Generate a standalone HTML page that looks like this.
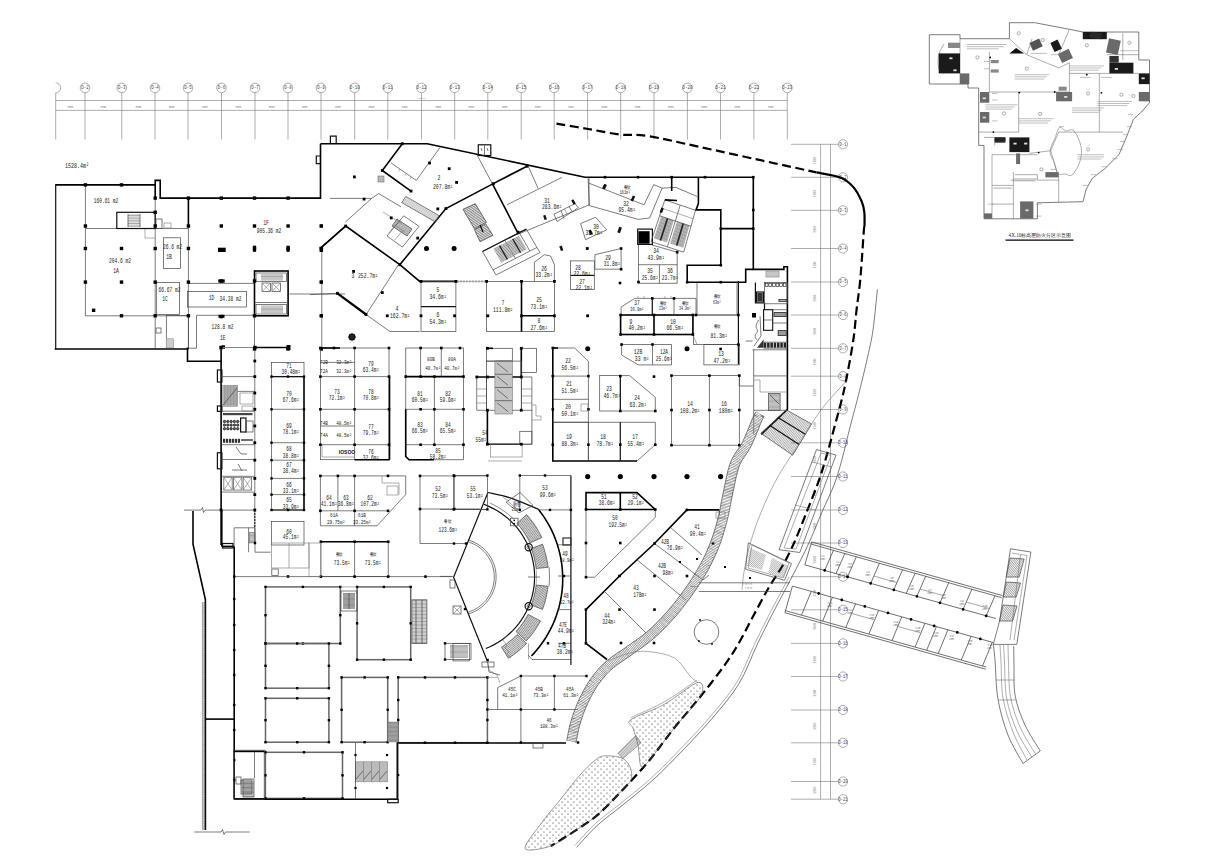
<!DOCTYPE html>
<html><head><meta charset="utf-8"><style>
html,body{margin:0;padding:0;background:#fff;width:1210px;height:862px;overflow:hidden;}
svg{display:block;font-family:"Liberation Serif",serif;}
</style></head><body>
<svg width="1210" height="862" viewBox="0 0 1210 862" shape-rendering="auto"><path d="M55.7,82.9 A5,5 0 0 1 55.7,92.9" stroke="#777" stroke-width="0.6" fill="none"/>
<line x1="55.7" y1="92.9" x2="55.7" y2="139.5" stroke="#777" stroke-width="0.6" fill="none"/>
<circle cx="85" cy="87.9" r="4.8" stroke="#777" stroke-width="0.6" fill="none"/>
<text transform="translate(85,89.2) scale(0.72,1)" font-size="5.8" text-anchor="middle" fill="#444" font-family="Liberation Mono">D-2</text>
<line x1="85" y1="92.7" x2="85" y2="139.5" stroke="#777" stroke-width="0.6" fill="none"/>
<circle cx="121.8" cy="87.9" r="4.8" stroke="#777" stroke-width="0.6" fill="none"/>
<text transform="translate(121.8,89.2) scale(0.72,1)" font-size="5.8" text-anchor="middle" fill="#444" font-family="Liberation Mono">D-3</text>
<line x1="121.8" y1="92.7" x2="121.8" y2="139.5" stroke="#777" stroke-width="0.6" fill="none"/>
<circle cx="155" cy="87.9" r="4.8" stroke="#777" stroke-width="0.6" fill="none"/>
<text transform="translate(155,89.2) scale(0.72,1)" font-size="5.8" text-anchor="middle" fill="#444" font-family="Liberation Mono">D-4</text>
<line x1="155" y1="92.7" x2="155" y2="139.5" stroke="#777" stroke-width="0.6" fill="none"/>
<circle cx="188" cy="87.9" r="4.8" stroke="#777" stroke-width="0.6" fill="none"/>
<text transform="translate(188,89.2) scale(0.72,1)" font-size="5.8" text-anchor="middle" fill="#444" font-family="Liberation Mono">D-5</text>
<line x1="188" y1="92.7" x2="188" y2="139.5" stroke="#777" stroke-width="0.6" fill="none"/>
<circle cx="221.5" cy="87.9" r="4.8" stroke="#777" stroke-width="0.6" fill="none"/>
<text transform="translate(221.5,89.2) scale(0.72,1)" font-size="5.8" text-anchor="middle" fill="#444" font-family="Liberation Mono">D-6</text>
<line x1="221.5" y1="92.7" x2="221.5" y2="139.5" stroke="#777" stroke-width="0.6" fill="none"/>
<circle cx="255" cy="87.9" r="4.8" stroke="#777" stroke-width="0.6" fill="none"/>
<text transform="translate(255,89.2) scale(0.72,1)" font-size="5.8" text-anchor="middle" fill="#444" font-family="Liberation Mono">D-7</text>
<line x1="255" y1="92.7" x2="255" y2="139.5" stroke="#777" stroke-width="0.6" fill="none"/>
<circle cx="288" cy="87.9" r="4.8" stroke="#777" stroke-width="0.6" fill="none"/>
<text transform="translate(288,89.2) scale(0.72,1)" font-size="5.8" text-anchor="middle" fill="#444" font-family="Liberation Mono">D-8</text>
<line x1="288" y1="92.7" x2="288" y2="139.5" stroke="#777" stroke-width="0.6" fill="none"/>
<circle cx="321" cy="87.9" r="4.8" stroke="#777" stroke-width="0.6" fill="none"/>
<text transform="translate(321,89.2) scale(0.72,1)" font-size="5.8" text-anchor="middle" fill="#444" font-family="Liberation Mono">D-9</text>
<line x1="321" y1="92.7" x2="321" y2="139.5" stroke="#777" stroke-width="0.6" fill="none"/>
<circle cx="354.7" cy="87.9" r="4.8" stroke="#777" stroke-width="0.6" fill="none"/>
<text transform="translate(354.7,89.2) scale(0.72,1)" font-size="5.8" text-anchor="middle" fill="#444" font-family="Liberation Mono">D-10</text>
<line x1="354.7" y1="92.7" x2="354.7" y2="139.5" stroke="#777" stroke-width="0.6" fill="none"/>
<circle cx="387.8" cy="87.9" r="4.8" stroke="#777" stroke-width="0.6" fill="none"/>
<text transform="translate(387.8,89.2) scale(0.72,1)" font-size="5.8" text-anchor="middle" fill="#444" font-family="Liberation Mono">D-11</text>
<line x1="387.8" y1="92.7" x2="387.8" y2="139.5" stroke="#777" stroke-width="0.6" fill="none"/>
<circle cx="421.5" cy="87.9" r="4.8" stroke="#777" stroke-width="0.6" fill="none"/>
<text transform="translate(421.5,89.2) scale(0.72,1)" font-size="5.8" text-anchor="middle" fill="#444" font-family="Liberation Mono">D-12</text>
<line x1="421.5" y1="92.7" x2="421.5" y2="139.5" stroke="#777" stroke-width="0.6" fill="none"/>
<circle cx="454.7" cy="87.9" r="4.8" stroke="#777" stroke-width="0.6" fill="none"/>
<text transform="translate(454.7,89.2) scale(0.72,1)" font-size="5.8" text-anchor="middle" fill="#444" font-family="Liberation Mono">D-13</text>
<line x1="454.7" y1="92.7" x2="454.7" y2="139.5" stroke="#777" stroke-width="0.6" fill="none"/>
<circle cx="487.8" cy="87.9" r="4.8" stroke="#777" stroke-width="0.6" fill="none"/>
<text transform="translate(487.8,89.2) scale(0.72,1)" font-size="5.8" text-anchor="middle" fill="#444" font-family="Liberation Mono">D-14</text>
<line x1="487.8" y1="92.7" x2="487.8" y2="139.5" stroke="#777" stroke-width="0.6" fill="none"/>
<circle cx="521.2" cy="87.9" r="4.8" stroke="#777" stroke-width="0.6" fill="none"/>
<text transform="translate(521.2,89.2) scale(0.72,1)" font-size="5.8" text-anchor="middle" fill="#444" font-family="Liberation Mono">D-15</text>
<line x1="521.2" y1="92.7" x2="521.2" y2="139.5" stroke="#777" stroke-width="0.6" fill="none"/>
<circle cx="554.2" cy="87.9" r="4.8" stroke="#777" stroke-width="0.6" fill="none"/>
<text transform="translate(554.2,89.2) scale(0.72,1)" font-size="5.8" text-anchor="middle" fill="#444" font-family="Liberation Mono">D-16</text>
<line x1="554.2" y1="92.7" x2="554.2" y2="139.5" stroke="#777" stroke-width="0.6" fill="none"/>
<circle cx="587.6" cy="87.9" r="4.8" stroke="#777" stroke-width="0.6" fill="none"/>
<text transform="translate(587.6,89.2) scale(0.72,1)" font-size="5.8" text-anchor="middle" fill="#444" font-family="Liberation Mono">D-17</text>
<line x1="587.6" y1="92.7" x2="587.6" y2="139.5" stroke="#777" stroke-width="0.6" fill="none"/>
<circle cx="620.7" cy="87.9" r="4.8" stroke="#777" stroke-width="0.6" fill="none"/>
<text transform="translate(620.7,89.2) scale(0.72,1)" font-size="5.8" text-anchor="middle" fill="#444" font-family="Liberation Mono">D-18</text>
<line x1="620.7" y1="92.7" x2="620.7" y2="139.5" stroke="#777" stroke-width="0.6" fill="none"/>
<circle cx="654" cy="87.9" r="4.8" stroke="#777" stroke-width="0.6" fill="none"/>
<text transform="translate(654,89.2) scale(0.72,1)" font-size="5.8" text-anchor="middle" fill="#444" font-family="Liberation Mono">D-19</text>
<line x1="654" y1="92.7" x2="654" y2="139.5" stroke="#777" stroke-width="0.6" fill="none"/>
<circle cx="687.4" cy="87.9" r="4.8" stroke="#777" stroke-width="0.6" fill="none"/>
<text transform="translate(687.4,89.2) scale(0.72,1)" font-size="5.8" text-anchor="middle" fill="#444" font-family="Liberation Mono">D-20</text>
<line x1="687.4" y1="92.7" x2="687.4" y2="139.5" stroke="#777" stroke-width="0.6" fill="none"/>
<circle cx="720.5" cy="87.9" r="4.8" stroke="#777" stroke-width="0.6" fill="none"/>
<text transform="translate(720.5,89.2) scale(0.72,1)" font-size="5.8" text-anchor="middle" fill="#444" font-family="Liberation Mono">D-21</text>
<line x1="720.5" y1="92.7" x2="720.5" y2="139.5" stroke="#777" stroke-width="0.6" fill="none"/>
<circle cx="753.9" cy="87.9" r="4.8" stroke="#777" stroke-width="0.6" fill="none"/>
<text transform="translate(753.9,89.2) scale(0.72,1)" font-size="5.8" text-anchor="middle" fill="#444" font-family="Liberation Mono">D-22</text>
<line x1="753.9" y1="92.7" x2="753.9" y2="139.5" stroke="#777" stroke-width="0.6" fill="none"/>
<circle cx="787.3" cy="87.9" r="4.8" stroke="#777" stroke-width="0.6" fill="none"/>
<text transform="translate(787.3,89.2) scale(0.72,1)" font-size="5.8" text-anchor="middle" fill="#444" font-family="Liberation Mono">D-23</text>
<line x1="787.3" y1="92.7" x2="787.3" y2="139.5" stroke="#777" stroke-width="0.6" fill="none"/>
<line x1="55.7" y1="100.5" x2="787.3" y2="100.5" stroke="#777" stroke-width="0.6" fill="none"/>
<line x1="55.7" y1="110.4" x2="787.3" y2="110.4" stroke="#777" stroke-width="0.6" fill="none"/>
<text transform="translate(70.3,107.6) scale(0.8,1)" font-size="3" text-anchor="middle" fill="#777" font-family="Liberation Mono">3300</text>
<text transform="translate(103.4,107.6) scale(0.8,1)" font-size="3" text-anchor="middle" fill="#777" font-family="Liberation Mono">3300</text>
<text transform="translate(138.4,107.6) scale(0.8,1)" font-size="3" text-anchor="middle" fill="#777" font-family="Liberation Mono">3300</text>
<text transform="translate(171.5,107.6) scale(0.8,1)" font-size="3" text-anchor="middle" fill="#777" font-family="Liberation Mono">3300</text>
<text transform="translate(204.8,107.6) scale(0.8,1)" font-size="3" text-anchor="middle" fill="#777" font-family="Liberation Mono">3300</text>
<text transform="translate(238.2,107.6) scale(0.8,1)" font-size="3" text-anchor="middle" fill="#777" font-family="Liberation Mono">3300</text>
<text transform="translate(271.5,107.6) scale(0.8,1)" font-size="3" text-anchor="middle" fill="#777" font-family="Liberation Mono">3300</text>
<text transform="translate(304.5,107.6) scale(0.8,1)" font-size="3" text-anchor="middle" fill="#777" font-family="Liberation Mono">3300</text>
<text transform="translate(337.9,107.6) scale(0.8,1)" font-size="3" text-anchor="middle" fill="#777" font-family="Liberation Mono">3300</text>
<text transform="translate(371.2,107.6) scale(0.8,1)" font-size="3" text-anchor="middle" fill="#777" font-family="Liberation Mono">3300</text>
<text transform="translate(404.6,107.6) scale(0.8,1)" font-size="3" text-anchor="middle" fill="#777" font-family="Liberation Mono">3300</text>
<text transform="translate(438.1,107.6) scale(0.8,1)" font-size="3" text-anchor="middle" fill="#777" font-family="Liberation Mono">3300</text>
<text transform="translate(471.2,107.6) scale(0.8,1)" font-size="3" text-anchor="middle" fill="#777" font-family="Liberation Mono">3300</text>
<text transform="translate(504.5,107.6) scale(0.8,1)" font-size="3" text-anchor="middle" fill="#777" font-family="Liberation Mono">3300</text>
<text transform="translate(537.7,107.6) scale(0.8,1)" font-size="3" text-anchor="middle" fill="#777" font-family="Liberation Mono">3300</text>
<text transform="translate(570.9,107.6) scale(0.8,1)" font-size="3" text-anchor="middle" fill="#777" font-family="Liberation Mono">3300</text>
<text transform="translate(604.2,107.6) scale(0.8,1)" font-size="3" text-anchor="middle" fill="#777" font-family="Liberation Mono">3300</text>
<text transform="translate(637.4,107.6) scale(0.8,1)" font-size="3" text-anchor="middle" fill="#777" font-family="Liberation Mono">3300</text>
<text transform="translate(670.7,107.6) scale(0.8,1)" font-size="3" text-anchor="middle" fill="#777" font-family="Liberation Mono">3300</text>
<text transform="translate(704,107.6) scale(0.8,1)" font-size="3" text-anchor="middle" fill="#777" font-family="Liberation Mono">3300</text>
<text transform="translate(737.2,107.6) scale(0.8,1)" font-size="3" text-anchor="middle" fill="#777" font-family="Liberation Mono">3300</text>
<text transform="translate(770.6,107.6) scale(0.8,1)" font-size="3" text-anchor="middle" fill="#777" font-family="Liberation Mono">3300</text>
<text transform="translate(421.5,99.3) scale(1.0,1)" font-size="2.3" text-anchor="middle" fill="#888" font-family="Liberation Mono">138000</text>
<circle cx="843" cy="144.3" r="4.6" stroke="#777" stroke-width="0.6" fill="none"/>
<text transform="translate(843,145.6) scale(0.7,1)" font-size="5.4" text-anchor="middle" fill="#444" font-family="Liberation Mono">D-1</text>
<line x1="791" y1="144.3" x2="838.4" y2="144.3" stroke="#777" stroke-width="0.6" fill="none"/>
<circle cx="843" cy="177.3" r="4.6" stroke="#777" stroke-width="0.6" fill="none"/>
<text transform="translate(843,178.6) scale(0.7,1)" font-size="5.4" text-anchor="middle" fill="#444" font-family="Liberation Mono">D-2</text>
<line x1="791" y1="177.3" x2="838.4" y2="177.3" stroke="#777" stroke-width="0.6" fill="none"/>
<circle cx="843" cy="210.3" r="4.6" stroke="#777" stroke-width="0.6" fill="none"/>
<text transform="translate(843,211.6) scale(0.7,1)" font-size="5.4" text-anchor="middle" fill="#444" font-family="Liberation Mono">D-3</text>
<line x1="791" y1="210.3" x2="838.4" y2="210.3" stroke="#777" stroke-width="0.6" fill="none"/>
<circle cx="843" cy="248.5" r="4.6" stroke="#777" stroke-width="0.6" fill="none"/>
<text transform="translate(843,249.8) scale(0.7,1)" font-size="5.4" text-anchor="middle" fill="#444" font-family="Liberation Mono">D-4</text>
<line x1="791" y1="248.5" x2="838.4" y2="248.5" stroke="#777" stroke-width="0.6" fill="none"/>
<circle cx="843" cy="282" r="4.6" stroke="#777" stroke-width="0.6" fill="none"/>
<text transform="translate(843,283.3) scale(0.7,1)" font-size="5.4" text-anchor="middle" fill="#444" font-family="Liberation Mono">D-5</text>
<line x1="791" y1="282" x2="838.4" y2="282" stroke="#777" stroke-width="0.6" fill="none"/>
<circle cx="843" cy="315" r="4.6" stroke="#777" stroke-width="0.6" fill="none"/>
<text transform="translate(843,316.3) scale(0.7,1)" font-size="5.4" text-anchor="middle" fill="#444" font-family="Liberation Mono">D-6</text>
<line x1="791" y1="315" x2="838.4" y2="315" stroke="#777" stroke-width="0.6" fill="none"/>
<circle cx="843" cy="348.3" r="4.6" stroke="#777" stroke-width="0.6" fill="none"/>
<text transform="translate(843,349.6) scale(0.7,1)" font-size="5.4" text-anchor="middle" fill="#444" font-family="Liberation Mono">D-7</text>
<line x1="791" y1="348.3" x2="838.4" y2="348.3" stroke="#777" stroke-width="0.6" fill="none"/>
<circle cx="843" cy="376.2" r="4.6" stroke="#777" stroke-width="0.6" fill="none"/>
<text transform="translate(843,377.5) scale(0.7,1)" font-size="5.4" text-anchor="middle" fill="#444" font-family="Liberation Mono">D-8</text>
<line x1="791" y1="376.2" x2="838.4" y2="376.2" stroke="#777" stroke-width="0.6" fill="none"/>
<circle cx="843" cy="409.5" r="4.6" stroke="#777" stroke-width="0.6" fill="none"/>
<text transform="translate(843,410.8) scale(0.7,1)" font-size="5.4" text-anchor="middle" fill="#444" font-family="Liberation Mono">D-9</text>
<line x1="791" y1="409.5" x2="838.4" y2="409.5" stroke="#777" stroke-width="0.6" fill="none"/>
<circle cx="843" cy="442.8" r="4.6" stroke="#777" stroke-width="0.6" fill="none"/>
<text transform="translate(843,444.1) scale(0.7,1)" font-size="5.4" text-anchor="middle" fill="#444" font-family="Liberation Mono">D-10</text>
<line x1="791" y1="442.8" x2="838.4" y2="442.8" stroke="#777" stroke-width="0.6" fill="none"/>
<circle cx="843" cy="476.5" r="4.6" stroke="#777" stroke-width="0.6" fill="none"/>
<text transform="translate(843,477.8) scale(0.7,1)" font-size="5.4" text-anchor="middle" fill="#444" font-family="Liberation Mono">D-11</text>
<line x1="791" y1="476.5" x2="838.4" y2="476.5" stroke="#777" stroke-width="0.6" fill="none"/>
<circle cx="843" cy="510" r="4.6" stroke="#777" stroke-width="0.6" fill="none"/>
<text transform="translate(843,511.3) scale(0.7,1)" font-size="5.4" text-anchor="middle" fill="#444" font-family="Liberation Mono">D-12</text>
<line x1="791" y1="510" x2="838.4" y2="510" stroke="#777" stroke-width="0.6" fill="none"/>
<circle cx="843" cy="543" r="4.6" stroke="#777" stroke-width="0.6" fill="none"/>
<text transform="translate(843,544.3) scale(0.7,1)" font-size="5.4" text-anchor="middle" fill="#444" font-family="Liberation Mono">D-13</text>
<line x1="791" y1="543" x2="838.4" y2="543" stroke="#777" stroke-width="0.6" fill="none"/>
<circle cx="843" cy="576.7" r="4.6" stroke="#777" stroke-width="0.6" fill="none"/>
<text transform="translate(843,578) scale(0.7,1)" font-size="5.4" text-anchor="middle" fill="#444" font-family="Liberation Mono">D-14</text>
<line x1="791" y1="576.7" x2="838.4" y2="576.7" stroke="#777" stroke-width="0.6" fill="none"/>
<circle cx="843" cy="609.8" r="4.6" stroke="#777" stroke-width="0.6" fill="none"/>
<text transform="translate(843,611.1) scale(0.7,1)" font-size="5.4" text-anchor="middle" fill="#444" font-family="Liberation Mono">D-15</text>
<line x1="791" y1="609.8" x2="838.4" y2="609.8" stroke="#777" stroke-width="0.6" fill="none"/>
<circle cx="843" cy="643.4" r="4.6" stroke="#777" stroke-width="0.6" fill="none"/>
<text transform="translate(843,644.7) scale(0.7,1)" font-size="5.4" text-anchor="middle" fill="#444" font-family="Liberation Mono">D-16</text>
<line x1="791" y1="643.4" x2="838.4" y2="643.4" stroke="#777" stroke-width="0.6" fill="none"/>
<circle cx="843" cy="676.5" r="4.6" stroke="#777" stroke-width="0.6" fill="none"/>
<text transform="translate(843,677.8) scale(0.7,1)" font-size="5.4" text-anchor="middle" fill="#444" font-family="Liberation Mono">D-17</text>
<line x1="791" y1="676.5" x2="838.4" y2="676.5" stroke="#777" stroke-width="0.6" fill="none"/>
<circle cx="843" cy="710" r="4.6" stroke="#777" stroke-width="0.6" fill="none"/>
<text transform="translate(843,711.3) scale(0.7,1)" font-size="5.4" text-anchor="middle" fill="#444" font-family="Liberation Mono">D-18</text>
<line x1="791" y1="710" x2="838.4" y2="710" stroke="#777" stroke-width="0.6" fill="none"/>
<circle cx="843" cy="742.8" r="4.6" stroke="#777" stroke-width="0.6" fill="none"/>
<text transform="translate(843,744.1) scale(0.7,1)" font-size="5.4" text-anchor="middle" fill="#444" font-family="Liberation Mono">D-19</text>
<line x1="791" y1="742.8" x2="838.4" y2="742.8" stroke="#777" stroke-width="0.6" fill="none"/>
<circle cx="843" cy="781.5" r="4.6" stroke="#777" stroke-width="0.6" fill="none"/>
<text transform="translate(843,782.8) scale(0.7,1)" font-size="5.4" text-anchor="middle" fill="#444" font-family="Liberation Mono">D-20</text>
<line x1="791" y1="781.5" x2="838.4" y2="781.5" stroke="#777" stroke-width="0.6" fill="none"/>
<circle cx="843" cy="799.2" r="4.6" stroke="#777" stroke-width="0.6" fill="none"/>
<text transform="translate(843,800.5) scale(0.7,1)" font-size="5.4" text-anchor="middle" fill="#444" font-family="Liberation Mono">D-21</text>
<line x1="791" y1="799.2" x2="838.4" y2="799.2" stroke="#777" stroke-width="0.6" fill="none"/>
<line x1="820.6" y1="144.3" x2="820.6" y2="799.2" stroke="#777" stroke-width="0.6" fill="none"/>
<line x1="830.5" y1="144.3" x2="830.5" y2="799.2" stroke="#777" stroke-width="0.6" fill="none"/>
<text x="0" y="0" font-size="3.6" fill="#777" font-family="Liberation Serif" transform="translate(816,160.8) rotate(-90)" text-anchor="middle">3300</text>
<text x="0" y="0" font-size="3.6" fill="#777" font-family="Liberation Serif" transform="translate(816,193.8) rotate(-90)" text-anchor="middle">3300</text>
<text x="0" y="0" font-size="3.6" fill="#777" font-family="Liberation Serif" transform="translate(816,229.4) rotate(-90)" text-anchor="middle">3300</text>
<text x="0" y="0" font-size="3.6" fill="#777" font-family="Liberation Serif" transform="translate(816,265.2) rotate(-90)" text-anchor="middle">3300</text>
<text x="0" y="0" font-size="3.6" fill="#777" font-family="Liberation Serif" transform="translate(816,298.5) rotate(-90)" text-anchor="middle">3300</text>
<text x="0" y="0" font-size="3.6" fill="#777" font-family="Liberation Serif" transform="translate(816,331.6) rotate(-90)" text-anchor="middle">3300</text>
<text x="0" y="0" font-size="3.6" fill="#777" font-family="Liberation Serif" transform="translate(816,362.2) rotate(-90)" text-anchor="middle">3300</text>
<text x="0" y="0" font-size="3.6" fill="#777" font-family="Liberation Serif" transform="translate(816,392.9) rotate(-90)" text-anchor="middle">3300</text>
<text x="0" y="0" font-size="3.6" fill="#777" font-family="Liberation Serif" transform="translate(816,426.1) rotate(-90)" text-anchor="middle">3300</text>
<text x="0" y="0" font-size="3.6" fill="#777" font-family="Liberation Serif" transform="translate(816,459.6) rotate(-90)" text-anchor="middle">3300</text>
<text x="0" y="0" font-size="3.6" fill="#777" font-family="Liberation Serif" transform="translate(816,493.2) rotate(-90)" text-anchor="middle">3300</text>
<text x="0" y="0" font-size="3.6" fill="#777" font-family="Liberation Serif" transform="translate(816,526.5) rotate(-90)" text-anchor="middle">3300</text>
<text x="0" y="0" font-size="3.6" fill="#777" font-family="Liberation Serif" transform="translate(816,559.9) rotate(-90)" text-anchor="middle">3300</text>
<text x="0" y="0" font-size="3.6" fill="#777" font-family="Liberation Serif" transform="translate(816,593.2) rotate(-90)" text-anchor="middle">3300</text>
<text x="0" y="0" font-size="3.6" fill="#777" font-family="Liberation Serif" transform="translate(816,626.6) rotate(-90)" text-anchor="middle">3300</text>
<text x="0" y="0" font-size="3.6" fill="#777" font-family="Liberation Serif" transform="translate(816,660) rotate(-90)" text-anchor="middle">3300</text>
<text x="0" y="0" font-size="3.6" fill="#777" font-family="Liberation Serif" transform="translate(816,693.2) rotate(-90)" text-anchor="middle">3300</text>
<text x="0" y="0" font-size="3.6" fill="#777" font-family="Liberation Serif" transform="translate(816,726.4) rotate(-90)" text-anchor="middle">3300</text>
<text x="0" y="0" font-size="3.6" fill="#777" font-family="Liberation Serif" transform="translate(816,762.1) rotate(-90)" text-anchor="middle">3300</text>
<text x="0" y="0" font-size="3.6" fill="#777" font-family="Liberation Serif" transform="translate(816,790.4) rotate(-90)" text-anchor="middle">3300</text>
<line x1="55.7" y1="349" x2="55.7" y2="184.9" stroke="#111" stroke-width="1.2" fill="none"/>
<polyline points="55.2,184.9 155.2,184.9 155.2,180.4 160.2,180.4 160.2,198.1 320.5,198.1 320.5,143.7" stroke="#000" stroke-width="1.6" fill="none"/>
<line x1="155.2" y1="184.9" x2="155.2" y2="198.1" stroke="#000" stroke-width="1.6" fill="none"/>
<line x1="54.7" y1="349" x2="188.4" y2="349" stroke="#000" stroke-width="1.6" fill="none"/>
<polyline points="320.5,156 316.3,156 316.3,163.7 320.5,163.7" stroke="#111" stroke-width="1.2" fill="none"/>
<polyline points="85.4,184.9 85.4,315.8 188.4,315.8" stroke="#444" stroke-width="0.7" fill="none"/>
<line x1="155.2" y1="198.1" x2="155.2" y2="349" stroke="#444" stroke-width="0.7" fill="none"/>
<line x1="188.4" y1="198.1" x2="188.4" y2="226" stroke="#000" stroke-width="1.6" fill="none"/>
<line x1="188.4" y1="226" x2="188.4" y2="349" stroke="#444" stroke-width="0.7" fill="none"/>
<line x1="85.4" y1="228.5" x2="188.4" y2="228.5" stroke="#444" stroke-width="0.7" fill="none"/>
<polyline points="155.2,228.5 145,228.5 145,238 155.2,238" stroke="#777" stroke-width="0.6" fill="none"/>
<rect x="163.4" y="237.8" width="17" height="30.6" stroke="#444" stroke-width="0.7" fill="none"/>
<rect x="156.7" y="282.6" width="22.9" height="32" stroke="#444" stroke-width="0.7" fill="none"/>
<rect x="187.6" y="291.4" width="58.9" height="15.6" stroke="#444" stroke-width="0.7" fill="none"/>
<line x1="188.4" y1="283.4" x2="254.5" y2="283.4" stroke="#444" stroke-width="0.7" fill="none"/>
<line x1="289.4" y1="294" x2="345" y2="294" stroke="#444" stroke-width="0.7" fill="none"/>
<polyline points="254.5,315.3 196.5,315.3 196.5,348.2 188.4,348.2" stroke="#444" stroke-width="0.7" fill="none"/>
<rect x="166.3" y="315.5" width="22.1" height="33.7" stroke="#444" stroke-width="0.7" fill="none"/>
<clipPath id="c196"><polygon points="166.3,338.8 173.7,338.8 173.7,347.7 166.3,347.7"/></clipPath><g clip-path="url(#c196)" stroke="#555" stroke-width="0.5"><line x1="176.8" y1="336.5" x2="176.8" y2="350"/><line x1="175.8" y1="336.5" x2="175.8" y2="350"/><line x1="174.8" y1="336.5" x2="174.8" y2="350"/><line x1="173.8" y1="336.5" x2="173.8" y2="350"/><line x1="172.8" y1="336.5" x2="172.8" y2="350"/><line x1="171.8" y1="336.5" x2="171.8" y2="350"/><line x1="170.8" y1="336.5" x2="170.8" y2="350"/><line x1="169.8" y1="336.5" x2="169.8" y2="350"/><line x1="168.8" y1="336.5" x2="168.8" y2="350"/><line x1="167.8" y1="336.5" x2="167.8" y2="350"/><line x1="166.8" y1="336.5" x2="166.8" y2="350"/><line x1="165.8" y1="336.5" x2="165.8" y2="350"/><line x1="164.8" y1="336.5" x2="164.8" y2="350"/><line x1="163.8" y1="336.5" x2="163.8" y2="350"/></g>
<rect x="166.3" y="338.8" width="7.4" height="8.9" stroke="#999" stroke-width="0.5" fill="#ccc"/>
<rect x="156" y="328" width="5" height="5" stroke="#444" stroke-width="0.7" fill="none"/>
<line x1="254.5" y1="315.3" x2="254.5" y2="349" stroke="#444" stroke-width="0.7" fill="none"/>
<line x1="321.8" y1="247" x2="321.8" y2="349" stroke="#444" stroke-width="0.7" fill="none"/>
<line x1="321.8" y1="247" x2="345.7" y2="226" stroke="#000" stroke-width="1.6" fill="none"/>
<rect x="116.8" y="212.3" width="38.4" height="16.2" stroke="#111" stroke-width="1.2" fill="none"/>
<clipPath id="c203"><polygon points="128,214 140,214 140,227 128,227"/></clipPath><g clip-path="url(#c203)" stroke="#555" stroke-width="0.5"><line x1="124.2" y1="210.7" x2="143.8" y2="210.7"/><line x1="124.2" y1="212.3" x2="143.8" y2="212.3"/><line x1="124.2" y1="213.9" x2="143.8" y2="213.9"/><line x1="124.2" y1="215.5" x2="143.8" y2="215.5"/><line x1="124.2" y1="217.1" x2="143.8" y2="217.1"/><line x1="124.2" y1="218.7" x2="143.8" y2="218.7"/><line x1="124.2" y1="220.3" x2="143.8" y2="220.3"/><line x1="124.2" y1="221.9" x2="143.8" y2="221.9"/><line x1="124.2" y1="223.5" x2="143.8" y2="223.5"/><line x1="124.2" y1="225.1" x2="143.8" y2="225.1"/><line x1="124.2" y1="226.7" x2="143.8" y2="226.7"/><line x1="124.2" y1="228.3" x2="143.8" y2="228.3"/><line x1="124.2" y1="229.9" x2="143.8" y2="229.9"/></g>
<line x1="128" y1="214" x2="128" y2="227" stroke="#444" stroke-width="0.7" fill="none"/>
<line x1="140" y1="214" x2="140" y2="227" stroke="#444" stroke-width="0.7" fill="none"/>
<rect x="156" y="219" width="6" height="9.5" stroke="#444" stroke-width="0.7" fill="none"/>
<rect x="164" y="223" width="7" height="5" stroke="#777" stroke-width="0.6" fill="none"/>
<rect x="254.5" y="271" width="33.6" height="44.8" stroke="#000" stroke-width="1.6" fill="none"/>
<rect x="256" y="273" width="30.5" height="8.5" stroke="#444" stroke-width="0.7" fill="none"/>
<clipPath id="c210"><polygon points="261,274 283,274 283,280.5 261,280.5"/></clipPath><g clip-path="url(#c210)" stroke="#555" stroke-width="0.5"><line x1="259.5" y1="264.8" x2="284.5" y2="264.8"/><line x1="259.5" y1="266.1" x2="284.5" y2="266.1"/><line x1="259.5" y1="267.4" x2="284.5" y2="267.4"/><line x1="259.5" y1="268.7" x2="284.5" y2="268.7"/><line x1="259.5" y1="270" x2="284.5" y2="270"/><line x1="259.5" y1="271.3" x2="284.5" y2="271.3"/><line x1="259.5" y1="272.6" x2="284.5" y2="272.6"/><line x1="259.5" y1="273.9" x2="284.5" y2="273.9"/><line x1="259.5" y1="275.2" x2="284.5" y2="275.2"/><line x1="259.5" y1="276.5" x2="284.5" y2="276.5"/><line x1="259.5" y1="277.8" x2="284.5" y2="277.8"/><line x1="259.5" y1="279.1" x2="284.5" y2="279.1"/><line x1="259.5" y1="280.4" x2="284.5" y2="280.4"/><line x1="259.5" y1="281.7" x2="284.5" y2="281.7"/><line x1="259.5" y1="283" x2="284.5" y2="283"/><line x1="259.5" y1="284.3" x2="284.5" y2="284.3"/><line x1="259.5" y1="285.6" x2="284.5" y2="285.6"/><line x1="259.5" y1="286.9" x2="284.5" y2="286.9"/><line x1="259.5" y1="288.2" x2="284.5" y2="288.2"/><line x1="259.5" y1="289.5" x2="284.5" y2="289.5"/></g>
<rect x="262" y="283" width="8.5" height="8.5" stroke="#444" stroke-width="0.7" fill="none"/>
<rect x="272" y="283" width="8.5" height="8.5" stroke="#444" stroke-width="0.7" fill="none"/>
<line x1="262" y1="283" x2="270.5" y2="291.5" stroke="#777" stroke-width="0.6" fill="none"/>
<line x1="270.5" y1="283" x2="262" y2="291.5" stroke="#777" stroke-width="0.6" fill="none"/>
<line x1="272" y1="283" x2="280.5" y2="291.5" stroke="#777" stroke-width="0.6" fill="none"/>
<line x1="280.5" y1="283" x2="272" y2="291.5" stroke="#777" stroke-width="0.6" fill="none"/>
<rect x="256" y="304.5" width="30.5" height="9.5" stroke="#444" stroke-width="0.7" fill="none"/>
<clipPath id="c218"><polygon points="261,305.5 283,305.5 283,313 261,313"/></clipPath><g clip-path="url(#c218)" stroke="#555" stroke-width="0.5"><line x1="259.4" y1="296.6" x2="284.6" y2="296.6"/><line x1="259.4" y1="297.9" x2="284.6" y2="297.9"/><line x1="259.4" y1="299.2" x2="284.6" y2="299.2"/><line x1="259.4" y1="300.5" x2="284.6" y2="300.5"/><line x1="259.4" y1="301.8" x2="284.6" y2="301.8"/><line x1="259.4" y1="303.1" x2="284.6" y2="303.1"/><line x1="259.4" y1="304.4" x2="284.6" y2="304.4"/><line x1="259.4" y1="305.7" x2="284.6" y2="305.7"/><line x1="259.4" y1="307" x2="284.6" y2="307"/><line x1="259.4" y1="308.3" x2="284.6" y2="308.3"/><line x1="259.4" y1="309.6" x2="284.6" y2="309.6"/><line x1="259.4" y1="310.9" x2="284.6" y2="310.9"/><line x1="259.4" y1="312.2" x2="284.6" y2="312.2"/><line x1="259.4" y1="313.5" x2="284.6" y2="313.5"/><line x1="259.4" y1="314.8" x2="284.6" y2="314.8"/><line x1="259.4" y1="316.1" x2="284.6" y2="316.1"/><line x1="259.4" y1="317.4" x2="284.6" y2="317.4"/><line x1="259.4" y1="318.7" x2="284.6" y2="318.7"/><line x1="259.4" y1="320" x2="284.6" y2="320"/><line x1="259.4" y1="321.3" x2="284.6" y2="321.3"/></g>
<line x1="254.5" y1="302.5" x2="288.1" y2="302.5" stroke="#444" stroke-width="0.7" fill="none"/>
<rect x="83.7" y="224.3" width="3.4" height="3.4" fill="#000"/>
<rect x="83.7" y="246.8" width="3.4" height="3.4" fill="#000"/>
<rect x="83.7" y="280.4" width="3.4" height="3.4" fill="#000"/>
<rect x="119.8" y="246.8" width="3.4" height="3.4" fill="#000"/>
<rect x="119.8" y="280.4" width="3.4" height="3.4" fill="#000"/>
<rect x="119.8" y="314.1" width="3.4" height="3.4" fill="#000"/>
<rect x="153.5" y="210.6" width="3.4" height="3.4" fill="#000"/>
<rect x="153.5" y="224.3" width="3.4" height="3.4" fill="#000"/>
<rect x="153.5" y="246.8" width="3.4" height="3.4" fill="#000"/>
<rect x="153.5" y="280.4" width="3.4" height="3.4" fill="#000"/>
<rect x="153.5" y="314.1" width="3.4" height="3.4" fill="#000"/>
<rect x="186.7" y="224.3" width="3.4" height="3.4" fill="#000"/>
<rect x="186.7" y="246.8" width="3.4" height="3.4" fill="#000"/>
<rect x="186.7" y="280.4" width="3.4" height="3.4" fill="#000"/>
<rect x="186.7" y="314.1" width="3.4" height="3.4" fill="#000"/>
<rect x="219.6" y="224.3" width="3.4" height="3.4" fill="#000"/>
<rect x="219.6" y="248" width="3.4" height="3.4" fill="#000"/>
<rect x="219.6" y="279.3" width="3.4" height="3.4" fill="#000"/>
<rect x="219.6" y="314.9" width="3.4" height="3.4" fill="#000"/>
<rect x="252.8" y="224.3" width="3.4" height="3.4" fill="#000"/>
<rect x="252.8" y="246.8" width="3.4" height="3.4" fill="#000"/>
<rect x="252.8" y="279.3" width="3.4" height="3.4" fill="#000"/>
<rect x="252.8" y="314.1" width="3.4" height="3.4" fill="#000"/>
<rect x="252.8" y="347.3" width="3.4" height="3.4" fill="#000"/>
<rect x="286.4" y="224.3" width="3.4" height="3.4" fill="#000"/>
<rect x="286.4" y="246.8" width="3.4" height="3.4" fill="#000"/>
<rect x="286.4" y="347.3" width="3.4" height="3.4" fill="#000"/>
<rect x="319.6" y="224.3" width="3.4" height="3.4" fill="#000"/>
<rect x="319.6" y="246.8" width="3.4" height="3.4" fill="#000"/>
<rect x="319.6" y="280.4" width="3.4" height="3.4" fill="#000"/>
<rect x="319.6" y="314.1" width="3.4" height="3.4" fill="#000"/>
<rect x="319.6" y="347.3" width="3.4" height="3.4" fill="#000"/>
<rect x="91.9" y="308.6" width="3.4" height="3.4" fill="#000"/>
<rect x="221.6" y="345.3" width="3.4" height="3.4" fill="#000"/>
<rect x="83.7" y="183.2" width="3.4" height="3.4" fill="#000"/>
<rect x="119.8" y="183.2" width="3.4" height="3.4" fill="#000"/>
<rect x="153.5" y="196.4" width="3.4" height="3.4" fill="#000"/>
<rect x="186.7" y="196.4" width="3.4" height="3.4" fill="#000"/>
<rect x="219.6" y="196.4" width="3.4" height="3.4" fill="#000"/>
<rect x="252.8" y="196.4" width="3.4" height="3.4" fill="#000"/>
<rect x="286.4" y="196.4" width="3.4" height="3.4" fill="#000"/>
<rect x="218" y="247.7" width="7.7" height="4.3" fill="#000"/>
<rect x="252.9" y="245.7" width="3.2" height="6.1" fill="#000"/>
<rect x="286.5" y="245.7" width="3.2" height="6.1" fill="#000"/>
<rect x="319.6" y="246.8" width="3.5" height="5.2" fill="#000"/>
<rect x="218.3" y="279.4" width="6.4" height="3.2" fill="#000"/>
<rect x="218.5" y="314.8" width="6" height="3" fill="#000"/>
<text transform="translate(77,168) scale(0.7,1)" font-size="7.1" text-anchor="middle" fill="#1a1a1a" font-family="Liberation Mono">1528.4m²</text>
<text transform="translate(106,202.5) scale(0.7,1)" font-size="6.5" text-anchor="middle" fill="#1a1a1a" font-family="Liberation Mono">160.61 m2</text>
<text transform="translate(120,263) scale(0.7,1)" font-size="6.5" text-anchor="middle" fill="#1a1a1a" font-family="Liberation Mono">204.6 m2</text>
<text transform="translate(116,272.5) scale(0.7,1)" font-size="6.8" text-anchor="middle" fill="#1a1a1a" font-family="Liberation Mono">1A</text>
<text transform="translate(172.5,249) scale(0.7,1)" font-size="6.5" text-anchor="middle" fill="#1a1a1a" font-family="Liberation Mono">26.6 m2</text>
<text transform="translate(169,258.5) scale(0.7,1)" font-size="6.8" text-anchor="middle" fill="#1a1a1a" font-family="Liberation Mono">1B</text>
<text transform="translate(169.5,292) scale(0.7,1)" font-size="6.5" text-anchor="middle" fill="#1a1a1a" font-family="Liberation Mono">66.67 m2</text>
<text transform="translate(165,300.5) scale(0.7,1)" font-size="6.8" text-anchor="middle" fill="#1a1a1a" font-family="Liberation Mono">1C</text>
<text transform="translate(211.6,300) scale(0.7,1)" font-size="6.8" text-anchor="middle" fill="#1a1a1a" font-family="Liberation Mono">1D</text>
<text transform="translate(230.5,301) scale(0.7,1)" font-size="6.5" text-anchor="middle" fill="#1a1a1a" font-family="Liberation Mono">34.38 m2</text>
<text transform="translate(266,224.5) scale(0.7,1)" font-size="6.8" text-anchor="middle" fill="#1a1a1a" font-family="Liberation Mono">1F</text>
<text transform="translate(269,233) scale(0.7,1)" font-size="6.5" text-anchor="middle" fill="#1a1a1a" font-family="Liberation Mono">905.36 m2</text>
<text transform="translate(222.5,328.5) scale(0.7,1)" font-size="6.5" text-anchor="middle" fill="#1a1a1a" font-family="Liberation Mono">128.8 m2</text>
<text transform="translate(222.8,340) scale(0.7,1)" font-size="6.8" text-anchor="middle" fill="#1a1a1a" font-family="Liberation Mono">1E</text>
<polyline points="187.5,347.5 187.5,361.2 221.1,361.2" stroke="#000" stroke-width="1.6" fill="none"/>
<line x1="221.1" y1="347.5" x2="221.1" y2="545" stroke="#000" stroke-width="1.6" fill="none"/>
<line x1="221.1" y1="347.5" x2="254.8" y2="347.5" stroke="#888" stroke-width="1" fill="none"/>
<line x1="254.8" y1="347.5" x2="288.5" y2="347.5" stroke="#000" stroke-width="1.6" fill="none"/>
<line x1="254.8" y1="347.5" x2="254.8" y2="545" stroke="#444" stroke-width="0.7" fill="none"/>
<line x1="221.1" y1="349" x2="221.1" y2="349" stroke="#444" stroke-width="0.7" fill="none"/>
<rect x="217.4" y="370" width="4.5" height="12" stroke="#111" stroke-width="1.2" fill="none"/>
<rect x="217.4" y="406" width="4.5" height="5.4" stroke="#111" stroke-width="1.2" fill="none"/>
<rect x="217.4" y="452.8" width="4.5" height="16" stroke="#111" stroke-width="1.2" fill="none"/>
<line x1="221.1" y1="376.6" x2="254.8" y2="376.6" stroke="#444" stroke-width="0.7" fill="none"/>
<line x1="221.1" y1="411.2" x2="254.8" y2="411.2" stroke="#444" stroke-width="0.7" fill="none"/>
<line x1="221.1" y1="444.7" x2="254.8" y2="444.7" stroke="#444" stroke-width="0.7" fill="none"/>
<line x1="221.1" y1="459.5" x2="254.8" y2="459.5" stroke="#444" stroke-width="0.7" fill="none"/>
<line x1="221.1" y1="476.3" x2="254.8" y2="476.3" stroke="#444" stroke-width="0.7" fill="none"/>
<line x1="221.1" y1="492.1" x2="254.8" y2="492.1" stroke="#444" stroke-width="0.7" fill="none"/>
<rect x="222.8" y="385.5" width="14.8" height="20.7" stroke="#777" stroke-width="0.6" fill="none"/>
<rect x="223.3" y="386" width="13.8" height="19.7" fill="#bbb"/>
<clipPath id="c298"><polygon points="222.8,385.5 237.6,385.5 237.6,406.2 222.8,406.2"/></clipPath><g clip-path="url(#c298)" stroke="#777" stroke-width="0.5"><line x1="243.9" y1="382.1" x2="243.9" y2="409.6"/><line x1="242.4" y1="382.1" x2="242.4" y2="409.6"/><line x1="240.9" y1="382.1" x2="240.9" y2="409.6"/><line x1="239.4" y1="382.1" x2="239.4" y2="409.6"/><line x1="237.9" y1="382.1" x2="237.9" y2="409.6"/><line x1="236.4" y1="382.1" x2="236.4" y2="409.6"/><line x1="234.9" y1="382.1" x2="234.9" y2="409.6"/><line x1="233.4" y1="382.1" x2="233.4" y2="409.6"/><line x1="231.9" y1="382.1" x2="231.9" y2="409.6"/><line x1="230.4" y1="382.1" x2="230.4" y2="409.6"/><line x1="228.9" y1="382.1" x2="228.9" y2="409.6"/><line x1="227.4" y1="382.1" x2="227.4" y2="409.6"/><line x1="225.9" y1="382.1" x2="225.9" y2="409.6"/><line x1="224.4" y1="382.1" x2="224.4" y2="409.6"/><line x1="222.9" y1="382.1" x2="222.9" y2="409.6"/><line x1="221.4" y1="382.1" x2="221.4" y2="409.6"/><line x1="219.9" y1="382.1" x2="219.9" y2="409.6"/><line x1="218.4" y1="382.1" x2="218.4" y2="409.6"/><line x1="216.9" y1="382.1" x2="216.9" y2="409.6"/></g>
<line x1="223" y1="405" x2="237" y2="388" stroke="#444" stroke-width="0.7" fill="none"/>
<polyline points="237.6,391.4 254.8,391.4" stroke="#444" stroke-width="0.7" fill="none"/>
<rect x="240" y="393" width="13" height="11" stroke="#777" stroke-width="0.6" fill="none"/>
<rect x="242" y="406" width="11" height="5" stroke="#777" stroke-width="0.6" fill="none"/>
<rect x="222.8" y="413" width="29.6" height="2.2" fill="#444"/>
<circle cx="224.5" cy="421.5" r="1.2" stroke="#111" stroke-width="0.7" fill="#666"/>
<circle cx="224.5" cy="425.1" r="1.2" stroke="#111" stroke-width="0.7" fill="#666"/>
<circle cx="224.5" cy="428.7" r="1.2" stroke="#111" stroke-width="0.7" fill="#666"/>
<circle cx="227.8" cy="421.5" r="1.2" stroke="#111" stroke-width="0.7" fill="#666"/>
<circle cx="227.8" cy="425.1" r="1.2" stroke="#111" stroke-width="0.7" fill="#666"/>
<circle cx="227.8" cy="428.7" r="1.2" stroke="#111" stroke-width="0.7" fill="#666"/>
<circle cx="231.1" cy="421.5" r="1.2" stroke="#111" stroke-width="0.7" fill="#666"/>
<circle cx="231.1" cy="425.1" r="1.2" stroke="#111" stroke-width="0.7" fill="#666"/>
<circle cx="231.1" cy="428.7" r="1.2" stroke="#111" stroke-width="0.7" fill="#666"/>
<circle cx="234.4" cy="421.5" r="1.2" stroke="#111" stroke-width="0.7" fill="#666"/>
<circle cx="234.4" cy="425.1" r="1.2" stroke="#111" stroke-width="0.7" fill="#666"/>
<circle cx="234.4" cy="428.7" r="1.2" stroke="#111" stroke-width="0.7" fill="#666"/>
<circle cx="237.7" cy="421.5" r="1.2" stroke="#111" stroke-width="0.7" fill="#666"/>
<circle cx="237.7" cy="425.1" r="1.2" stroke="#111" stroke-width="0.7" fill="#666"/>
<circle cx="237.7" cy="428.7" r="1.2" stroke="#111" stroke-width="0.7" fill="#666"/>
<rect x="240.6" y="418" width="5.4" height="14" stroke="#111" stroke-width="1.2" fill="none"/>
<rect x="246" y="421" width="7" height="11" stroke="#444" stroke-width="0.7" fill="none"/>
<rect x="223" y="438.8" width="2.2" height="4" fill="#333"/>
<rect x="225.9" y="438.8" width="2.2" height="4" fill="#333"/>
<rect x="228.9" y="438.8" width="2.2" height="4" fill="#333"/>
<rect x="231.8" y="438.8" width="2.2" height="4" fill="#333"/>
<rect x="234.8" y="438.8" width="2.2" height="4" fill="#333"/>
<rect x="237.8" y="438.8" width="2.2" height="4" fill="#333"/>
<line x1="241" y1="440" x2="253" y2="440" stroke="#111" stroke-width="1.2" fill="none"/>
<line x1="236" y1="447" x2="241" y2="454" stroke="#444" stroke-width="0.7" fill="none"/>
<line x1="241" y1="454" x2="247" y2="454" stroke="#444" stroke-width="0.7" fill="none"/>
<line x1="232" y1="470" x2="247" y2="470" stroke="#444" stroke-width="0.7" fill="none"/>
<line x1="238" y1="464" x2="242" y2="471" stroke="#444" stroke-width="0.7" fill="none"/>
<rect x="223.8" y="477.3" width="8.4" height="12.8" stroke="#777" stroke-width="0.9" fill="none"/>
<line x1="223.8" y1="477.3" x2="232.2" y2="490.1" stroke="#777" stroke-width="0.6" fill="none"/>
<line x1="232.2" y1="477.3" x2="223.8" y2="490.1" stroke="#777" stroke-width="0.6" fill="none"/>
<rect x="233.5" y="477.3" width="8.4" height="12.8" stroke="#777" stroke-width="0.9" fill="none"/>
<line x1="233.5" y1="477.3" x2="241.9" y2="490.1" stroke="#777" stroke-width="0.6" fill="none"/>
<line x1="241.9" y1="477.3" x2="233.5" y2="490.1" stroke="#777" stroke-width="0.6" fill="none"/>
<rect x="243.2" y="477.3" width="8.4" height="12.8" stroke="#777" stroke-width="0.9" fill="none"/>
<line x1="243.2" y1="477.3" x2="251.6" y2="490.1" stroke="#777" stroke-width="0.6" fill="none"/>
<line x1="251.6" y1="477.3" x2="243.2" y2="490.1" stroke="#777" stroke-width="0.6" fill="none"/>
<polyline points="184,510.1 201,510.1 202.5,507.5 203.5,512.5 205,510.1 254.7,510.1" stroke="#444" stroke-width="0.7" fill="none"/>
<rect x="253.4" y="359.6" width="2.8" height="2.8" fill="#000"/>
<rect x="253.4" y="375.2" width="2.8" height="2.8" fill="#000"/>
<rect x="253.4" y="391.6" width="2.8" height="2.8" fill="#000"/>
<rect x="253.4" y="407.9" width="2.8" height="2.8" fill="#000"/>
<rect x="253.4" y="424.6" width="2.8" height="2.8" fill="#000"/>
<rect x="253.4" y="441.3" width="2.8" height="2.8" fill="#000"/>
<rect x="253.4" y="458.8" width="2.8" height="2.8" fill="#000"/>
<rect x="253.4" y="477" width="2.8" height="2.8" fill="#000"/>
<rect x="253.4" y="493.2" width="2.8" height="2.8" fill="#000"/>
<rect x="253.4" y="508.6" width="2.8" height="2.8" fill="#000"/>
<rect x="219.3" y="345.8" width="3.5" height="3.5" fill="#000"/>
<rect x="253.1" y="345.8" width="3.5" height="3.5" fill="#000"/>
<rect x="286.5" y="345" width="4" height="5" fill="#000"/>
<rect x="219.7" y="508.6" width="2.8" height="2.8" fill="#000"/>
<line x1="221.8" y1="510" x2="221.8" y2="546.4" stroke="#000" stroke-width="1.6" fill="none"/>
<polyline points="221.8,546.4 234.2,546.4" stroke="#000" stroke-width="1.6" fill="none"/>
<rect x="222.5" y="543.5" width="10.5" height="4.5" stroke="#111" stroke-width="1.2" fill="none"/>
<line x1="234.2" y1="546.4" x2="234.2" y2="798.9" stroke="#000" stroke-width="1.6" fill="none"/>
<line x1="254.8" y1="510" x2="254.8" y2="527.3" stroke="#222" stroke-width="1.1" stroke-dasharray="2 1" fill="none"/>
<polyline points="234.1,547.5 234.1,527.8 255,527.8 255,552.2 270.7,552.2" stroke="#444" stroke-width="0.7" fill="none"/>
<polyline points="248.6,527.8 248.6,552.2" stroke="#444" stroke-width="0.7" fill="none"/>
<rect x="249.2" y="532.5" width="5.8" height="10.4" stroke="#777" stroke-width="0.6" fill="none"/>
<clipPath id="c364"><polygon points="249.2,532.5 255,532.5 255,542.9 249.2,542.9"/></clipPath><g clip-path="url(#c364)" stroke="#555" stroke-width="0.5"><line x1="245.1" y1="530.7" x2="259.1" y2="530.7"/><line x1="245.1" y1="531.9" x2="259.1" y2="531.9"/><line x1="245.1" y1="533.1" x2="259.1" y2="533.1"/><line x1="245.1" y1="534.3" x2="259.1" y2="534.3"/><line x1="245.1" y1="535.5" x2="259.1" y2="535.5"/><line x1="245.1" y1="536.7" x2="259.1" y2="536.7"/><line x1="245.1" y1="537.9" x2="259.1" y2="537.9"/><line x1="245.1" y1="539.1" x2="259.1" y2="539.1"/><line x1="245.1" y1="540.3" x2="259.1" y2="540.3"/><line x1="245.1" y1="541.5" x2="259.1" y2="541.5"/><line x1="245.1" y1="542.7" x2="259.1" y2="542.7"/><line x1="245.1" y1="543.9" x2="259.1" y2="543.9"/></g>
<rect x="253.8" y="541.7" width="2.4" height="2.4" fill="#000"/>
<rect x="271.8" y="569" width="6.4" height="6.4" stroke="#444" stroke-width="0.7" fill="none"/>
<rect x="286.7" y="575.2" width="2.6" height="2.6" fill="#000"/>
<polyline points="193,511 193,544.2 205.4,599.6 205.4,829.9" stroke="#000" stroke-width="1.6" fill="none"/>
<clipPath id="c369"><polygon points="202.4,602 205.4,602 205.4,829.9 202.4,829.9"/></clipPath><g clip-path="url(#c369)" stroke="#555" stroke-width="0.5"><line x1="246" y1="558.9" x2="360.9" y2="758"/><line x1="244.9" y1="559.5" x2="359.9" y2="758.6"/><line x1="243.9" y1="560.1" x2="358.9" y2="759.2"/><line x1="242.9" y1="560.7" x2="357.8" y2="759.8"/><line x1="241.8" y1="561.3" x2="356.8" y2="760.4"/><line x1="240.8" y1="561.9" x2="355.7" y2="761"/><line x1="239.7" y1="562.5" x2="354.7" y2="761.6"/><line x1="238.7" y1="563.1" x2="353.7" y2="762.2"/><line x1="237.7" y1="563.7" x2="352.6" y2="762.8"/><line x1="236.6" y1="564.3" x2="351.6" y2="763.4"/><line x1="235.6" y1="564.9" x2="350.5" y2="764"/><line x1="234.5" y1="565.5" x2="349.5" y2="764.6"/><line x1="233.5" y1="566.1" x2="348.5" y2="765.2"/><line x1="232.5" y1="566.7" x2="347.4" y2="765.8"/><line x1="231.4" y1="567.3" x2="346.4" y2="766.4"/><line x1="230.4" y1="567.9" x2="345.3" y2="767"/><line x1="229.4" y1="568.5" x2="344.3" y2="767.6"/><line x1="228.3" y1="569.1" x2="343.3" y2="768.2"/><line x1="227.3" y1="569.7" x2="342.2" y2="768.8"/><line x1="226.2" y1="570.3" x2="341.2" y2="769.4"/><line x1="225.2" y1="570.9" x2="340.2" y2="770"/><line x1="224.2" y1="571.5" x2="339.1" y2="770.6"/><line x1="223.1" y1="572.1" x2="338.1" y2="771.2"/><line x1="222.1" y1="572.7" x2="337" y2="771.8"/><line x1="221" y1="573.3" x2="336" y2="772.4"/><line x1="220" y1="573.9" x2="335" y2="773"/><line x1="219" y1="574.5" x2="333.9" y2="773.6"/><line x1="217.9" y1="575.1" x2="332.9" y2="774.2"/><line x1="216.9" y1="575.7" x2="331.8" y2="774.8"/><line x1="215.8" y1="576.3" x2="330.8" y2="775.4"/><line x1="214.8" y1="576.9" x2="329.8" y2="776"/><line x1="213.8" y1="577.5" x2="328.7" y2="776.6"/><line x1="212.7" y1="578.1" x2="327.7" y2="777.2"/><line x1="211.7" y1="578.7" x2="326.6" y2="777.8"/><line x1="210.6" y1="579.3" x2="325.6" y2="778.4"/><line x1="209.6" y1="579.9" x2="324.6" y2="779"/><line x1="208.6" y1="580.5" x2="323.5" y2="779.6"/><line x1="207.5" y1="581.1" x2="322.5" y2="780.2"/><line x1="206.5" y1="581.7" x2="321.4" y2="780.8"/><line x1="205.4" y1="582.3" x2="320.4" y2="781.4"/><line x1="204.4" y1="582.9" x2="319.4" y2="782"/><line x1="203.4" y1="583.5" x2="318.3" y2="782.6"/><line x1="202.3" y1="584.1" x2="317.3" y2="783.2"/><line x1="201.3" y1="584.7" x2="316.3" y2="783.8"/><line x1="200.3" y1="585.3" x2="315.2" y2="784.4"/><line x1="199.2" y1="585.9" x2="314.2" y2="785"/><line x1="198.2" y1="586.5" x2="313.1" y2="785.6"/><line x1="197.1" y1="587.1" x2="312.1" y2="786.2"/><line x1="196.1" y1="587.7" x2="311.1" y2="786.8"/><line x1="195.1" y1="588.3" x2="310" y2="787.4"/><line x1="194" y1="588.9" x2="309" y2="788"/><line x1="193" y1="589.5" x2="307.9" y2="788.6"/><line x1="191.9" y1="590.1" x2="306.9" y2="789.2"/><line x1="190.9" y1="590.7" x2="305.9" y2="789.8"/><line x1="189.9" y1="591.3" x2="304.8" y2="790.4"/><line x1="188.8" y1="591.9" x2="303.8" y2="791"/><line x1="187.8" y1="592.5" x2="302.7" y2="791.6"/><line x1="186.7" y1="593.1" x2="301.7" y2="792.2"/><line x1="185.7" y1="593.7" x2="300.7" y2="792.8"/><line x1="184.7" y1="594.3" x2="299.6" y2="793.4"/><line x1="183.6" y1="594.9" x2="298.6" y2="794"/><line x1="182.6" y1="595.5" x2="297.5" y2="794.6"/><line x1="181.5" y1="596.1" x2="296.5" y2="795.2"/><line x1="180.5" y1="596.7" x2="295.5" y2="795.8"/><line x1="179.5" y1="597.3" x2="294.4" y2="796.4"/><line x1="178.4" y1="597.9" x2="293.4" y2="797"/><line x1="177.4" y1="598.5" x2="292.3" y2="797.6"/><line x1="176.3" y1="599.1" x2="291.3" y2="798.2"/><line x1="175.3" y1="599.7" x2="290.3" y2="798.8"/><line x1="174.3" y1="600.3" x2="289.2" y2="799.4"/><line x1="173.2" y1="600.9" x2="288.2" y2="800"/><line x1="172.2" y1="601.5" x2="287.2" y2="800.6"/><line x1="171.2" y1="602.1" x2="286.1" y2="801.2"/><line x1="170.1" y1="602.7" x2="285.1" y2="801.8"/><line x1="169.1" y1="603.3" x2="284" y2="802.4"/><line x1="168" y1="603.9" x2="283" y2="803"/><line x1="167" y1="604.5" x2="282" y2="803.6"/><line x1="166" y1="605.1" x2="280.9" y2="804.2"/><line x1="164.9" y1="605.7" x2="279.9" y2="804.8"/><line x1="163.9" y1="606.3" x2="278.8" y2="805.4"/><line x1="162.8" y1="606.9" x2="277.8" y2="806"/><line x1="161.8" y1="607.5" x2="276.8" y2="806.6"/><line x1="160.8" y1="608.1" x2="275.7" y2="807.2"/><line x1="159.7" y1="608.7" x2="274.7" y2="807.8"/><line x1="158.7" y1="609.3" x2="273.6" y2="808.4"/><line x1="157.6" y1="609.9" x2="272.6" y2="809"/><line x1="156.6" y1="610.5" x2="271.6" y2="809.6"/><line x1="155.6" y1="611.1" x2="270.5" y2="810.2"/><line x1="154.5" y1="611.7" x2="269.5" y2="810.8"/><line x1="153.5" y1="612.3" x2="268.4" y2="811.4"/><line x1="152.4" y1="612.9" x2="267.4" y2="812"/><line x1="151.4" y1="613.5" x2="266.4" y2="812.6"/><line x1="150.4" y1="614.1" x2="265.3" y2="813.2"/><line x1="149.3" y1="614.7" x2="264.3" y2="813.8"/><line x1="148.3" y1="615.3" x2="263.3" y2="814.4"/><line x1="147.3" y1="615.9" x2="262.2" y2="815"/><line x1="146.2" y1="616.5" x2="261.2" y2="815.6"/><line x1="145.2" y1="617.1" x2="260.1" y2="816.2"/><line x1="144.1" y1="617.7" x2="259.1" y2="816.8"/><line x1="143.1" y1="618.3" x2="258.1" y2="817.4"/><line x1="142.1" y1="618.9" x2="257" y2="818"/><line x1="141" y1="619.5" x2="256" y2="818.6"/><line x1="140" y1="620.1" x2="254.9" y2="819.2"/><line x1="138.9" y1="620.7" x2="253.9" y2="819.8"/><line x1="137.9" y1="621.3" x2="252.9" y2="820.4"/><line x1="136.9" y1="621.9" x2="251.8" y2="821"/><line x1="135.8" y1="622.5" x2="250.8" y2="821.6"/><line x1="134.8" y1="623.1" x2="249.7" y2="822.2"/><line x1="133.7" y1="623.7" x2="248.7" y2="822.8"/><line x1="132.7" y1="624.3" x2="247.7" y2="823.4"/><line x1="131.7" y1="624.9" x2="246.6" y2="824"/><line x1="130.6" y1="625.5" x2="245.6" y2="824.6"/><line x1="129.6" y1="626.1" x2="244.5" y2="825.2"/><line x1="128.5" y1="626.7" x2="243.5" y2="825.8"/><line x1="127.5" y1="627.3" x2="242.5" y2="826.4"/><line x1="126.5" y1="627.9" x2="241.4" y2="827"/><line x1="125.4" y1="628.5" x2="240.4" y2="827.6"/><line x1="124.4" y1="629.1" x2="239.3" y2="828.2"/><line x1="123.3" y1="629.7" x2="238.3" y2="828.8"/><line x1="122.3" y1="630.3" x2="237.3" y2="829.4"/><line x1="121.3" y1="630.9" x2="236.2" y2="830"/><line x1="120.2" y1="631.5" x2="235.2" y2="830.6"/><line x1="119.2" y1="632.1" x2="234.2" y2="831.2"/><line x1="118.2" y1="632.7" x2="233.1" y2="831.8"/><line x1="117.1" y1="633.3" x2="232.1" y2="832.4"/><line x1="116.1" y1="633.9" x2="231" y2="833"/><line x1="115" y1="634.5" x2="230" y2="833.6"/><line x1="114" y1="635.1" x2="229" y2="834.2"/><line x1="113" y1="635.7" x2="227.9" y2="834.8"/><line x1="111.9" y1="636.3" x2="226.9" y2="835.4"/><line x1="110.9" y1="636.9" x2="225.8" y2="836"/><line x1="109.8" y1="637.5" x2="224.8" y2="836.6"/><line x1="108.8" y1="638.1" x2="223.8" y2="837.2"/><line x1="107.8" y1="638.7" x2="222.7" y2="837.8"/><line x1="106.7" y1="639.3" x2="221.7" y2="838.4"/><line x1="105.7" y1="639.9" x2="220.6" y2="839"/><line x1="104.6" y1="640.5" x2="219.6" y2="839.6"/><line x1="103.6" y1="641.1" x2="218.6" y2="840.2"/><line x1="102.6" y1="641.7" x2="217.5" y2="840.8"/><line x1="101.5" y1="642.3" x2="216.5" y2="841.4"/><line x1="100.5" y1="642.9" x2="215.4" y2="842"/><line x1="99.4" y1="643.5" x2="214.4" y2="842.6"/><line x1="98.4" y1="644.1" x2="213.4" y2="843.2"/><line x1="97.4" y1="644.7" x2="212.3" y2="843.8"/><line x1="96.3" y1="645.3" x2="211.3" y2="844.4"/><line x1="95.3" y1="645.9" x2="210.2" y2="845"/><line x1="94.3" y1="646.5" x2="209.2" y2="845.6"/><line x1="93.2" y1="647.1" x2="208.2" y2="846.2"/><line x1="92.2" y1="647.7" x2="207.1" y2="846.8"/><line x1="91.1" y1="648.3" x2="206.1" y2="847.4"/><line x1="90.1" y1="648.9" x2="205.1" y2="848"/><line x1="89.1" y1="649.5" x2="204" y2="848.6"/><line x1="88" y1="650.1" x2="203" y2="849.2"/><line x1="87" y1="650.7" x2="201.9" y2="849.8"/><line x1="85.9" y1="651.3" x2="200.9" y2="850.4"/><line x1="84.9" y1="651.9" x2="199.9" y2="851"/><line x1="83.9" y1="652.5" x2="198.8" y2="851.6"/><line x1="82.8" y1="653.1" x2="197.8" y2="852.2"/><line x1="81.8" y1="653.7" x2="196.7" y2="852.8"/><line x1="80.7" y1="654.3" x2="195.7" y2="853.4"/><line x1="79.7" y1="654.9" x2="194.7" y2="854"/><line x1="78.7" y1="655.5" x2="193.6" y2="854.6"/><line x1="77.6" y1="656.1" x2="192.6" y2="855.2"/><line x1="76.6" y1="656.7" x2="191.5" y2="855.8"/><line x1="75.5" y1="657.3" x2="190.5" y2="856.4"/><line x1="74.5" y1="657.9" x2="189.5" y2="857"/><line x1="73.5" y1="658.5" x2="188.4" y2="857.6"/><line x1="72.4" y1="659.1" x2="187.4" y2="858.2"/><line x1="71.4" y1="659.7" x2="186.3" y2="858.8"/><line x1="70.3" y1="660.3" x2="185.3" y2="859.4"/><line x1="69.3" y1="660.9" x2="184.3" y2="860"/><line x1="68.3" y1="661.5" x2="183.2" y2="860.6"/><line x1="67.2" y1="662.1" x2="182.2" y2="861.2"/><line x1="66.2" y1="662.7" x2="181.2" y2="861.8"/><line x1="65.2" y1="663.3" x2="180.1" y2="862.4"/><line x1="64.1" y1="663.9" x2="179.1" y2="863"/><line x1="63.1" y1="664.5" x2="178" y2="863.6"/><line x1="62" y1="665.1" x2="177" y2="864.2"/><line x1="61" y1="665.7" x2="176" y2="864.8"/><line x1="60" y1="666.3" x2="174.9" y2="865.4"/><line x1="58.9" y1="666.9" x2="173.9" y2="866"/><line x1="57.9" y1="667.5" x2="172.8" y2="866.6"/><line x1="56.8" y1="668.1" x2="171.8" y2="867.2"/><line x1="55.8" y1="668.7" x2="170.8" y2="867.8"/><line x1="54.8" y1="669.3" x2="169.7" y2="868.4"/><line x1="53.7" y1="669.9" x2="168.7" y2="869"/><line x1="52.7" y1="670.5" x2="167.6" y2="869.6"/><line x1="51.6" y1="671.1" x2="166.6" y2="870.2"/><line x1="50.6" y1="671.7" x2="165.6" y2="870.8"/><line x1="49.6" y1="672.3" x2="164.5" y2="871.4"/><line x1="48.5" y1="672.9" x2="163.5" y2="872"/><line x1="47.5" y1="673.5" x2="162.4" y2="872.6"/></g>
<line x1="202.4" y1="602" x2="202.4" y2="829.9" stroke="#777" stroke-width="0.6" fill="none"/>
<polyline points="194.4,832 221,832 222.5,829.5 224,834.5 225.5,832 249.7,832" stroke="#444" stroke-width="0.7" fill="none"/>
<line x1="205.4" y1="719.1" x2="234.2" y2="719.1" stroke="#000" stroke-width="1.6" fill="none"/>
<line x1="234.2" y1="798.9" x2="290" y2="798.9" stroke="#000" stroke-width="1.6" fill="none"/>
<rect x="234.2" y="750.2" width="31" height="48.7" stroke="#444" stroke-width="0.7" fill="none"/>
<rect x="241" y="780" width="11" height="14" stroke="#444" stroke-width="0.7" fill="none"/>
<clipPath id="c376"><polygon points="241,780 252,780 252,794 241,794"/></clipPath><g clip-path="url(#c376)" stroke="#555" stroke-width="0.5"><line x1="236.6" y1="777.1" x2="256.4" y2="777.1"/><line x1="236.6" y1="778.4" x2="256.4" y2="778.4"/><line x1="236.6" y1="779.7" x2="256.4" y2="779.7"/><line x1="236.6" y1="781" x2="256.4" y2="781"/><line x1="236.6" y1="782.3" x2="256.4" y2="782.3"/><line x1="236.6" y1="783.6" x2="256.4" y2="783.6"/><line x1="236.6" y1="784.9" x2="256.4" y2="784.9"/><line x1="236.6" y1="786.2" x2="256.4" y2="786.2"/><line x1="236.6" y1="787.5" x2="256.4" y2="787.5"/><line x1="236.6" y1="788.8" x2="256.4" y2="788.8"/><line x1="236.6" y1="790.1" x2="256.4" y2="790.1"/><line x1="236.6" y1="791.4" x2="256.4" y2="791.4"/><line x1="236.6" y1="792.7" x2="256.4" y2="792.7"/><line x1="236.6" y1="794" x2="256.4" y2="794"/><line x1="236.6" y1="795.3" x2="256.4" y2="795.3"/><line x1="236.6" y1="796.6" x2="256.4" y2="796.6"/></g>
<line x1="234.2" y1="576.6" x2="451.8" y2="576.6" stroke="#444" stroke-width="0.7" fill="none"/>
<rect x="233" y="575.4" width="2.4" height="2.4" fill="#000"/>
<rect x="233" y="597.8" width="2.4" height="2.4" fill="#000"/>
<rect x="233" y="623.8" width="2.4" height="2.4" fill="#000"/>
<rect x="233" y="648.8" width="2.4" height="2.4" fill="#000"/>
<rect x="233" y="673.8" width="2.4" height="2.4" fill="#000"/>
<rect x="233" y="703.8" width="2.4" height="2.4" fill="#000"/>
<rect x="233" y="728.8" width="2.4" height="2.4" fill="#000"/>
<rect x="233" y="758.8" width="2.4" height="2.4" fill="#000"/>
<rect x="233" y="778.8" width="2.4" height="2.4" fill="#000"/>
<polyline points="320.5,143.7 427.2,143.7 585,177.2 753.3,177.2" stroke="#000" stroke-width="1.6" fill="none"/>
<polyline points="330.4,143.7 330.4,136.2 336.2,136.2 336.2,143.7" stroke="#111" stroke-width="1.2" fill="none"/>
<rect x="478.3" y="144.8" width="12.5" height="10.7" stroke="#111" stroke-width="1.2" fill="none"/>
<line x1="484.5" y1="145.5" x2="484.5" y2="155" stroke="#444" stroke-width="0.7" fill="none"/>
<line x1="481" y1="148" x2="482" y2="151" stroke="#444" stroke-width="0.7" fill="none"/>
<line x1="487" y1="148" x2="488" y2="151" stroke="#444" stroke-width="0.7" fill="none"/>
<polyline points="402.3,143.7 382.3,170.5 411,191.1" stroke="#000" stroke-width="1.6" fill="none"/>
<line x1="345.7" y1="226" x2="321.7" y2="247.2" stroke="#000" stroke-width="1.6" fill="none"/>
<polyline points="345.7,226 399.8,264.7 419.7,281.4 455.9,281.4" stroke="#000" stroke-width="1.6" fill="none"/>
<polyline points="399.8,264.7 445.9,208.6 493.3,183.6 527,166.2" stroke="#000" stroke-width="1.6" fill="none"/>
<line x1="477" y1="155" x2="492.2" y2="183.3" stroke="#444" stroke-width="0.7" fill="none"/>
<line x1="492.2" y1="183.3" x2="518.2" y2="233.7" stroke="#000" stroke-width="1.6" fill="none"/>
<line x1="337.4" y1="293.3" x2="366.1" y2="314.5" stroke="#000" stroke-width="2.2" fill="none"/>
<line x1="310" y1="294.6" x2="337.4" y2="293.3" stroke="#444" stroke-width="0.7" fill="none"/>
<polyline points="366.1,314.5 389.8,331.5 419.7,331.5" stroke="#444" stroke-width="0.7" fill="none"/>
<line x1="366.1" y1="314.5" x2="398.5" y2="264.7" stroke="#444" stroke-width="0.7" fill="none"/>
<polyline points="439.9,147.7 428.8,163 416.3,180.4" stroke="#444" stroke-width="0.7" fill="none"/>
<line x1="391.2" y1="163" x2="416.3" y2="180.4" stroke="#444" stroke-width="0.7" fill="none"/>
<line x1="400" y1="169.1" x2="398.5" y2="171.6" stroke="#777" stroke-width="0.6" fill="none"/>
<line x1="406.3" y1="173.4" x2="404.8" y2="175.9" stroke="#777" stroke-width="0.6" fill="none"/>
<line x1="411.3" y1="176.9" x2="409.8" y2="179.4" stroke="#777" stroke-width="0.6" fill="none"/>
<polyline points="330,198.4 371.7,198.4 345.3,222.1" stroke="#444" stroke-width="0.7" fill="none"/>
<polyline points="371.7,198.4 378.7,193.6 401,206.8" stroke="#444" stroke-width="0.7" fill="none"/>
<rect x="378" y="176" width="6" height="6" stroke="#777" stroke-width="0.6" fill="none"/>
<clipPath id="c411"><polygon points="378,176 384,176 384,182 378,182"/></clipPath><g clip-path="url(#c411)" stroke="#555" stroke-width="0.5"><line x1="379.1" y1="171.8" x2="388.2" y2="177.1"/><line x1="378.6" y1="172.7" x2="387.7" y2="177.9"/><line x1="378.1" y1="173.6" x2="387.2" y2="178.8"/><line x1="377.6" y1="174.4" x2="386.7" y2="179.7"/><line x1="377.1" y1="175.3" x2="386.2" y2="180.5"/><line x1="376.6" y1="176.2" x2="385.7" y2="181.4"/><line x1="376.1" y1="177" x2="385.2" y2="182.3"/><line x1="375.6" y1="177.9" x2="384.7" y2="183.1"/><line x1="375.1" y1="178.8" x2="384.2" y2="184"/><line x1="374.6" y1="179.6" x2="383.7" y2="184.9"/><line x1="374.1" y1="180.5" x2="383.2" y2="185.7"/></g>
<polygon points="405.8,196.4 439.2,215.8 435.7,222.1 401.7,202.6" stroke="#444" stroke-width="0.7" fill="none"/>
<clipPath id="c413"><polygon points="405.8,196.4 439.2,215.8 435.7,222.1 401.7,202.6"/></clipPath><g clip-path="url(#c413)" stroke="#888" stroke-width="0.5"><line x1="411.8" y1="176.8" x2="452.9" y2="200.6"/><line x1="411.2" y1="177.9" x2="452.3" y2="201.6"/><line x1="410.6" y1="178.9" x2="451.7" y2="202.6"/><line x1="410" y1="180" x2="451.1" y2="203.7"/><line x1="409.4" y1="181" x2="450.5" y2="204.7"/><line x1="408.8" y1="182" x2="449.9" y2="205.8"/><line x1="408.2" y1="183.1" x2="449.3" y2="206.8"/><line x1="407.6" y1="184.1" x2="448.7" y2="207.8"/><line x1="407" y1="185.1" x2="448.1" y2="208.9"/><line x1="406.4" y1="186.2" x2="447.5" y2="209.9"/><line x1="405.8" y1="187.2" x2="446.9" y2="211"/><line x1="405.2" y1="188.3" x2="446.3" y2="212"/><line x1="404.6" y1="189.3" x2="445.7" y2="213"/><line x1="404" y1="190.3" x2="445.1" y2="214.1"/><line x1="403.4" y1="191.4" x2="444.5" y2="215.1"/><line x1="402.8" y1="192.4" x2="443.9" y2="216.2"/><line x1="402.2" y1="193.5" x2="443.3" y2="217.2"/><line x1="401.6" y1="194.5" x2="442.7" y2="218.2"/><line x1="401" y1="195.5" x2="442.1" y2="219.3"/><line x1="400.4" y1="196.6" x2="441.5" y2="220.3"/><line x1="399.8" y1="197.6" x2="440.9" y2="221.3"/><line x1="399.2" y1="198.7" x2="440.3" y2="222.4"/><line x1="398.6" y1="199.7" x2="439.7" y2="223.4"/><line x1="398" y1="200.7" x2="439.1" y2="224.5"/><line x1="397.4" y1="201.8" x2="438.5" y2="225.5"/><line x1="396.8" y1="202.8" x2="437.9" y2="226.5"/><line x1="396.2" y1="203.9" x2="437.3" y2="227.6"/><line x1="395.6" y1="204.9" x2="436.7" y2="228.6"/><line x1="395" y1="205.9" x2="436.1" y2="229.7"/><line x1="394.4" y1="207" x2="435.5" y2="230.7"/><line x1="393.8" y1="208" x2="434.9" y2="231.7"/><line x1="393.2" y1="209" x2="434.3" y2="232.8"/><line x1="392.6" y1="210.1" x2="433.7" y2="233.8"/><line x1="392" y1="211.1" x2="433.1" y2="234.9"/><line x1="391.4" y1="212.2" x2="432.5" y2="235.9"/><line x1="390.8" y1="213.2" x2="431.9" y2="236.9"/><line x1="390.2" y1="214.2" x2="431.3" y2="238"/><line x1="389.6" y1="215.3" x2="430.7" y2="239"/><line x1="389" y1="216.3" x2="430.1" y2="240.1"/><line x1="388.4" y1="217.4" x2="429.5" y2="241.1"/></g>
<polygon points="387,236 402.4,247.1 419,226.3 403.7,215.8" stroke="#444" stroke-width="0.7" fill="none"/>
<polygon points="397,219 412,229 407,236 392,226" stroke="#444" stroke-width="0.7" fill="none"/>
<clipPath id="c416"><polygon points="397,219 412,229 407,236 392,226"/></clipPath><g clip-path="url(#c416)" stroke="#444" stroke-width="0.5"><line x1="382.4" y1="231.3" x2="398.2" y2="207.9"/><line x1="383.2" y1="231.9" x2="399" y2="208.5"/><line x1="384.1" y1="232.4" x2="399.8" y2="209"/><line x1="384.9" y1="233" x2="400.7" y2="209.6"/><line x1="385.7" y1="233.5" x2="401.5" y2="210.1"/><line x1="386.5" y1="234.1" x2="402.3" y2="210.7"/><line x1="387.4" y1="234.7" x2="403.2" y2="211.2"/><line x1="388.2" y1="235.2" x2="404" y2="211.8"/><line x1="389" y1="235.8" x2="404.8" y2="212.4"/><line x1="389.9" y1="236.3" x2="405.6" y2="212.9"/><line x1="390.7" y1="236.9" x2="406.5" y2="213.5"/><line x1="391.5" y1="237.5" x2="407.3" y2="214"/><line x1="392.3" y1="238" x2="408.1" y2="214.6"/><line x1="393.2" y1="238.6" x2="409" y2="215.2"/><line x1="394" y1="239.1" x2="409.8" y2="215.7"/><line x1="394.8" y1="239.7" x2="410.6" y2="216.3"/><line x1="395.7" y1="240.3" x2="411.5" y2="216.8"/><line x1="396.5" y1="240.8" x2="412.3" y2="217.4"/><line x1="397.3" y1="241.4" x2="413.1" y2="218"/><line x1="398.1" y1="241.9" x2="413.9" y2="218.5"/><line x1="399" y1="242.5" x2="414.8" y2="219.1"/><line x1="399.8" y1="243.1" x2="415.6" y2="219.6"/><line x1="400.6" y1="243.6" x2="416.4" y2="220.2"/><line x1="401.5" y1="244.2" x2="417.3" y2="220.8"/><line x1="402.3" y1="244.7" x2="418.1" y2="221.3"/><line x1="403.1" y1="245.3" x2="418.9" y2="221.9"/><line x1="403.9" y1="245.9" x2="419.7" y2="222.4"/><line x1="404.8" y1="246.4" x2="420.6" y2="223"/><line x1="405.6" y1="247" x2="421.4" y2="223.5"/></g>
<polyline points="389,233 395,225 405,232" stroke="#777" stroke-width="0.6" fill="none"/>
<line x1="394.6" y1="240" x2="402.9" y2="230.6" stroke="#777" stroke-width="0.6" fill="none"/>
<line x1="383" y1="212" x2="402" y2="224" stroke="#777" stroke-width="0.6" fill="none"/>
<polygon points="463,209.3 475.2,203.6 486.5,222.3 474.4,228.8" stroke="#444" stroke-width="0.7" fill="none"/>
<clipPath id="c421"><polygon points="463,209.3 475.2,203.6 486.5,222.3 474.4,228.8"/></clipPath><g clip-path="url(#c421)" stroke="#333" stroke-width="0.6"><line x1="450.5" y1="207.4" x2="483.6" y2="192"/><line x1="451.2" y1="208.7" x2="484.2" y2="193.3"/><line x1="451.8" y1="210.1" x2="484.8" y2="194.7"/><line x1="452.4" y1="211.5" x2="485.5" y2="196.1"/><line x1="453.1" y1="212.8" x2="486.1" y2="197.4"/><line x1="453.7" y1="214.2" x2="486.7" y2="198.8"/><line x1="454.3" y1="215.5" x2="487.4" y2="200.1"/><line x1="455" y1="216.9" x2="488" y2="201.5"/><line x1="455.6" y1="218.3" x2="488.6" y2="202.9"/><line x1="456.2" y1="219.6" x2="489.3" y2="204.2"/><line x1="456.9" y1="221" x2="489.9" y2="205.6"/><line x1="457.5" y1="222.3" x2="490.5" y2="206.9"/><line x1="458.1" y1="223.7" x2="491.2" y2="208.3"/><line x1="458.8" y1="225.1" x2="491.8" y2="209.6"/><line x1="459.4" y1="226.4" x2="492.4" y2="211"/><line x1="460" y1="227.8" x2="493.1" y2="212.4"/><line x1="460.7" y1="229.1" x2="493.7" y2="213.7"/><line x1="461.3" y1="230.5" x2="494.3" y2="215.1"/><line x1="461.9" y1="231.9" x2="495" y2="216.4"/><line x1="462.6" y1="233.2" x2="495.6" y2="217.8"/><line x1="463.2" y1="234.6" x2="496.2" y2="219.2"/><line x1="463.8" y1="235.9" x2="496.9" y2="220.5"/><line x1="464.5" y1="237.3" x2="497.5" y2="221.9"/><line x1="465.1" y1="238.7" x2="498.1" y2="223.2"/><line x1="465.7" y1="240" x2="498.8" y2="224.6"/></g>
<polygon points="474.4,229.6 485.7,223.9 493,235.3 480,241.8" stroke="#444" stroke-width="0.7" fill="none"/>
<clipPath id="c423"><polygon points="474.4,229.6 485.7,223.9 493,235.3 480,241.8"/></clipPath><g clip-path="url(#c423)" stroke="#333" stroke-width="0.6"><line x1="465.2" y1="226.1" x2="490.4" y2="214.4"/><line x1="465.9" y1="227.5" x2="491.1" y2="215.7"/><line x1="466.5" y1="228.8" x2="491.7" y2="217.1"/><line x1="467.1" y1="230.2" x2="492.3" y2="218.4"/><line x1="467.8" y1="231.6" x2="493" y2="219.8"/><line x1="468.4" y1="232.9" x2="493.6" y2="221.2"/><line x1="469" y1="234.3" x2="494.2" y2="222.5"/><line x1="469.7" y1="235.6" x2="494.9" y2="223.9"/><line x1="470.3" y1="237" x2="495.5" y2="225.2"/><line x1="470.9" y1="238.4" x2="496.1" y2="226.6"/><line x1="471.6" y1="239.7" x2="496.8" y2="228"/><line x1="472.2" y1="241.1" x2="497.4" y2="229.3"/><line x1="472.8" y1="242.4" x2="498" y2="230.7"/><line x1="473.5" y1="243.8" x2="498.7" y2="232"/><line x1="474.1" y1="245.2" x2="499.3" y2="233.4"/><line x1="474.7" y1="246.5" x2="499.9" y2="234.8"/><line x1="475.4" y1="247.9" x2="500.6" y2="236.1"/><line x1="476" y1="249.2" x2="501.2" y2="237.5"/><line x1="476.6" y1="250.6" x2="501.8" y2="238.8"/></g>
<line x1="480" y1="225" x2="483" y2="232" stroke="#000" stroke-width="1.2"/>
<polygon points="482.5,251.5 526.3,229.1 536.9,247.5 493,269.9" stroke="#444" stroke-width="0.7" fill="none"/>
<polyline points="493,269.9 496,275 540,252.5 536.9,247.5" stroke="#444" stroke-width="0.7" fill="none"/>
<line x1="482.5" y1="251.5" x2="526.3" y2="229.1" stroke="#111" stroke-width="1.2" fill="none"/>
<clipPath id="c428"><polygon points="493.4,248.8 505.7,242.5 513.6,256.3 501.3,262.5"/></clipPath><g clip-path="url(#c428)" stroke="#444" stroke-width="0.6"><line x1="483" y1="245.9" x2="510.1" y2="232.1"/><line x1="483.6" y1="247" x2="510.7" y2="233.2"/><line x1="484.2" y1="248.2" x2="511.3" y2="234.4"/><line x1="484.8" y1="249.4" x2="511.9" y2="235.5"/><line x1="485.4" y1="250.5" x2="512.5" y2="236.7"/><line x1="486" y1="251.7" x2="513.1" y2="237.9"/><line x1="486.6" y1="252.8" x2="513.7" y2="239"/><line x1="487.2" y1="254" x2="514.3" y2="240.2"/><line x1="487.7" y1="255.1" x2="514.8" y2="241.3"/><line x1="488.3" y1="256.3" x2="515.4" y2="242.5"/><line x1="488.9" y1="257.5" x2="516" y2="243.7"/><line x1="489.5" y1="258.6" x2="516.6" y2="244.8"/><line x1="490.1" y1="259.8" x2="517.2" y2="246"/><line x1="490.7" y1="260.9" x2="517.8" y2="247.1"/><line x1="491.3" y1="262.1" x2="518.4" y2="248.3"/><line x1="491.9" y1="263.3" x2="519" y2="249.4"/><line x1="492.5" y1="264.4" x2="519.6" y2="250.6"/><line x1="493.1" y1="265.6" x2="520.2" y2="251.8"/><line x1="493.6" y1="266.7" x2="520.7" y2="252.9"/><line x1="494.2" y1="267.9" x2="521.3" y2="254.1"/><line x1="494.8" y1="269" x2="521.9" y2="255.2"/><line x1="495.4" y1="270.2" x2="522.5" y2="256.4"/><line x1="496" y1="271.4" x2="523.1" y2="257.5"/><line x1="496.6" y1="272.5" x2="523.7" y2="258.7"/></g>
<line x1="499.5" y1="245.6" x2="507.4" y2="259.4" stroke="#222" stroke-width="1.3"/>
<clipPath id="c430"><polygon points="506.5,242.1 518.8,235.8 526.7,249.6 514.4,255.8"/></clipPath><g clip-path="url(#c430)" stroke="#444" stroke-width="0.6"><line x1="496.2" y1="239.2" x2="523.3" y2="225.3"/><line x1="496.8" y1="240.3" x2="523.9" y2="226.5"/><line x1="497.3" y1="241.5" x2="524.5" y2="227.7"/><line x1="497.9" y1="242.6" x2="525.1" y2="228.8"/><line x1="498.5" y1="243.8" x2="525.6" y2="230"/><line x1="499.1" y1="244.9" x2="526.2" y2="231.1"/><line x1="499.7" y1="246.1" x2="526.8" y2="232.3"/><line x1="500.3" y1="247.3" x2="527.4" y2="233.4"/><line x1="500.9" y1="248.4" x2="528" y2="234.6"/><line x1="501.5" y1="249.6" x2="528.6" y2="235.8"/><line x1="502.1" y1="250.7" x2="529.2" y2="236.9"/><line x1="502.7" y1="251.9" x2="529.8" y2="238.1"/><line x1="503.2" y1="253.1" x2="530.4" y2="239.2"/><line x1="503.8" y1="254.2" x2="531" y2="240.4"/><line x1="504.4" y1="255.4" x2="531.5" y2="241.6"/><line x1="505" y1="256.5" x2="532.1" y2="242.7"/><line x1="505.6" y1="257.7" x2="532.7" y2="243.9"/><line x1="506.2" y1="258.8" x2="533.3" y2="245"/><line x1="506.8" y1="260" x2="533.9" y2="246.2"/><line x1="507.4" y1="261.2" x2="534.5" y2="247.3"/><line x1="508" y1="262.3" x2="535.1" y2="248.5"/><line x1="508.6" y1="263.5" x2="535.7" y2="249.7"/><line x1="509.1" y1="264.6" x2="536.3" y2="250.8"/><line x1="509.7" y1="265.8" x2="536.9" y2="252"/></g>
<line x1="512.7" y1="238.9" x2="520.6" y2="252.7" stroke="#222" stroke-width="1.3"/>
<line x1="504.8" y1="240.1" x2="515.4" y2="258.5" stroke="#444" stroke-width="0.7" fill="none"/>
<line x1="519.3" y1="232.7" x2="529.9" y2="251.1" stroke="#444" stroke-width="0.7" fill="none"/>
<rect x="421" y="281.4" width="34.9" height="50.1" stroke="#444" stroke-width="0.7" fill="none"/>
<line x1="421" y1="306.6" x2="455.9" y2="306.6" stroke="#111" stroke-width="1.2" fill="none"/>
<rect x="486.6" y="281.4" width="34.9" height="50.1" stroke="#444" stroke-width="0.7" fill="none"/>
<rect x="521.5" y="281.4" width="32.9" height="50.1" stroke="#444" stroke-width="0.7" fill="none"/>
<line x1="521.5" y1="281.4" x2="521.5" y2="331.5" stroke="#000" stroke-width="1.6" fill="none"/>
<line x1="521.5" y1="315.8" x2="554.4" y2="315.8" stroke="#000" stroke-width="1.6" fill="none"/>
<line x1="455.9" y1="281.4" x2="486.6" y2="281.4" stroke="#777" stroke-width="0.6" fill="none"/>
<line x1="458" y1="280" x2="458" y2="282.8" stroke="#777" stroke-width="0.6" fill="none"/>
<line x1="461" y1="280" x2="461" y2="282.8" stroke="#777" stroke-width="0.6" fill="none"/>
<line x1="464" y1="280" x2="464" y2="282.8" stroke="#777" stroke-width="0.6" fill="none"/>
<line x1="467" y1="280" x2="467" y2="282.8" stroke="#777" stroke-width="0.6" fill="none"/>
<line x1="470" y1="280" x2="470" y2="282.8" stroke="#777" stroke-width="0.6" fill="none"/>
<line x1="473" y1="280" x2="473" y2="282.8" stroke="#777" stroke-width="0.6" fill="none"/>
<line x1="476" y1="280" x2="476" y2="282.8" stroke="#777" stroke-width="0.6" fill="none"/>
<line x1="479" y1="280" x2="479" y2="282.8" stroke="#777" stroke-width="0.6" fill="none"/>
<line x1="482" y1="280" x2="482" y2="282.8" stroke="#777" stroke-width="0.6" fill="none"/>
<line x1="485" y1="280" x2="485" y2="282.8" stroke="#777" stroke-width="0.6" fill="none"/>
<polyline points="534.4,281.4 534.4,262.2 544.4,254.7 550.6,256 554.4,264.7 554.4,281.4" stroke="#444" stroke-width="0.7" fill="none"/>
<rect x="570.6" y="260.9" width="23.7" height="28.7" stroke="#444" stroke-width="0.7" fill="none"/>
<line x1="570.6" y1="275.4" x2="594.3" y2="275.4" stroke="#111" stroke-width="1.2" fill="none"/>
<polygon points="580.6,223.5 595.6,217.3 606.8,229.8 585.5,239.7" stroke="#444" stroke-width="0.7" fill="none"/>
<line x1="507" y1="204.8" x2="561.9" y2="177.4" stroke="#444" stroke-width="0.7" fill="none"/>
<line x1="528.2" y1="166.2" x2="538.2" y2="188.6" stroke="#444" stroke-width="0.7" fill="none"/>
<line x1="517" y1="234.7" x2="589.3" y2="204.8" stroke="#444" stroke-width="0.7" fill="none"/>
<line x1="588" y1="176.9" x2="589.3" y2="204.8" stroke="#444" stroke-width="0.7" fill="none"/>
<polygon points="554,214.2 575,203.6 578.3,207.7 557.2,221.5" stroke="#444" stroke-width="0.7" fill="none"/>
<line x1="561" y1="210.7" x2="564" y2="218.7" stroke="#444" stroke-width="0.7" fill="none"/>
<line x1="569" y1="206.5" x2="572" y2="211.5" stroke="#444" stroke-width="0.7" fill="none"/>
<line x1="564.5" y1="209" x2="567" y2="214" stroke="#777" stroke-width="0.6" fill="none"/>
<polyline points="589,178.3 589,205.5 638.4,219.4 649.6,218 662.1,188.1 676,187.4 696.9,196.4" stroke="#444" stroke-width="0.7" fill="none"/>
<polyline points="589,183.2 644,204.8 653.7,184.6 662.1,188.1" stroke="#444" stroke-width="0.7" fill="none"/>
<rect x="572.3" y="199.5" width="2.4" height="5" fill="#111" transform="rotate(-30 573.5 202)"/>
<rect x="543.8" y="215.1" width="2.4" height="4.6" fill="#111" transform="rotate(-20 545 217.4)"/>
<rect x="560" y="245.8" width="2.6" height="5" fill="#111" transform="rotate(-20 561.3 248.3)"/>
<rect x="603.1" y="184.2" width="2.4" height="4.6" fill="#111" transform="rotate(25 604.3 186.5)"/>
<rect x="589.3" y="230.8" width="2.4" height="4" fill="#111" transform="rotate(-20 590.5 232.8)"/>
<rect x="353" y="175.5" width="2.8" height="2.8" fill="#000"/>
<rect x="447.8" y="167.3" width="2.8" height="2.8" fill="#000"/>
<rect x="455.2" y="181" width="2.8" height="2.8" fill="#000"/>
<rect x="389.8" y="216.5" width="2.8" height="2.8" fill="#000"/>
<rect x="436.4" y="207.5" width="2.8" height="2.8" fill="#000"/>
<rect x="416.3" y="236.7" width="2.8" height="2.8" fill="#000"/>
<rect x="428.1" y="161.6" width="2.8" height="2.8" fill="#000"/>
<rect x="362.7" y="197.7" width="2.8" height="2.8" fill="#000"/>
<rect x="352.2" y="270" width="2.8" height="2.8" fill="#000"/>
<rect x="380.9" y="291.2" width="2.8" height="2.8" fill="#000"/>
<rect x="319.8" y="280.7" width="2.8" height="2.8" fill="#000"/>
<rect x="319.8" y="314.4" width="2.8" height="2.8" fill="#000"/>
<rect x="319.8" y="224.6" width="2.8" height="2.8" fill="#000"/>
<rect x="385.9" y="314.4" width="2.8" height="2.8" fill="#000"/>
<rect x="453.2" y="314.4" width="2.8" height="2.8" fill="#000"/>
<rect x="419.6" y="314.4" width="2.8" height="2.8" fill="#000"/>
<rect x="486.4" y="314.4" width="2.8" height="2.8" fill="#000"/>
<rect x="586.2" y="314.4" width="2.8" height="2.8" fill="#000"/>
<rect x="585.9" y="247.1" width="2.8" height="2.8" fill="#000"/>
<rect x="419.6" y="280" width="2.8" height="2.8" fill="#000"/>
<rect x="454.5" y="280" width="2.8" height="2.8" fill="#000"/>
<rect x="485.2" y="280" width="2.8" height="2.8" fill="#000"/>
<rect x="520.1" y="280" width="2.8" height="2.8" fill="#000"/>
<rect x="553" y="280" width="2.8" height="2.8" fill="#000"/>
<rect x="553" y="314.4" width="2.8" height="2.8" fill="#000"/>
<rect x="520.1" y="314.4" width="2.8" height="2.8" fill="#000"/>
<rect x="398.4" y="263.3" width="2.8" height="2.8" fill="#000"/>
<rect x="344.3" y="224.6" width="2.8" height="2.8" fill="#000"/>
<rect x="400.9" y="142.3" width="2.8" height="2.8" fill="#000"/>
<rect x="380.9" y="169.1" width="2.8" height="2.8" fill="#000"/>
<rect x="409.6" y="189.7" width="2.8" height="2.8" fill="#000"/>
<rect x="444.5" y="207.2" width="2.8" height="2.8" fill="#000"/>
<rect x="491.9" y="182.2" width="2.8" height="2.8" fill="#000"/>
<rect x="516.8" y="230.8" width="2.8" height="2.8" fill="#000"/>
<rect x="525.6" y="164.8" width="2.8" height="2.8" fill="#000"/>
<rect x="364.6" y="313.1" width="2.8" height="2.8" fill="#000"/>
<rect x="336" y="291.9" width="2.8" height="2.8" fill="#000"/>
<circle cx="426.5" cy="248.5" r="2.5" fill="#000"/>
<circle cx="454.1" cy="248.5" r="2.5" fill="#000"/>
<circle cx="352" cy="337" r="3.2" stroke="#000" stroke-width="1" fill="#223"/>
<text transform="translate(439,180) scale(0.7,1)" font-size="6.8" text-anchor="middle" fill="#1a1a1a" font-family="Liberation Mono">2</text>
<text transform="translate(443,189) scale(0.7,1)" font-size="6.8" text-anchor="middle" fill="#1a1a1a" font-family="Liberation Mono">207.8m²</text>
<text transform="translate(547,203) scale(0.7,1)" font-size="6.8" text-anchor="middle" fill="#1a1a1a" font-family="Liberation Mono">31</text>
<text transform="translate(552,209) scale(0.7,1)" font-size="6.8" text-anchor="middle" fill="#1a1a1a" font-family="Liberation Mono">283.6m²</text>
<text transform="translate(353,278) scale(0.7,1)" font-size="6.8" text-anchor="middle" fill="#1a1a1a" font-family="Liberation Mono">3</text>
<text transform="translate(368,278) scale(0.7,1)" font-size="6.8" text-anchor="middle" fill="#1a1a1a" font-family="Liberation Mono">252.7m²</text>
<text transform="translate(397,311) scale(0.7,1)" font-size="6.8" text-anchor="middle" fill="#1a1a1a" font-family="Liberation Mono">4</text>
<text transform="translate(400,318) scale(0.7,1)" font-size="6.8" text-anchor="middle" fill="#1a1a1a" font-family="Liberation Mono">162.7m²</text>
<text transform="translate(438,292) scale(0.7,1)" font-size="6.8" text-anchor="middle" fill="#1a1a1a" font-family="Liberation Mono">5</text>
<text transform="translate(438,299) scale(0.7,1)" font-size="6.8" text-anchor="middle" fill="#1a1a1a" font-family="Liberation Mono">34.6m²</text>
<text transform="translate(438,317) scale(0.7,1)" font-size="6.8" text-anchor="middle" fill="#1a1a1a" font-family="Liberation Mono">6</text>
<text transform="translate(438,324) scale(0.7,1)" font-size="6.8" text-anchor="middle" fill="#1a1a1a" font-family="Liberation Mono">54.3m²</text>
<text transform="translate(503,305) scale(0.7,1)" font-size="6.8" text-anchor="middle" fill="#1a1a1a" font-family="Liberation Mono">7</text>
<text transform="translate(503,312) scale(0.7,1)" font-size="6.8" text-anchor="middle" fill="#1a1a1a" font-family="Liberation Mono">111.8m²</text>
<text transform="translate(539,302) scale(0.7,1)" font-size="6.8" text-anchor="middle" fill="#1a1a1a" font-family="Liberation Mono">25</text>
<text transform="translate(539,309) scale(0.7,1)" font-size="6.8" text-anchor="middle" fill="#1a1a1a" font-family="Liberation Mono">73.1m²</text>
<text transform="translate(539,323) scale(0.7,1)" font-size="6.8" text-anchor="middle" fill="#1a1a1a" font-family="Liberation Mono">8</text>
<text transform="translate(539,330) scale(0.7,1)" font-size="6.8" text-anchor="middle" fill="#1a1a1a" font-family="Liberation Mono">27.6m²</text>
<text transform="translate(544,271) scale(0.7,1)" font-size="6.8" text-anchor="middle" fill="#1a1a1a" font-family="Liberation Mono">26</text>
<text transform="translate(544,277) scale(0.7,1)" font-size="6.8" text-anchor="middle" fill="#1a1a1a" font-family="Liberation Mono">33.2m²</text>
<text transform="translate(578,270) scale(0.7,1)" font-size="6.8" text-anchor="middle" fill="#1a1a1a" font-family="Liberation Mono">28</text>
<text transform="translate(582,276) scale(0.7,1)" font-size="6.8" text-anchor="middle" fill="#1a1a1a" font-family="Liberation Mono">22.6m²</text>
<text transform="translate(582,284) scale(0.7,1)" font-size="6.8" text-anchor="middle" fill="#1a1a1a" font-family="Liberation Mono">27</text>
<text transform="translate(584,290) scale(0.7,1)" font-size="6.8" text-anchor="middle" fill="#1a1a1a" font-family="Liberation Mono">22.1m²</text>
<text transform="translate(596,229) scale(0.7,1)" font-size="6.8" text-anchor="middle" fill="#1a1a1a" font-family="Liberation Mono">30</text>
<text transform="translate(594,235) scale(0.7,1)" font-size="6.8" text-anchor="middle" fill="#1a1a1a" font-family="Liberation Mono">33.7m²</text>
<rect x="271.5" y="362.4" width="32.5" height="14.2" stroke="#444" stroke-width="0.7" fill="none"/>
<line x1="271.5" y1="376.6" x2="304" y2="376.6" stroke="#444" stroke-width="0.7" fill="none"/>
<line x1="271.5" y1="409.3" x2="304" y2="409.3" stroke="#444" stroke-width="0.7" fill="none"/>
<line x1="271.5" y1="442.7" x2="304" y2="442.7" stroke="#444" stroke-width="0.7" fill="none"/>
<line x1="271.5" y1="460.2" x2="304" y2="460.2" stroke="#444" stroke-width="0.7" fill="none"/>
<line x1="271.5" y1="478.4" x2="304" y2="478.4" stroke="#444" stroke-width="0.7" fill="none"/>
<line x1="271.5" y1="494.6" x2="304" y2="494.6" stroke="#444" stroke-width="0.7" fill="none"/>
<line x1="271.5" y1="510" x2="304" y2="510" stroke="#444" stroke-width="0.7" fill="none"/>
<line x1="271.5" y1="376.6" x2="271.5" y2="510" stroke="#444" stroke-width="0.7" fill="none"/>
<line x1="304" y1="376.6" x2="304" y2="510" stroke="#000" stroke-width="1.6" fill="none"/>
<line x1="271.5" y1="376.6" x2="304" y2="376.6" stroke="#111" stroke-width="1.2" fill="none"/>
<line x1="271.5" y1="510" x2="304" y2="510" stroke="#111" stroke-width="1.2" fill="none"/>
<rect x="270.3" y="375.4" width="2.4" height="2.4" fill="#000"/>
<rect x="302.8" y="375.4" width="2.4" height="2.4" fill="#000"/>
<rect x="270.3" y="408.1" width="2.4" height="2.4" fill="#000"/>
<rect x="302.8" y="408.1" width="2.4" height="2.4" fill="#000"/>
<rect x="270.3" y="441.5" width="2.4" height="2.4" fill="#000"/>
<rect x="302.8" y="441.5" width="2.4" height="2.4" fill="#000"/>
<rect x="270.3" y="459" width="2.4" height="2.4" fill="#000"/>
<rect x="302.8" y="459" width="2.4" height="2.4" fill="#000"/>
<rect x="270.3" y="477.2" width="2.4" height="2.4" fill="#000"/>
<rect x="302.8" y="477.2" width="2.4" height="2.4" fill="#000"/>
<rect x="270.3" y="493.4" width="2.4" height="2.4" fill="#000"/>
<rect x="302.8" y="493.4" width="2.4" height="2.4" fill="#000"/>
<rect x="270.3" y="508.8" width="2.4" height="2.4" fill="#000"/>
<rect x="302.8" y="508.8" width="2.4" height="2.4" fill="#000"/>
<rect x="286.8" y="375.4" width="2.4" height="2.4" fill="#000"/>
<rect x="286.8" y="508.8" width="2.4" height="2.4" fill="#000"/>
<rect x="271.5" y="521.5" width="32.5" height="23.5" stroke="#444" stroke-width="0.7" fill="none"/>
<text transform="translate(289,367.8) scale(0.7,1)" font-size="6.5" text-anchor="middle" fill="#1a1a1a" font-family="Liberation Mono">71</text>
<text transform="translate(291,374) scale(0.7,1)" font-size="6.5" text-anchor="middle" fill="#1a1a1a" font-family="Liberation Mono">30.48m²</text>
<text transform="translate(289,395.8) scale(0.7,1)" font-size="6.5" text-anchor="middle" fill="#1a1a1a" font-family="Liberation Mono">70</text>
<text transform="translate(291,401.9) scale(0.7,1)" font-size="6.5" text-anchor="middle" fill="#1a1a1a" font-family="Liberation Mono">67.6m²</text>
<text transform="translate(289,427.6) scale(0.7,1)" font-size="6.5" text-anchor="middle" fill="#1a1a1a" font-family="Liberation Mono">69</text>
<text transform="translate(291,434.3) scale(0.7,1)" font-size="6.5" text-anchor="middle" fill="#1a1a1a" font-family="Liberation Mono">78.1m²</text>
<text transform="translate(289,451.3) scale(0.7,1)" font-size="6.5" text-anchor="middle" fill="#1a1a1a" font-family="Liberation Mono">68</text>
<text transform="translate(291,458) scale(0.7,1)" font-size="6.5" text-anchor="middle" fill="#1a1a1a" font-family="Liberation Mono">38.8m²</text>
<text transform="translate(289,467.3) scale(0.7,1)" font-size="6.5" text-anchor="middle" fill="#1a1a1a" font-family="Liberation Mono">67</text>
<text transform="translate(291,473) scale(0.7,1)" font-size="6.5" text-anchor="middle" fill="#1a1a1a" font-family="Liberation Mono">38.4m²</text>
<text transform="translate(289,487.2) scale(0.7,1)" font-size="6.5" text-anchor="middle" fill="#1a1a1a" font-family="Liberation Mono">66</text>
<text transform="translate(291,492.9) scale(0.7,1)" font-size="6.5" text-anchor="middle" fill="#1a1a1a" font-family="Liberation Mono">33.1m²</text>
<text transform="translate(289,502.4) scale(0.7,1)" font-size="6.5" text-anchor="middle" fill="#1a1a1a" font-family="Liberation Mono">65</text>
<text transform="translate(291,509.1) scale(0.7,1)" font-size="6.5" text-anchor="middle" fill="#1a1a1a" font-family="Liberation Mono">33.9m²</text>
<text transform="translate(289,533.6) scale(0.7,1)" font-size="6.5" text-anchor="middle" fill="#1a1a1a" font-family="Liberation Mono">60</text>
<text transform="translate(291,539.1) scale(0.7,1)" font-size="6.5" text-anchor="middle" fill="#1a1a1a" font-family="Liberation Mono">45.1m²</text>
<rect x="320.4" y="348" width="68.6" height="111.7" stroke="#444" stroke-width="0.7" fill="none"/>
<line x1="354.6" y1="348" x2="354.6" y2="459.7" stroke="#444" stroke-width="0.7" fill="none"/>
<line x1="320.4" y1="376.6" x2="389" y2="376.6" stroke="#444" stroke-width="0.7" fill="none"/>
<line x1="320.4" y1="409.3" x2="389" y2="409.3" stroke="#444" stroke-width="0.7" fill="none"/>
<line x1="320.4" y1="444.7" x2="389" y2="444.7" stroke="#444" stroke-width="0.7" fill="none"/>
<line x1="320.4" y1="362.4" x2="354.6" y2="362.4" stroke="#444" stroke-width="0.7" fill="none"/>
<line x1="320.4" y1="426" x2="354.6" y2="426" stroke="#444" stroke-width="0.7" fill="none"/>
<line x1="320.4" y1="348" x2="340" y2="348" stroke="#000" stroke-width="1.6" fill="none"/>
<line x1="389.5" y1="376.6" x2="389.5" y2="459.7" stroke="#000" stroke-width="1.6" fill="none"/>
<line x1="354.6" y1="459.7" x2="389.5" y2="459.7" stroke="#000" stroke-width="1.6" fill="none"/>
<polyline points="322,444.7 322,457 354.6,457" stroke="#777" stroke-width="0.6" fill="none"/>
<rect x="319.1" y="346.7" width="2.6" height="2.6" fill="#000"/>
<rect x="332.7" y="346.7" width="2.6" height="2.6" fill="#000"/>
<rect x="353.3" y="346.7" width="2.6" height="2.6" fill="#000"/>
<rect x="387.7" y="346.7" width="2.6" height="2.6" fill="#000"/>
<rect x="319.1" y="375.3" width="2.6" height="2.6" fill="#000"/>
<rect x="353.3" y="375.3" width="2.6" height="2.6" fill="#000"/>
<rect x="387.7" y="375.3" width="2.6" height="2.6" fill="#000"/>
<rect x="319.1" y="408" width="2.6" height="2.6" fill="#000"/>
<rect x="353.3" y="408" width="2.6" height="2.6" fill="#000"/>
<rect x="387.7" y="408" width="2.6" height="2.6" fill="#000"/>
<rect x="319.1" y="443.4" width="2.6" height="2.6" fill="#000"/>
<rect x="353.3" y="443.4" width="2.6" height="2.6" fill="#000"/>
<rect x="387.7" y="443.4" width="2.6" height="2.6" fill="#000"/>
<text transform="translate(324,364) scale(0.7,1)" font-size="6.2" text-anchor="middle" fill="#1a1a1a" font-family="Liberation Mono">72B</text>
<text transform="translate(344,364) scale(0.7,1)" font-size="6.2" text-anchor="middle" fill="#1a1a1a" font-family="Liberation Mono">32.3m²</text>
<text transform="translate(324,373) scale(0.7,1)" font-size="6.2" text-anchor="middle" fill="#1a1a1a" font-family="Liberation Mono">72A</text>
<text transform="translate(344,373) scale(0.7,1)" font-size="6.2" text-anchor="middle" fill="#1a1a1a" font-family="Liberation Mono">32.3m²</text>
<text transform="translate(371,366) scale(0.7,1)" font-size="6.5" text-anchor="middle" fill="#1a1a1a" font-family="Liberation Mono">79</text>
<text transform="translate(371,372) scale(0.7,1)" font-size="6.5" text-anchor="middle" fill="#1a1a1a" font-family="Liberation Mono">63.4m²</text>
<text transform="translate(337,394) scale(0.7,1)" font-size="6.5" text-anchor="middle" fill="#1a1a1a" font-family="Liberation Mono">73</text>
<text transform="translate(337,400) scale(0.7,1)" font-size="6.5" text-anchor="middle" fill="#1a1a1a" font-family="Liberation Mono">72.1m²</text>
<text transform="translate(371,394) scale(0.7,1)" font-size="6.5" text-anchor="middle" fill="#1a1a1a" font-family="Liberation Mono">78</text>
<text transform="translate(371,400) scale(0.7,1)" font-size="6.5" text-anchor="middle" fill="#1a1a1a" font-family="Liberation Mono">70.8m²</text>
<text transform="translate(324,425) scale(0.7,1)" font-size="6.2" text-anchor="middle" fill="#1a1a1a" font-family="Liberation Mono">74B</text>
<text transform="translate(344,425) scale(0.7,1)" font-size="6.2" text-anchor="middle" fill="#1a1a1a" font-family="Liberation Mono">48.5m²</text>
<text transform="translate(324,437) scale(0.7,1)" font-size="6.2" text-anchor="middle" fill="#1a1a1a" font-family="Liberation Mono">74A</text>
<text transform="translate(344,437) scale(0.7,1)" font-size="6.2" text-anchor="middle" fill="#1a1a1a" font-family="Liberation Mono">48.5m²</text>
<text transform="translate(371,429) scale(0.7,1)" font-size="6.5" text-anchor="middle" fill="#1a1a1a" font-family="Liberation Mono">77</text>
<text transform="translate(371,435) scale(0.7,1)" font-size="6.5" text-anchor="middle" fill="#1a1a1a" font-family="Liberation Mono">79.7m²</text>
<text transform="translate(371,454) scale(0.7,1)" font-size="6.5" text-anchor="middle" fill="#1a1a1a" font-family="Liberation Mono">76</text>
<text transform="translate(371,460) scale(0.7,1)" font-size="6.5" text-anchor="middle" fill="#1a1a1a" font-family="Liberation Mono">32.6m²</text>
<text x="347" y="454" font-size="5" font-weight="bold" text-anchor="middle" fill="#111" font-family="Liberation Sans">IOSOO</text>
<polyline points="405.7,348 463.5,348 463.5,459.7 409,459.7 405.7,456.5 405.7,348" stroke="#444" stroke-width="0.7" fill="none"/>
<line x1="405.7" y1="376.6" x2="463.5" y2="376.6" stroke="#000" stroke-width="1.6" fill="none"/>
<line x1="405.7" y1="409.3" x2="463.5" y2="409.3" stroke="#444" stroke-width="0.7" fill="none"/>
<line x1="405.7" y1="444.7" x2="463.5" y2="444.7" stroke="#444" stroke-width="0.7" fill="none"/>
<line x1="434.4" y1="376.6" x2="434.4" y2="444.7" stroke="#444" stroke-width="0.7" fill="none"/>
<line x1="441.3" y1="348" x2="441.3" y2="376.6" stroke="#444" stroke-width="0.7" fill="none"/>
<line x1="420.6" y1="348" x2="420.6" y2="376.6" stroke="#444" stroke-width="0.7" fill="none"/>
<polyline points="405.7,409.3 405.7,456.5 409,459.7 434,459.7" stroke="#000" stroke-width="1.6" fill="none"/>
<rect x="419.3" y="346.7" width="2.6" height="2.6" fill="#000"/>
<rect x="440" y="346.7" width="2.6" height="2.6" fill="#000"/>
<rect x="458.7" y="346.7" width="2.6" height="2.6" fill="#000"/>
<rect x="419.3" y="375.3" width="2.6" height="2.6" fill="#000"/>
<rect x="433.1" y="375.3" width="2.6" height="2.6" fill="#000"/>
<rect x="462.2" y="375.3" width="2.6" height="2.6" fill="#000"/>
<rect x="404.4" y="375.3" width="2.6" height="2.6" fill="#000"/>
<rect x="419.3" y="408" width="2.6" height="2.6" fill="#000"/>
<rect x="433.1" y="408" width="2.6" height="2.6" fill="#000"/>
<rect x="462.2" y="408" width="2.6" height="2.6" fill="#000"/>
<rect x="419.3" y="443.4" width="2.6" height="2.6" fill="#000"/>
<rect x="433.1" y="443.4" width="2.6" height="2.6" fill="#000"/>
<rect x="462.2" y="443.4" width="2.6" height="2.6" fill="#000"/>
<text transform="translate(431,361) scale(0.7,1)" font-size="6.2" text-anchor="middle" fill="#1a1a1a" font-family="Liberation Mono">80B</text>
<text transform="translate(433,370) scale(0.7,1)" font-size="6.2" text-anchor="middle" fill="#1a1a1a" font-family="Liberation Mono">40.7m²</text>
<text transform="translate(452,361) scale(0.7,1)" font-size="6.2" text-anchor="middle" fill="#1a1a1a" font-family="Liberation Mono">80A</text>
<text transform="translate(452,370) scale(0.7,1)" font-size="6.2" text-anchor="middle" fill="#1a1a1a" font-family="Liberation Mono">40.7m²</text>
<text transform="translate(420,396) scale(0.7,1)" font-size="6.5" text-anchor="middle" fill="#1a1a1a" font-family="Liberation Mono">81</text>
<text transform="translate(420,402) scale(0.7,1)" font-size="6.5" text-anchor="middle" fill="#1a1a1a" font-family="Liberation Mono">60.5m²</text>
<text transform="translate(448,396) scale(0.7,1)" font-size="6.5" text-anchor="middle" fill="#1a1a1a" font-family="Liberation Mono">82</text>
<text transform="translate(448,402) scale(0.7,1)" font-size="6.5" text-anchor="middle" fill="#1a1a1a" font-family="Liberation Mono">59.6m²</text>
<text transform="translate(420,427) scale(0.7,1)" font-size="6.5" text-anchor="middle" fill="#1a1a1a" font-family="Liberation Mono">83</text>
<text transform="translate(420,433) scale(0.7,1)" font-size="6.5" text-anchor="middle" fill="#1a1a1a" font-family="Liberation Mono">66.5m²</text>
<text transform="translate(448,427) scale(0.7,1)" font-size="6.5" text-anchor="middle" fill="#1a1a1a" font-family="Liberation Mono">84</text>
<text transform="translate(448,433) scale(0.7,1)" font-size="6.5" text-anchor="middle" fill="#1a1a1a" font-family="Liberation Mono">65.5m²</text>
<text transform="translate(438,453) scale(0.7,1)" font-size="6.5" text-anchor="middle" fill="#1a1a1a" font-family="Liberation Mono">85</text>
<text transform="translate(438,459) scale(0.7,1)" font-size="6.5" text-anchor="middle" fill="#1a1a1a" font-family="Liberation Mono">58.2m²</text>
<polygon points="320.4,475.9 405.7,475.9 405.7,494.6 377,525.8 320.4,525.8" stroke="#444" stroke-width="0.7" fill="none"/>
<line x1="337.9" y1="475.9" x2="337.9" y2="510.8" stroke="#444" stroke-width="0.7" fill="none"/>
<line x1="354.6" y1="475.9" x2="354.6" y2="525.8" stroke="#444" stroke-width="0.7" fill="none"/>
<line x1="320.4" y1="510.8" x2="388" y2="510.8" stroke="#444" stroke-width="0.7" fill="none"/>
<polyline points="382,475.9 382,483 399,483 399,494.6" stroke="#777" stroke-width="0.6" fill="none"/>
<rect x="387" y="486" width="11" height="9" stroke="#777" stroke-width="0.6" fill="none"/>
<rect x="319.1" y="474.6" width="2.6" height="2.6" fill="#000"/>
<rect x="336.6" y="474.6" width="2.6" height="2.6" fill="#000"/>
<rect x="353.3" y="474.6" width="2.6" height="2.6" fill="#000"/>
<rect x="386.7" y="474.6" width="2.6" height="2.6" fill="#000"/>
<rect x="319.1" y="509.5" width="2.6" height="2.6" fill="#000"/>
<rect x="353.3" y="509.5" width="2.6" height="2.6" fill="#000"/>
<rect x="386.7" y="509.5" width="2.6" height="2.6" fill="#000"/>
<text transform="translate(329,500) scale(0.7,1)" font-size="6.5" text-anchor="middle" fill="#1a1a1a" font-family="Liberation Mono">64</text>
<text transform="translate(329,506) scale(0.7,1)" font-size="6.5" text-anchor="middle" fill="#1a1a1a" font-family="Liberation Mono">41.1m²</text>
<text transform="translate(346,500) scale(0.7,1)" font-size="6.5" text-anchor="middle" fill="#1a1a1a" font-family="Liberation Mono">63</text>
<text transform="translate(346,506) scale(0.7,1)" font-size="6.5" text-anchor="middle" fill="#1a1a1a" font-family="Liberation Mono">36.8m²</text>
<text transform="translate(370,500) scale(0.7,1)" font-size="6.5" text-anchor="middle" fill="#1a1a1a" font-family="Liberation Mono">62</text>
<text transform="translate(370,506) scale(0.7,1)" font-size="6.5" text-anchor="middle" fill="#1a1a1a" font-family="Liberation Mono">107.2m²</text>
<text transform="translate(334,517) scale(0.7,1)" font-size="6.2" text-anchor="middle" fill="#1a1a1a" font-family="Liberation Mono">61A</text>
<text transform="translate(336,524) scale(0.7,1)" font-size="6.2" text-anchor="middle" fill="#1a1a1a" font-family="Liberation Mono">29.75m²</text>
<text transform="translate(362,517) scale(0.7,1)" font-size="6.2" text-anchor="middle" fill="#1a1a1a" font-family="Liberation Mono">61B</text>
<text transform="translate(362,524) scale(0.7,1)" font-size="6.2" text-anchor="middle" fill="#1a1a1a" font-family="Liberation Mono">33.25m²</text>
<polyline points="420,543.5 420,475.9 487.4,475.9" stroke="#444" stroke-width="0.7" fill="none"/>
<line x1="420" y1="543.5" x2="467.4" y2="543.5" stroke="#444" stroke-width="0.7" fill="none"/>
<line x1="454.3" y1="475.9" x2="454.3" y2="509" stroke="#444" stroke-width="0.7" fill="none"/>
<line x1="420" y1="509" x2="480" y2="509" stroke="#444" stroke-width="0.7" fill="none"/>
<rect x="418.7" y="474.6" width="2.6" height="2.6" fill="#000"/>
<rect x="453" y="474.6" width="2.6" height="2.6" fill="#000"/>
<rect x="418.7" y="507.7" width="2.6" height="2.6" fill="#000"/>
<rect x="453" y="507.7" width="2.6" height="2.6" fill="#000"/>
<text transform="translate(438,491) scale(0.7,1)" font-size="6.5" text-anchor="middle" fill="#1a1a1a" font-family="Liberation Mono">52</text>
<text transform="translate(440,497.5) scale(0.7,1)" font-size="6.5" text-anchor="middle" fill="#1a1a1a" font-family="Liberation Mono">73.5m²</text>
<text transform="translate(473,491) scale(0.7,1)" font-size="6.5" text-anchor="middle" fill="#1a1a1a" font-family="Liberation Mono">55</text>
<text transform="translate(475,497.5) scale(0.7,1)" font-size="6.5" text-anchor="middle" fill="#1a1a1a" font-family="Liberation Mono">53.1m²</text>
<text transform="translate(448,522.5) scale(0.7,1)" font-size="5.3" text-anchor="middle" fill="#1a1a1a" font-family="Liberation Mono">餐饮</text>
<text transform="translate(448,531.5) scale(0.7,1)" font-size="6.5" text-anchor="middle" fill="#1a1a1a" font-family="Liberation Mono">123.6m²</text>
<rect x="320.9" y="541.7" width="67.3" height="34.9" stroke="#444" stroke-width="0.7" fill="none"/>
<line x1="354.6" y1="541.7" x2="354.6" y2="576.6" stroke="#444" stroke-width="0.7" fill="none"/>
<line x1="320.9" y1="541.7" x2="388.2" y2="541.7" stroke="#000" stroke-width="1.6" fill="none"/>
<text transform="translate(339,556) scale(0.7,1)" font-size="5" text-anchor="middle" fill="#1a1a1a" font-family="Liberation Mono">餐饮</text>
<text transform="translate(342,565) scale(0.7,1)" font-size="6.5" text-anchor="middle" fill="#1a1a1a" font-family="Liberation Mono">73.5m²</text>
<text transform="translate(373,556) scale(0.7,1)" font-size="5" text-anchor="middle" fill="#1a1a1a" font-family="Liberation Mono">餐饮</text>
<text transform="translate(373,565) scale(0.7,1)" font-size="6.5" text-anchor="middle" fill="#1a1a1a" font-family="Liberation Mono">73.5m²</text>
<rect x="319.6" y="540.4" width="2.6" height="2.6" fill="#000"/>
<rect x="353.3" y="540.4" width="2.6" height="2.6" fill="#000"/>
<rect x="386.9" y="540.4" width="2.6" height="2.6" fill="#000"/>
<rect x="319.6" y="575.3" width="2.6" height="2.6" fill="#000"/>
<rect x="353.3" y="575.3" width="2.6" height="2.6" fill="#000"/>
<rect x="386.9" y="575.3" width="2.6" height="2.6" fill="#000"/>
<rect x="424.2" y="575.3" width="2.6" height="2.6" fill="#000"/>
<rect x="271.5" y="543" width="37.5" height="25" stroke="#777" stroke-width="0.6" fill="none"/>
<line x1="289" y1="543" x2="289" y2="568" stroke="#777" stroke-width="0.6" fill="none"/>
<rect x="309" y="543" width="11.9" height="33.6" stroke="#777" stroke-width="0.6" fill="none"/>
<polyline points="753.3,177.2 753.3,269.4 783.9,269.4 783.9,266.7 787.4,266.7 787.4,409.3 761.3,434.3" stroke="#000" stroke-width="1.6" fill="none"/>
<polyline points="698.4,177.2 698.4,203.6 696,209.9 720.8,209.9 720.8,265.2 687.2,265.2 687.2,282.2 745.7,282.2 745.7,269.4 753.3,269.4" stroke="#000" stroke-width="1.6" fill="none"/>
<line x1="720.8" y1="228.6" x2="753.3" y2="228.6" stroke="#000" stroke-width="1.6" fill="none"/>
<line x1="671.7" y1="177.2" x2="671.7" y2="191" stroke="#000" stroke-width="1.6" fill="none"/>
<rect x="766" y="271" width="13" height="6" stroke="#777" stroke-width="0.6" fill="none"/>
<clipPath id="c718"><polygon points="766,271 779,271 779,277 766,277"/></clipPath><g clip-path="url(#c718)" stroke="#999" stroke-width="0.6"><line x1="780.7" y1="265.8" x2="780.7" y2="282.2"/><line x1="779.7" y1="265.8" x2="779.7" y2="282.2"/><line x1="778.7" y1="265.8" x2="778.7" y2="282.2"/><line x1="777.7" y1="265.8" x2="777.7" y2="282.2"/><line x1="776.7" y1="265.8" x2="776.7" y2="282.2"/><line x1="775.7" y1="265.8" x2="775.7" y2="282.2"/><line x1="774.7" y1="265.8" x2="774.7" y2="282.2"/><line x1="773.7" y1="265.8" x2="773.7" y2="282.2"/><line x1="772.7" y1="265.8" x2="772.7" y2="282.2"/><line x1="771.7" y1="265.8" x2="771.7" y2="282.2"/><line x1="770.7" y1="265.8" x2="770.7" y2="282.2"/><line x1="769.7" y1="265.8" x2="769.7" y2="282.2"/><line x1="768.7" y1="265.8" x2="768.7" y2="282.2"/><line x1="767.7" y1="265.8" x2="767.7" y2="282.2"/><line x1="766.7" y1="265.8" x2="766.7" y2="282.2"/><line x1="765.7" y1="265.8" x2="765.7" y2="282.2"/><line x1="764.7" y1="265.8" x2="764.7" y2="282.2"/></g>
<rect x="620.6" y="315" width="72.3" height="19.5" stroke="#000" stroke-width="1.6" fill="none"/>
<line x1="654" y1="315" x2="654" y2="334.5" stroke="#000" stroke-width="1.6" fill="none"/>
<rect x="693.4" y="315" width="45" height="29.6" stroke="#444" stroke-width="0.7" fill="none"/>
<line x1="738.4" y1="280.9" x2="738.4" y2="364.4" stroke="#111" stroke-width="1.2" fill="none"/>
<line x1="693.4" y1="315" x2="738.4" y2="315" stroke="#444" stroke-width="0.7" fill="none"/>
<polyline points="621.1,315 621.1,307 634.8,298.4 696,298.4 696,315" stroke="#444" stroke-width="0.7" fill="none"/>
<line x1="652.3" y1="298.4" x2="652.3" y2="315" stroke="#111" stroke-width="1.2" fill="none"/>
<line x1="674" y1="298.4" x2="674" y2="315" stroke="#444" stroke-width="0.7" fill="none"/>
<line x1="697" y1="282.2" x2="697" y2="315" stroke="#444" stroke-width="0.7" fill="none"/>
<line x1="737" y1="282.2" x2="737" y2="315" stroke="#444" stroke-width="0.7" fill="none"/>
<line x1="638" y1="296" x2="638" y2="298.4" stroke="#777" stroke-width="0.6" fill="none"/>
<line x1="644" y1="296" x2="644" y2="298.4" stroke="#777" stroke-width="0.6" fill="none"/>
<line x1="665" y1="296" x2="665" y2="298.4" stroke="#777" stroke-width="0.6" fill="none"/>
<line x1="671" y1="296" x2="671" y2="298.4" stroke="#777" stroke-width="0.6" fill="none"/>
<rect x="638.4" y="231.2" width="11.2" height="12.5" fill="#000"/>
<rect x="637.7" y="229.1" width="14.7" height="15.3" stroke="#111" stroke-width="1.2" fill="none"/>
<polygon points="664.9,199.9 695.5,210.3 683.7,252.1 651,241.7" stroke="#444" stroke-width="0.7" fill="none"/>
<line x1="664.9" y1="199.9" x2="677" y2="200.5" stroke="#000" stroke-width="1.6" fill="none"/>
<line x1="659.6" y1="215.8" x2="691" y2="226.2" stroke="#444" stroke-width="0.7" fill="none"/>
<line x1="680.2" y1="205.1" x2="667.4" y2="246.9" stroke="#444" stroke-width="0.7" fill="none"/>
<line x1="662.1" y1="208.3" x2="693.1" y2="218.7" stroke="#777" stroke-width="0.6" fill="none"/>
<clipPath id="c740"><polygon points="661.2,216.3 673.7,220.5 666.9,242.5 653.9,238.3"/></clipPath><g clip-path="url(#c740)" stroke="#555" stroke-width="0.6"><line x1="641.9" y1="240.6" x2="652.6" y2="207.4"/><line x1="642.9" y1="240.9" x2="653.7" y2="207.8"/><line x1="644" y1="241.3" x2="654.7" y2="208.1"/><line x1="645" y1="241.6" x2="655.8" y2="208.5"/><line x1="646.1" y1="241.9" x2="656.8" y2="208.8"/><line x1="647.1" y1="242.3" x2="657.9" y2="209.1"/><line x1="648.2" y1="242.6" x2="658.9" y2="209.5"/><line x1="649.2" y1="243" x2="660" y2="209.8"/><line x1="650.2" y1="243.3" x2="661" y2="210.2"/><line x1="651.3" y1="243.6" x2="662.1" y2="210.5"/><line x1="652.3" y1="244" x2="663.1" y2="210.8"/><line x1="653.4" y1="244.3" x2="664.2" y2="211.2"/><line x1="654.4" y1="244.7" x2="665.2" y2="211.5"/><line x1="655.5" y1="245" x2="666.2" y2="211.9"/><line x1="656.5" y1="245.3" x2="667.3" y2="212.2"/><line x1="657.6" y1="245.7" x2="668.3" y2="212.5"/><line x1="658.6" y1="246" x2="669.4" y2="212.9"/><line x1="659.7" y1="246.4" x2="670.4" y2="213.2"/><line x1="660.7" y1="246.7" x2="671.5" y2="213.6"/><line x1="661.8" y1="247" x2="672.5" y2="213.9"/><line x1="662.8" y1="247.4" x2="673.6" y2="214.2"/><line x1="663.8" y1="247.7" x2="674.6" y2="214.6"/><line x1="664.9" y1="248.1" x2="675.7" y2="214.9"/><line x1="665.9" y1="248.4" x2="676.7" y2="215.3"/><line x1="667" y1="248.7" x2="677.8" y2="215.6"/><line x1="668" y1="249.1" x2="678.8" y2="215.9"/><line x1="669.1" y1="249.4" x2="679.8" y2="216.3"/><line x1="670.1" y1="249.8" x2="680.9" y2="216.6"/><line x1="671.2" y1="250.1" x2="681.9" y2="217"/><line x1="672.2" y1="250.4" x2="683" y2="217.3"/><line x1="673.3" y1="250.8" x2="684" y2="217.6"/><line x1="674.3" y1="251.1" x2="685.1" y2="218"/></g>
<line x1="667.5" y1="218.4" x2="660.4" y2="240.4" stroke="#222" stroke-width="1.6"/>
<clipPath id="c742"><polygon points="676.9,221.5 689.4,225.7 683.2,247.7 670.2,243.5"/></clipPath><g clip-path="url(#c742)" stroke="#555" stroke-width="0.6"><line x1="658.1" y1="245.7" x2="668.7" y2="212.9"/><line x1="659.1" y1="246" x2="669.8" y2="213.2"/><line x1="660.2" y1="246.4" x2="670.8" y2="213.5"/><line x1="661.2" y1="246.7" x2="671.9" y2="213.9"/><line x1="662.2" y1="247" x2="672.9" y2="214.2"/><line x1="663.3" y1="247.4" x2="674" y2="214.6"/><line x1="664.3" y1="247.7" x2="675" y2="214.9"/><line x1="665.4" y1="248.1" x2="676.1" y2="215.2"/><line x1="666.4" y1="248.4" x2="677.1" y2="215.6"/><line x1="667.5" y1="248.7" x2="678.1" y2="215.9"/><line x1="668.5" y1="249.1" x2="679.2" y2="216.3"/><line x1="669.6" y1="249.4" x2="680.2" y2="216.6"/><line x1="670.6" y1="249.8" x2="681.3" y2="216.9"/><line x1="671.7" y1="250.1" x2="682.3" y2="217.3"/><line x1="672.7" y1="250.4" x2="683.4" y2="217.6"/><line x1="673.8" y1="250.8" x2="684.4" y2="217.9"/><line x1="674.8" y1="251.1" x2="685.5" y2="218.3"/><line x1="675.8" y1="251.5" x2="686.5" y2="218.6"/><line x1="676.9" y1="251.8" x2="687.6" y2="219"/><line x1="677.9" y1="252.1" x2="688.6" y2="219.3"/><line x1="679" y1="252.5" x2="689.7" y2="219.6"/><line x1="680" y1="252.8" x2="690.7" y2="220"/><line x1="681.1" y1="253.2" x2="691.7" y2="220.3"/><line x1="682.1" y1="253.5" x2="692.8" y2="220.7"/><line x1="683.2" y1="253.8" x2="693.8" y2="221"/><line x1="684.2" y1="254.2" x2="694.9" y2="221.3"/><line x1="685.3" y1="254.5" x2="695.9" y2="221.7"/><line x1="686.3" y1="254.9" x2="697" y2="222"/><line x1="687.4" y1="255.2" x2="698" y2="222.4"/><line x1="688.4" y1="255.5" x2="699.1" y2="222.7"/><line x1="689.4" y1="255.9" x2="700.1" y2="223"/><line x1="690.5" y1="256.2" x2="701.2" y2="223.4"/></g>
<line x1="683.2" y1="223.6" x2="676.7" y2="245.6" stroke="#222" stroke-width="1.6"/>
<rect x="603.4" y="184.2" width="2.6" height="5" fill="#111" transform="rotate(25 604.7 186.7)"/>
<rect x="631.6" y="195.8" width="2.6" height="5.5" fill="#111" transform="rotate(25 632.9 198.5)"/>
<rect x="618.2" y="227.1" width="2.8" height="5.8" fill="#111" transform="rotate(20 619.6 230)"/>
<rect x="589.4" y="229.9" width="2.6" height="4.5" fill="#111" transform="rotate(-30 590.7 232.2)"/>
<rect x="660.4" y="207.8" width="2.6" height="5" fill="#111" transform="rotate(20 661.7 210.3)"/>
<polyline points="638.5,244.8 638.5,283.3 677.2,283.3 677.2,252.2 652,245" stroke="#444" stroke-width="0.7" fill="none"/>
<line x1="638.5" y1="264.7" x2="677.2" y2="264.7" stroke="#444" stroke-width="0.7" fill="none"/>
<line x1="659.4" y1="264.7" x2="659.4" y2="283.3" stroke="#444" stroke-width="0.7" fill="none"/>
<polygon points="594.9,254.7 621.1,248.5 621.1,269.2 594.9,269.2" stroke="#444" stroke-width="0.7" fill="none"/>
<polygon points="621.6,344.5 671.5,344.5 671.5,364.9 638.3,364.9 621.6,355" stroke="#444" stroke-width="0.7" fill="none"/>
<line x1="652.5" y1="344.5" x2="652.5" y2="364.9" stroke="#444" stroke-width="0.7" fill="none"/>
<rect x="703.9" y="344.5" width="35.4" height="20.4" stroke="#444" stroke-width="0.7" fill="none"/>
<polyline points="692.9,334.5 697,344.5 703.9,344.5" stroke="#777" stroke-width="0.6" fill="none"/>
<rect x="671.5" y="375.6" width="67.8" height="69.6" stroke="#444" stroke-width="0.7" fill="none"/>
<line x1="709.4" y1="375.6" x2="709.4" y2="445.2" stroke="#444" stroke-width="0.7" fill="none"/>
<polyline points="739.3,375.6 739.3,386 753,386" stroke="#444" stroke-width="0.7" fill="none"/>
<line x1="753.7" y1="349.3" x2="753.7" y2="434" stroke="#444" stroke-width="0.7" fill="none"/>
<polyline points="755.4,282.4 755.4,303 764.5,303 764.5,309.7" stroke="#111" stroke-width="1.2" fill="none"/>
<rect x="764.5" y="282.4" width="22.9" height="21.4" stroke="#444" stroke-width="0.7" fill="none"/>
<rect x="765.3" y="283.2" width="2.7" height="3.3" stroke="#111" stroke-width="0.6" fill="none"/>
<rect x="768.9" y="283.2" width="2.7" height="3.3" stroke="#111" stroke-width="0.6" fill="none"/>
<rect x="772.5" y="283.2" width="2.7" height="3.3" stroke="#111" stroke-width="0.6" fill="none"/>
<rect x="776.1" y="283.2" width="2.7" height="3.3" stroke="#111" stroke-width="0.6" fill="none"/>
<rect x="779.7" y="283.2" width="2.7" height="3.3" stroke="#111" stroke-width="0.6" fill="none"/>
<rect x="783.3" y="283.2" width="2.7" height="3.3" stroke="#111" stroke-width="0.6" fill="none"/>
<rect x="756.5" y="292" width="7" height="10" stroke="#111" stroke-width="1.2" fill="none"/>
<rect x="757.3" y="293" width="5.4" height="8" fill="#333"/>
<rect x="778.5" y="299" width="8.3" height="3" fill="#333"/>
<rect x="779.5" y="299.7" width="6.3" height="1.6" fill="#aaa"/>
<rect x="763.6" y="309.7" width="9.1" height="20.6" stroke="#111" stroke-width="1.1" fill="none"/>
<line x1="763.6" y1="320" x2="772.7" y2="320" stroke="#444" stroke-width="0.7" fill="none"/>
<rect x="773.5" y="312" width="13.3" height="5" fill="#444"/>
<rect x="774.5" y="313" width="11.3" height="3" fill="#999"/>
<rect x="777.7" y="330" width="9.1" height="6" fill="#444"/>
<rect x="778.7" y="331" width="7.1" height="4" fill="#999"/>
<line x1="772.7" y1="309.7" x2="787.4" y2="309.7" stroke="#444" stroke-width="0.7" fill="none"/>
<line x1="772.7" y1="323" x2="787.4" y2="323" stroke="#444" stroke-width="0.7" fill="none"/>
<rect x="763.8" y="342.7" width="2.5" height="5" fill="#222"/>
<rect x="767.1" y="342.7" width="2.5" height="5" fill="#222"/>
<rect x="770.4" y="342.7" width="2.5" height="5" fill="#222"/>
<rect x="773.7" y="342.7" width="2.5" height="5" fill="#222"/>
<rect x="777" y="342.7" width="2.5" height="5" fill="#222"/>
<rect x="780.3" y="342.7" width="2.5" height="5" fill="#222"/>
<rect x="783.6" y="342.7" width="2.5" height="5" fill="#222"/>
<line x1="763.6" y1="342.2" x2="787.4" y2="342.2" stroke="#444" stroke-width="0.7" fill="none"/>
<line x1="763.6" y1="348.2" x2="787.4" y2="348.2" stroke="#444" stroke-width="0.7" fill="none"/>
<polygon points="757,347.7 763.6,339.4 763.6,347.7" stroke="none" fill="#333"/>
<path d="M758.5,320 C758.1,321 756.2,324.2 756,326 C755.8,327.8 757.7,329.3 757.5,331 C757.3,332.7 755.1,334.5 755,336 C754.9,337.5 756.7,339.3 757,340" stroke="#444" stroke-width="0.7" fill="none"/>
<polyline points="760,316 761,336 754,346" stroke="#444" stroke-width="0.7" fill="none"/>
<line x1="752.5" y1="349.8" x2="787.4" y2="349.8" stroke="#444" stroke-width="0.7" fill="none"/>
<line x1="753.7" y1="375.9" x2="787.4" y2="375.9" stroke="#444" stroke-width="0.7" fill="none"/>
<polyline points="753.7,380 760,380 760,392 787.4,392" stroke="#777" stroke-width="0.6" fill="none"/>
<line x1="753.7" y1="410.3" x2="787.4" y2="410.3" stroke="#444" stroke-width="0.7" fill="none"/>
<rect x="768.6" y="393.6" width="11.5" height="16.7" stroke="#444" stroke-width="0.7" fill="none"/>
<clipPath id="c798"><polygon points="768.6,393.6 780.1,393.6 780.1,410.3 768.6,410.3"/></clipPath><g clip-path="url(#c798)" stroke="#555" stroke-width="0.5"><line x1="763.2" y1="390.8" x2="785.5" y2="390.8"/><line x1="763.2" y1="392" x2="785.5" y2="392"/><line x1="763.2" y1="393.2" x2="785.5" y2="393.2"/><line x1="763.2" y1="394.4" x2="785.5" y2="394.4"/><line x1="763.2" y1="395.6" x2="785.5" y2="395.6"/><line x1="763.2" y1="396.8" x2="785.5" y2="396.8"/><line x1="763.2" y1="398" x2="785.5" y2="398"/><line x1="763.2" y1="399.2" x2="785.5" y2="399.2"/><line x1="763.2" y1="400.4" x2="785.5" y2="400.4"/><line x1="763.2" y1="401.6" x2="785.5" y2="401.6"/><line x1="763.2" y1="402.8" x2="785.5" y2="402.8"/><line x1="763.2" y1="404" x2="785.5" y2="404"/><line x1="763.2" y1="405.2" x2="785.5" y2="405.2"/><line x1="763.2" y1="406.4" x2="785.5" y2="406.4"/><line x1="763.2" y1="407.6" x2="785.5" y2="407.6"/><line x1="763.2" y1="408.8" x2="785.5" y2="408.8"/><line x1="763.2" y1="410" x2="785.5" y2="410"/><line x1="763.2" y1="411.2" x2="785.5" y2="411.2"/><line x1="763.2" y1="412.4" x2="785.5" y2="412.4"/></g>
<line x1="770" y1="395" x2="779" y2="404" stroke="#444" stroke-width="0.7" fill="none"/>
<rect x="752" y="313" width="4" height="4.5" fill="#000"/>
<polyline points="745.7,341 752.5,341" stroke="#444" stroke-width="0.7" fill="none"/>
<polygon points="786.4,409.8 811.5,424 792.7,455.2 760.8,433.3" stroke="#444" stroke-width="0.7" fill="none"/>
<clipPath id="c803"><polygon points="786.4,409.8 811.5,424 792.7,455.2 760.8,433.3"/></clipPath><g clip-path="url(#c803)" stroke="#555" stroke-width="0.5"><line x1="737.9" y1="443.6" x2="775" y2="384.2"/><line x1="739.2" y1="444.4" x2="776.3" y2="385"/><line x1="740.4" y1="445.2" x2="777.6" y2="385.8"/><line x1="741.7" y1="446" x2="778.8" y2="386.6"/><line x1="743" y1="446.8" x2="780.1" y2="387.4"/><line x1="744.2" y1="447.6" x2="781.4" y2="388.2"/><line x1="745.5" y1="448.4" x2="782.6" y2="389"/><line x1="746.8" y1="449.2" x2="783.9" y2="389.8"/><line x1="748.1" y1="450" x2="785.2" y2="390.6"/><line x1="749.3" y1="450.8" x2="786.5" y2="391.4"/><line x1="750.6" y1="451.6" x2="787.7" y2="392.2"/><line x1="751.9" y1="452.4" x2="789" y2="393"/><line x1="753.1" y1="453.2" x2="790.3" y2="393.8"/><line x1="754.4" y1="454" x2="791.5" y2="394.6"/><line x1="755.7" y1="454.8" x2="792.8" y2="395.4"/><line x1="757" y1="455.6" x2="794.1" y2="396.2"/><line x1="758.2" y1="456.4" x2="795.4" y2="397"/><line x1="759.5" y1="457.2" x2="796.6" y2="397.7"/><line x1="760.8" y1="458" x2="797.9" y2="398.5"/><line x1="762.1" y1="458.7" x2="799.2" y2="399.3"/><line x1="763.3" y1="459.5" x2="800.4" y2="400.1"/><line x1="764.6" y1="460.3" x2="801.7" y2="400.9"/><line x1="765.9" y1="461.1" x2="803" y2="401.7"/><line x1="767.1" y1="461.9" x2="804.3" y2="402.5"/><line x1="768.4" y1="462.7" x2="805.5" y2="403.3"/><line x1="769.7" y1="463.5" x2="806.8" y2="404.1"/><line x1="771" y1="464.3" x2="808.1" y2="404.9"/><line x1="772.2" y1="465.1" x2="809.4" y2="405.7"/><line x1="773.5" y1="465.9" x2="810.6" y2="406.5"/><line x1="774.8" y1="466.7" x2="811.9" y2="407.3"/><line x1="776" y1="467.5" x2="813.2" y2="408.1"/><line x1="777.3" y1="468.3" x2="814.4" y2="408.9"/><line x1="778.6" y1="469.1" x2="815.7" y2="409.7"/><line x1="779.9" y1="469.9" x2="817" y2="410.5"/><line x1="781.1" y1="470.7" x2="818.3" y2="411.3"/><line x1="782.4" y1="471.5" x2="819.5" y2="412.1"/><line x1="783.7" y1="472.3" x2="820.8" y2="412.8"/><line x1="784.9" y1="473.1" x2="822.1" y2="413.6"/><line x1="786.2" y1="473.8" x2="823.3" y2="414.4"/><line x1="787.5" y1="474.6" x2="824.6" y2="415.2"/><line x1="788.8" y1="475.4" x2="825.9" y2="416"/><line x1="790" y1="476.2" x2="827.2" y2="416.8"/><line x1="791.3" y1="477" x2="828.4" y2="417.6"/><line x1="792.6" y1="477.8" x2="829.7" y2="418.4"/><line x1="793.9" y1="478.6" x2="831" y2="419.2"/><line x1="795.1" y1="479.4" x2="832.2" y2="420"/><line x1="796.4" y1="480.2" x2="833.5" y2="420.8"/></g>
<line x1="778" y1="417.6" x2="805.3" y2="434.3" stroke="#111" stroke-width="1.2" fill="none"/>
<line x1="769.5" y1="425.3" x2="799.1" y2="444.6" stroke="#111" stroke-width="1.2" fill="none"/>
<rect x="0" y="0" width="0" height="0" stroke="#444" stroke-width="0.7" fill="none"/>
<circle cx="687" cy="348.7" r="2.5" fill="#000"/>
<circle cx="587.7" cy="348.7" r="2.5" fill="#000"/>
<rect x="670.2" y="374.3" width="2.6" height="2.6" fill="#000"/>
<rect x="708.1" y="374.3" width="2.6" height="2.6" fill="#000"/>
<rect x="738" y="374.3" width="2.6" height="2.6" fill="#000"/>
<rect x="670.2" y="443.9" width="2.6" height="2.6" fill="#000"/>
<rect x="708.1" y="443.9" width="2.6" height="2.6" fill="#000"/>
<rect x="738" y="443.9" width="2.6" height="2.6" fill="#000"/>
<rect x="670.2" y="408.7" width="2.6" height="2.6" fill="#000"/>
<rect x="708.1" y="408.7" width="2.6" height="2.6" fill="#000"/>
<rect x="738" y="408.7" width="2.6" height="2.6" fill="#000"/>
<rect x="619.3" y="313.7" width="2.6" height="2.6" fill="#000"/>
<rect x="652.7" y="313.7" width="2.6" height="2.6" fill="#000"/>
<rect x="691.6" y="313.7" width="2.6" height="2.6" fill="#000"/>
<rect x="619.3" y="333.2" width="2.6" height="2.6" fill="#000"/>
<rect x="652.7" y="333.2" width="2.6" height="2.6" fill="#000"/>
<rect x="691.6" y="333.2" width="2.6" height="2.6" fill="#000"/>
<rect x="651" y="297.1" width="2.6" height="2.6" fill="#000"/>
<rect x="672.7" y="297.1" width="2.6" height="2.6" fill="#000"/>
<rect x="694.7" y="313.7" width="2.6" height="2.6" fill="#000"/>
<rect x="619.8" y="247.2" width="2.6" height="2.6" fill="#000"/>
<rect x="619.8" y="267.9" width="2.6" height="2.6" fill="#000"/>
<rect x="637.2" y="280.7" width="2.6" height="2.6" fill="#000"/>
<rect x="675.9" y="250.9" width="2.6" height="2.6" fill="#000"/>
<rect x="685.9" y="280.9" width="2.6" height="2.6" fill="#000"/>
<rect x="719.5" y="280.9" width="2.6" height="2.6" fill="#000"/>
<rect x="752" y="227.3" width="2.6" height="2.6" fill="#000"/>
<rect x="719.5" y="227.3" width="2.6" height="2.6" fill="#000"/>
<rect x="752" y="208.7" width="2.6" height="2.6" fill="#000"/>
<rect x="719.5" y="263.9" width="2.6" height="2.6" fill="#000"/>
<rect x="670.4" y="175.9" width="2.6" height="2.6" fill="#000"/>
<rect x="636.7" y="175.9" width="2.6" height="2.6" fill="#000"/>
<rect x="603.7" y="175.9" width="2.6" height="2.6" fill="#000"/>
<rect x="703.7" y="175.9" width="2.6" height="2.6" fill="#000"/>
<rect x="752" y="175.9" width="2.6" height="2.6" fill="#000"/>
<rect x="651.2" y="343.2" width="2.6" height="2.6" fill="#000"/>
<rect x="620.3" y="343.2" width="2.6" height="2.6" fill="#000"/>
<rect x="719.3" y="347.7" width="2.6" height="2.6" fill="#000"/>
<rect x="737.1" y="313.7" width="2.6" height="2.6" fill="#000"/>
<rect x="737.1" y="343.3" width="2.6" height="2.6" fill="#000"/>
<rect x="618.7" y="281.7" width="2.6" height="2.6" fill="#000"/>
<text transform="translate(626,205.5) scale(0.7,1)" font-size="6.8" text-anchor="middle" fill="#1a1a1a" font-family="Liberation Mono">32</text>
<text transform="translate(627,211.5) scale(0.7,1)" font-size="6.8" text-anchor="middle" fill="#1a1a1a" font-family="Liberation Mono">95.4m²</text>
<text transform="translate(627,189) scale(0.7,1)" font-size="4.7" text-anchor="middle" fill="#1a1a1a" font-family="Liberation Mono">餐饮</text>
<text transform="translate(625,194) scale(0.7,1)" font-size="5" text-anchor="middle" fill="#1a1a1a" font-family="Liberation Mono">161m²</text>
<text transform="translate(656,253) scale(0.7,1)" font-size="6.8" text-anchor="middle" fill="#1a1a1a" font-family="Liberation Mono">34</text>
<text transform="translate(656,260) scale(0.7,1)" font-size="6.8" text-anchor="middle" fill="#1a1a1a" font-family="Liberation Mono">43.9m²</text>
<text transform="translate(650,273) scale(0.7,1)" font-size="6.8" text-anchor="middle" fill="#1a1a1a" font-family="Liberation Mono">35</text>
<text transform="translate(650,279.5) scale(0.7,1)" font-size="6.5" text-anchor="middle" fill="#1a1a1a" font-family="Liberation Mono">25.6m²</text>
<text transform="translate(670,273) scale(0.7,1)" font-size="6.8" text-anchor="middle" fill="#1a1a1a" font-family="Liberation Mono">36</text>
<text transform="translate(670,279.5) scale(0.7,1)" font-size="6.5" text-anchor="middle" fill="#1a1a1a" font-family="Liberation Mono">23.7m²</text>
<text transform="translate(608,260) scale(0.7,1)" font-size="6.8" text-anchor="middle" fill="#1a1a1a" font-family="Liberation Mono">29</text>
<text transform="translate(612,266) scale(0.7,1)" font-size="6.5" text-anchor="middle" fill="#1a1a1a" font-family="Liberation Mono">31.8m²</text>
<text transform="translate(637,305) scale(0.7,1)" font-size="6.5" text-anchor="middle" fill="#1a1a1a" font-family="Liberation Mono">37</text>
<text transform="translate(637,311) scale(0.7,1)" font-size="5.3" text-anchor="middle" fill="#1a1a1a" font-family="Liberation Mono">36.9m²</text>
<text transform="translate(663,305) scale(0.7,1)" font-size="4.7" text-anchor="middle" fill="#1a1a1a" font-family="Liberation Mono">餐饮</text>
<text transform="translate(663,310) scale(0.7,1)" font-size="4.7" text-anchor="middle" fill="#1a1a1a" font-family="Liberation Mono">23m²</text>
<text transform="translate(685,305) scale(0.7,1)" font-size="4.7" text-anchor="middle" fill="#1a1a1a" font-family="Liberation Mono">餐饮</text>
<text transform="translate(685,310) scale(0.7,1)" font-size="4.7" text-anchor="middle" fill="#1a1a1a" font-family="Liberation Mono">34.9m²</text>
<text transform="translate(717,298) scale(0.7,1)" font-size="4.7" text-anchor="middle" fill="#1a1a1a" font-family="Liberation Mono">餐饮</text>
<text transform="translate(717,304) scale(0.7,1)" font-size="4.7" text-anchor="middle" fill="#1a1a1a" font-family="Liberation Mono">63m²</text>
<text transform="translate(631,324) scale(0.7,1)" font-size="6.8" text-anchor="middle" fill="#1a1a1a" font-family="Liberation Mono">9</text>
<text transform="translate(637,330) scale(0.7,1)" font-size="6.8" text-anchor="middle" fill="#1a1a1a" font-family="Liberation Mono">40.2m²</text>
<text transform="translate(673,324) scale(0.7,1)" font-size="6.8" text-anchor="middle" fill="#1a1a1a" font-family="Liberation Mono">10</text>
<text transform="translate(675,330) scale(0.7,1)" font-size="6.8" text-anchor="middle" fill="#1a1a1a" font-family="Liberation Mono">66.5m²</text>
<text transform="translate(717,328) scale(0.7,1)" font-size="4.7" text-anchor="middle" fill="#1a1a1a" font-family="Liberation Mono">餐饮</text>
<text transform="translate(719,338) scale(0.7,1)" font-size="6.8" text-anchor="middle" fill="#1a1a1a" font-family="Liberation Mono">81.3m²</text>
<text transform="translate(638,354) scale(0.7,1)" font-size="6.8" text-anchor="middle" fill="#1a1a1a" font-family="Liberation Mono">12B</text>
<text transform="translate(642,361) scale(0.7,1)" font-size="6.8" text-anchor="middle" fill="#1a1a1a" font-family="Liberation Mono">33 m²</text>
<text transform="translate(664,354) scale(0.7,1)" font-size="6.5" text-anchor="middle" fill="#1a1a1a" font-family="Liberation Mono">12A</text>
<text transform="translate(664,361) scale(0.7,1)" font-size="6.5" text-anchor="middle" fill="#1a1a1a" font-family="Liberation Mono">25.6m²</text>
<text transform="translate(721,356) scale(0.7,1)" font-size="6.8" text-anchor="middle" fill="#1a1a1a" font-family="Liberation Mono">13</text>
<text transform="translate(722,363) scale(0.7,1)" font-size="6.8" text-anchor="middle" fill="#1a1a1a" font-family="Liberation Mono">47.2m²</text>
<text transform="translate(690,406) scale(0.7,1)" font-size="6.8" text-anchor="middle" fill="#1a1a1a" font-family="Liberation Mono">14</text>
<text transform="translate(690,413) scale(0.7,1)" font-size="6.8" text-anchor="middle" fill="#1a1a1a" font-family="Liberation Mono">108.2m²</text>
<text transform="translate(724,406) scale(0.7,1)" font-size="6.8" text-anchor="middle" fill="#1a1a1a" font-family="Liberation Mono">16</text>
<text transform="translate(726,413) scale(0.7,1)" font-size="6.8" text-anchor="middle" fill="#1a1a1a" font-family="Liberation Mono">180m²</text>
<polyline points="552.8,348 574.7,348 588.4,361.2 588.4,461" stroke="#444" stroke-width="0.7" fill="none"/>
<polyline points="552.8,348 552.8,461 637,461" stroke="#000" stroke-width="1.6" fill="none"/>
<line x1="552.8" y1="376.1" x2="588.4" y2="376.1" stroke="#444" stroke-width="0.7" fill="none"/>
<line x1="552.8" y1="399.3" x2="588.4" y2="399.3" stroke="#444" stroke-width="0.7" fill="none"/>
<line x1="552.8" y1="422.3" x2="588.4" y2="422.3" stroke="#444" stroke-width="0.7" fill="none"/>
<line x1="552.8" y1="348" x2="558" y2="348" stroke="#000" stroke-width="1.6" fill="none"/>
<rect x="599.7" y="375.6" width="20.6" height="35.4" stroke="#444" stroke-width="0.7" fill="none"/>
<polyline points="620.3,375.6 629.6,375.6 655.3,397.3 655.3,411 620.3,411" stroke="#444" stroke-width="0.7" fill="none"/>
<line x1="620.3" y1="375.6" x2="620.3" y2="411" stroke="#111" stroke-width="1.2" fill="none"/>
<polyline points="552.8,422.3 655.3,422.3 655.3,444.7 637,461" stroke="#444" stroke-width="0.7" fill="none"/>
<line x1="620.3" y1="422.3" x2="620.3" y2="461" stroke="#111" stroke-width="1.2" fill="none"/>
<line x1="588.4" y1="422.3" x2="588.4" y2="461" stroke="#444" stroke-width="0.7" fill="none"/>
<rect x="551.5" y="346.7" width="2.6" height="2.6" fill="#000"/>
<rect x="551.5" y="374.8" width="2.6" height="2.6" fill="#000"/>
<rect x="551.5" y="408" width="2.6" height="2.6" fill="#000"/>
<rect x="551.5" y="443.4" width="2.6" height="2.6" fill="#000"/>
<rect x="587.1" y="374.8" width="2.6" height="2.6" fill="#000"/>
<rect x="587.1" y="408" width="2.6" height="2.6" fill="#000"/>
<rect x="587.1" y="443.4" width="2.6" height="2.6" fill="#000"/>
<rect x="619" y="409.7" width="2.6" height="2.6" fill="#000"/>
<rect x="619" y="443.4" width="2.6" height="2.6" fill="#000"/>
<rect x="619" y="374.8" width="2.6" height="2.6" fill="#000"/>
<rect x="654" y="409.7" width="2.6" height="2.6" fill="#000"/>
<rect x="654" y="443.4" width="2.6" height="2.6" fill="#000"/>
<rect x="652.7" y="375.3" width="2.6" height="2.6" fill="#000"/>
<text transform="translate(568,363) scale(0.7,1)" font-size="6.8" text-anchor="middle" fill="#1a1a1a" font-family="Liberation Mono">22</text>
<text transform="translate(570,370) scale(0.7,1)" font-size="6.8" text-anchor="middle" fill="#1a1a1a" font-family="Liberation Mono">56.5m²</text>
<text transform="translate(569,386) scale(0.7,1)" font-size="6.8" text-anchor="middle" fill="#1a1a1a" font-family="Liberation Mono">21</text>
<text transform="translate(570,393) scale(0.7,1)" font-size="6.8" text-anchor="middle" fill="#1a1a1a" font-family="Liberation Mono">51.5m²</text>
<text transform="translate(568,409) scale(0.7,1)" font-size="6.8" text-anchor="middle" fill="#1a1a1a" font-family="Liberation Mono">20</text>
<text transform="translate(570,416) scale(0.7,1)" font-size="6.8" text-anchor="middle" fill="#1a1a1a" font-family="Liberation Mono">50.1m²</text>
<text transform="translate(569,439) scale(0.7,1)" font-size="6.8" text-anchor="middle" fill="#1a1a1a" font-family="Liberation Mono">19</text>
<text transform="translate(570,446) scale(0.7,1)" font-size="6.8" text-anchor="middle" fill="#1a1a1a" font-family="Liberation Mono">88.3m²</text>
<text transform="translate(603,439) scale(0.7,1)" font-size="6.8" text-anchor="middle" fill="#1a1a1a" font-family="Liberation Mono">18</text>
<text transform="translate(605,446) scale(0.7,1)" font-size="6.8" text-anchor="middle" fill="#1a1a1a" font-family="Liberation Mono">78.7m²</text>
<text transform="translate(635,439) scale(0.7,1)" font-size="6.8" text-anchor="middle" fill="#1a1a1a" font-family="Liberation Mono">17</text>
<text transform="translate(636,446) scale(0.7,1)" font-size="6.8" text-anchor="middle" fill="#1a1a1a" font-family="Liberation Mono">55.4m²</text>
<text transform="translate(609,391) scale(0.7,1)" font-size="6.8" text-anchor="middle" fill="#1a1a1a" font-family="Liberation Mono">23</text>
<text transform="translate(612,398) scale(0.7,1)" font-size="6.8" text-anchor="middle" fill="#1a1a1a" font-family="Liberation Mono">46.7m²</text>
<text transform="translate(637,400) scale(0.7,1)" font-size="6.8" text-anchor="middle" fill="#1a1a1a" font-family="Liberation Mono">24</text>
<text transform="translate(638,407) scale(0.7,1)" font-size="6.8" text-anchor="middle" fill="#1a1a1a" font-family="Liberation Mono">63.2m²</text>
<rect x="581" y="404" width="7" height="7" stroke="#777" stroke-width="0.6" fill="none"/>
<rect x="486.6" y="348.3" width="25.7" height="12.8" stroke="#444" stroke-width="0.7" fill="none"/>
<line x1="486.6" y1="348.3" x2="493" y2="348.3" stroke="#000" stroke-width="1.6" fill="none"/>
<rect x="521.3" y="348.3" width="15.1" height="24.2" stroke="#444" stroke-width="0.7" fill="none"/>
<line x1="521.3" y1="348.3" x2="521.3" y2="377" stroke="#000" stroke-width="1.6" fill="none"/>
<line x1="476.8" y1="377" x2="521.3" y2="377" stroke="#000" stroke-width="1.6" fill="none"/>
<rect x="476.8" y="377" width="9.8" height="33.2" stroke="#444" stroke-width="0.7" fill="none"/>
<rect x="486.6" y="361.1" width="34.7" height="49.1" stroke="#444" stroke-width="0.7" fill="none"/>
<rect x="521.3" y="377" width="10.6" height="33.2" stroke="#444" stroke-width="0.7" fill="none"/>
<rect x="494.9" y="361.1" width="17.4" height="52.9" fill="#c4c4c4"/>
<rect x="494.9" y="361.1" width="17.4" height="52.9" stroke="#777" stroke-width="0.6" fill="none"/>
<line x1="494.9" y1="361.1" x2="512.3" y2="361.1" stroke="#555" stroke-width="0.8"/>
<line x1="497" y1="363.1" x2="508" y2="372.1" stroke="#333" stroke-width="0.6"/>
<line x1="494.9" y1="374.3" x2="512.3" y2="374.3" stroke="#555" stroke-width="0.8"/>
<line x1="497" y1="376.3" x2="508" y2="385.3" stroke="#333" stroke-width="0.6"/>
<line x1="494.9" y1="387.5" x2="512.3" y2="387.5" stroke="#555" stroke-width="0.8"/>
<line x1="497" y1="389.5" x2="508" y2="398.5" stroke="#333" stroke-width="0.6"/>
<line x1="494.9" y1="400.7" x2="512.3" y2="400.7" stroke="#555" stroke-width="0.8"/>
<line x1="497" y1="402.7" x2="508" y2="411.7" stroke="#333" stroke-width="0.6"/>
<line x1="476.8" y1="389" x2="486.6" y2="389" stroke="#777" stroke-width="0.6" fill="none"/>
<line x1="521.3" y1="389" x2="531.9" y2="389" stroke="#777" stroke-width="0.6" fill="none"/>
<line x1="476.8" y1="396" x2="486.6" y2="396" stroke="#777" stroke-width="0.6" fill="none"/>
<line x1="521.3" y1="396" x2="531.9" y2="396" stroke="#777" stroke-width="0.6" fill="none"/>
<line x1="476.8" y1="403" x2="486.6" y2="403" stroke="#777" stroke-width="0.6" fill="none"/>
<line x1="521.3" y1="403" x2="531.9" y2="403" stroke="#777" stroke-width="0.6" fill="none"/>
<polyline points="487.4,410.2 487.4,444.2 521.3,444.2" stroke="#000" stroke-width="1.6" fill="none"/>
<polyline points="521.3,444.2 531.9,444.2 531.9,410.2" stroke="#444" stroke-width="0.7" fill="none"/>
<rect x="519.8" y="431.3" width="12.1" height="12.9" stroke="#444" stroke-width="0.7" fill="none"/>
<rect x="490.4" y="444.2" width="31.7" height="12.8" stroke="#777" stroke-width="0.6" fill="none"/>
<line x1="488" y1="461" x2="522" y2="461" stroke="#777" stroke-width="0.6" fill="none"/>
<polyline points="531.9,405 536,405 536,416 541,416 541,420 531.9,420" stroke="#777" stroke-width="0.6" fill="none"/>
<rect x="486" y="346.9" width="2.8" height="2.8" fill="#000"/>
<rect x="519.9" y="346.9" width="2.8" height="2.8" fill="#000"/>
<rect x="475.4" y="375.6" width="2.8" height="2.8" fill="#000"/>
<rect x="486" y="375.6" width="2.8" height="2.8" fill="#000"/>
<rect x="519.9" y="375.6" width="2.8" height="2.8" fill="#000"/>
<rect x="486" y="408.8" width="2.8" height="2.8" fill="#000"/>
<rect x="519.9" y="408.8" width="2.8" height="2.8" fill="#000"/>
<rect x="486" y="442.8" width="2.8" height="2.8" fill="#000"/>
<rect x="519.9" y="442.8" width="2.8" height="2.8" fill="#000"/>
<text transform="translate(485,435) scale(0.7,1)" font-size="6.5" text-anchor="middle" fill="#1a1a1a" font-family="Liberation Mono">54</text>
<text transform="translate(481,442) scale(0.7,1)" font-size="6.5" text-anchor="middle" fill="#1a1a1a" font-family="Liberation Mono">55m²</text>
<circle cx="587.7" cy="476.6" r="2.6" fill="#000"/>
<circle cx="620.3" cy="476.6" r="2.6" fill="#000"/>
<circle cx="654" cy="476.6" r="2.6" fill="#000"/>
<circle cx="687" cy="476.6" r="2.6" fill="#000"/>
<circle cx="720.6" cy="476.6" r="2.6" fill="#000"/>
<polyline points="586,509.5 586,492.6 637,492.6 655.3,509.5" stroke="#000" stroke-width="1.6" fill="none"/>
<line x1="620.3" y1="492.6" x2="620.3" y2="509.5" stroke="#000" stroke-width="1.6" fill="none"/>
<line x1="586" y1="509.5" x2="655.3" y2="509.5" stroke="#000" stroke-width="1.6" fill="none"/>
<polyline points="655.3,509.5 655.3,517.4 594.6,577.2 586,577.2 586,509.5" stroke="#444" stroke-width="0.7" fill="none"/>
<rect x="584.7" y="508.2" width="2.6" height="2.6" fill="#000"/>
<rect x="619" y="508.2" width="2.6" height="2.6" fill="#000"/>
<rect x="654" y="508.2" width="2.6" height="2.6" fill="#000"/>
<rect x="584.7" y="541.7" width="2.6" height="2.6" fill="#000"/>
<rect x="619" y="541.7" width="2.6" height="2.6" fill="#000"/>
<rect x="584.7" y="575.9" width="2.6" height="2.6" fill="#000"/>
<text transform="translate(604,498.5) scale(0.7,1)" font-size="6.5" text-anchor="middle" fill="#1a1a1a" font-family="Liberation Mono">51</text>
<text transform="translate(607,505) scale(0.7,1)" font-size="6.5" text-anchor="middle" fill="#1a1a1a" font-family="Liberation Mono">38.6m²</text>
<text transform="translate(635,498.5) scale(0.7,1)" font-size="6.5" text-anchor="middle" fill="#1a1a1a" font-family="Liberation Mono">52</text>
<text transform="translate(636,505) scale(0.7,1)" font-size="6.5" text-anchor="middle" fill="#1a1a1a" font-family="Liberation Mono">29.1m²</text>
<text transform="translate(615,520) scale(0.7,1)" font-size="6.5" text-anchor="middle" fill="#1a1a1a" font-family="Liberation Mono">50</text>
<text transform="translate(618,527) scale(0.7,1)" font-size="6.5" text-anchor="middle" fill="#1a1a1a" font-family="Liberation Mono">192.5m²</text>
<polyline points="585.9,609.6 619.5,576 654.5,543.5 686.9,509.9 719.3,509.9" stroke="#000" stroke-width="1.6" fill="none"/>
<polyline points="585.9,609.6 585.9,643.3 607,659.5" stroke="#000" stroke-width="1.6" fill="none"/>
<line x1="719.3" y1="509.9" x2="719.3" y2="515" stroke="#444" stroke-width="0.7" fill="none"/>
<polyline points="654.5,543.5 703,580 709,575" stroke="#444" stroke-width="0.7" fill="none"/>
<polyline points="636,559 686,600" stroke="#444" stroke-width="0.7" fill="none"/>
<polyline points="604,591 646,633" stroke="#444" stroke-width="0.7" fill="none"/>
<polyline points="670,527 702,555" stroke="#444" stroke-width="0.7" fill="none"/>
<rect x="716" y="512" width="9" height="6" stroke="#777" stroke-width="0.6" fill="none"/>
<rect x="618.2" y="574.7" width="2.6" height="2.6" fill="#000"/>
<rect x="653.2" y="542.2" width="2.6" height="2.6" fill="#000"/>
<rect x="653.2" y="574.7" width="2.6" height="2.6" fill="#000"/>
<rect x="685.7" y="574.7" width="2.6" height="2.6" fill="#000"/>
<rect x="618.2" y="608.3" width="2.6" height="2.6" fill="#000"/>
<rect x="653.2" y="608.3" width="2.6" height="2.6" fill="#000"/>
<rect x="685.6" y="508.6" width="2.6" height="2.6" fill="#000"/>
<rect x="652.7" y="641.7" width="2.6" height="2.6" fill="#000"/>
<rect x="619.7" y="641.7" width="2.6" height="2.6" fill="#000"/>
<rect x="584.6" y="608.3" width="2.6" height="2.6" fill="#000"/>
<rect x="584.6" y="642" width="2.6" height="2.6" fill="#000"/>
<rect x="711.7" y="542.2" width="2.6" height="2.6" fill="#000"/>
<text transform="translate(697,529) scale(0.7,1)" font-size="6.5" text-anchor="middle" fill="#1a1a1a" font-family="Liberation Mono">41</text>
<text transform="translate(698,536) scale(0.7,1)" font-size="6.5" text-anchor="middle" fill="#1a1a1a" font-family="Liberation Mono">90.4m²</text>
<text transform="translate(665,544) scale(0.7,1)" font-size="6.5" text-anchor="middle" fill="#1a1a1a" font-family="Liberation Mono">42B</text>
<text transform="translate(675,550) scale(0.7,1)" font-size="6.5" text-anchor="middle" fill="#1a1a1a" font-family="Liberation Mono">76.9m²</text>
<text transform="translate(662,568) scale(0.7,1)" font-size="6.5" text-anchor="middle" fill="#1a1a1a" font-family="Liberation Mono">42B</text>
<text transform="translate(668,575) scale(0.7,1)" font-size="6.5" text-anchor="middle" fill="#1a1a1a" font-family="Liberation Mono">98m²</text>
<text transform="translate(636,590) scale(0.7,1)" font-size="6.5" text-anchor="middle" fill="#1a1a1a" font-family="Liberation Mono">43</text>
<text transform="translate(640,597) scale(0.7,1)" font-size="6.5" text-anchor="middle" fill="#1a1a1a" font-family="Liberation Mono">178m²</text>
<text transform="translate(607,618) scale(0.7,1)" font-size="6.5" text-anchor="middle" fill="#1a1a1a" font-family="Liberation Mono">44</text>
<text transform="translate(609,624) scale(0.7,1)" font-size="6.5" text-anchor="middle" fill="#1a1a1a" font-family="Liberation Mono">324m²</text>
<text transform="translate(625,506) scale(0.7,1)" font-size="6.2" text-anchor="middle" fill="#1a1a1a" font-family="Liberation Mono"></text>
<polyline points="487.9,492.5 453.6,577.2 486.8,659.8" stroke="#111" stroke-width="1.2" fill="none"/>
<path d="M487.9,492.5 C491.6,493.4 501.7,495 510.3,497.9 C518.9,500.8 534.5,507.7 539.4,509.7" stroke="#111" stroke-width="1.2" fill="none"/>
<polyline points="538.9,510 541.3,513.2 543.6,516.4 545.8,519.8 547.8,523.2 549.8,526.7 551.6,530.2 553.3,533.9 554.8,537.5 556.2,541.3 557.5,545.1 558.6,548.9 559.6,552.7 560.5,556.6 561.2,560.6 561.8,564.5 562.2,568.5 562.5,572.5 562.7,576.4 562.7,580.4 562.6,584.4 562.3,588.4 561.9,592.4 561.3,596.3 560.6,600.2 559.7,604.1 558.8,608 557.6,611.8 556.4,615.6 555,619.4 553.5,623 551.8,626.7 550,630.2 548.1,633.7 546.1,637.2 543.9,640.5 541.6,643.8 539.2,647 536.7,650.1 534.1,653.1 531.4,656" stroke="#000" stroke-width="1.6" fill="none"/>
<polyline points="483.9,504.3 488.2,506.1 492.4,508.1 496.5,510.3 500.4,512.8 504.2,515.5 507.9,518.4 511.3,521.6 514.5,524.9 517.6,528.4 520.4,532.2 522.9,536 525.3,540.1 527.4,544.2 529.2,548.5 530.8,552.9 532.1,557.4 533.1,561.9 533.9,566.5 534.4,571.1 534.6,575.8 534.5,580.4 534.2,585.1 533.5,589.7 532.6,594.3 531.4,598.8 529.9,603.2 528.2,607.5 526.2,611.7 524,615.8 521.5,619.8 518.8,623.6 515.9,627.2 512.7,630.6 509.4,633.8 505.8,636.9 502.1,639.7 498.2,642.3 494.2,644.6 490,646.7 485.8,648.5" stroke="#111" stroke-width="1.2" fill="none"/>
<polyline points="490.2,503.3 490.9,503.6 491.6,503.9 492.3,504.2 492.9,504.5 493.6,504.8 494.2,505.2 494.9,505.5 495.5,505.9 496.2,506.2 496.8,506.6 497.5,506.9 498.1,507.3 498.7,507.7 499.4,508.1 500,508.4 500.6,508.8 501.3,509.2 501.9,509.6 502.5,510 503.1,510.5 503.7,510.9 504.3,511.3 504.9,511.7 505.5,512.2 506.1,512.6 506.7,513.1 507.3,513.5 507.8,514 508.4,514.4 509,514.9 509.5,515.4 510.1,515.9 510.7,516.3 511.2,516.8 511.8,517.3 512.3,517.8 512.8,518.3 513.4,518.8 513.9,519.4 514.4,519.9" stroke="#444" stroke-width="0.7" fill="none"/>
<polyline points="468.3,541.9 470.5,542.7 472.7,543.6 474.8,544.6 476.8,545.7 478.8,547 480.6,548.4 482.4,550 484.1,551.6 485.7,553.3 487.1,555.2 488.4,557.1 489.6,559.1 490.7,561.2 491.7,563.3 492.5,565.5 493.1,567.7 493.6,570 494,572.3 494.2,574.7 494.3,577 494.2,579.3 494,581.7 493.6,584 493.1,586.3 492.5,588.5 491.7,590.7 490.7,592.8 489.6,594.9 488.4,596.9 487.1,598.8 485.7,600.7 484.1,602.4 482.4,604 480.6,605.6 478.8,607 476.8,608.3 474.8,609.4 472.7,610.4 470.5,611.3 468.3,612.1" stroke="#444" stroke-width="0.7" fill="none"/>
<polyline points="468.9,540.2 471.2,541 473.4,541.9 475.6,543 477.8,544.2 479.8,545.6 481.8,547 483.6,548.6 485.4,550.4 487,552.2 488.5,554.1 489.9,556.1 491.2,558.2 492.3,560.4 493.3,562.6 494.2,564.9 494.9,567.3 495.4,569.7 495.8,572.1 496,574.5 496.1,577 496,579.5 495.8,581.9 495.4,584.3 494.9,586.7 494.2,589.1 493.3,591.4 492.3,593.6 491.2,595.8 489.9,597.9 488.5,599.9 487,601.8 485.4,603.6 483.6,605.4 481.8,607 479.8,608.4 477.8,609.8 475.6,611 473.4,612.1 471.2,613 468.9,613.8" stroke="#444" stroke-width="0.7" fill="none"/>
<clipPath id="c1026"><polygon points="517,523.3 518.9,525.5 520.8,527.8 522.5,530.2 524.2,532.6 525.8,535.1 527.3,537.7 528.7,540.3 530,543 541.8,537.5 540.3,534.4 538.6,531.4 536.9,528.4 535.1,525.5 533.1,522.6 531,519.9 528.9,517.2 526.6,514.6"/></clipPath><g clip-path="url(#c1026)" stroke="#333" stroke-width="0.55"><line x1="501.7" y1="523.9" x2="534.2" y2="501.1"/><line x1="502.4" y1="524.9" x2="535" y2="502.1"/><line x1="503.1" y1="525.9" x2="535.7" y2="503.2"/><line x1="503.8" y1="527" x2="536.4" y2="504.2"/><line x1="504.6" y1="528" x2="537.1" y2="505.2"/><line x1="505.3" y1="529" x2="537.8" y2="506.2"/><line x1="506" y1="530" x2="538.6" y2="507.2"/><line x1="506.7" y1="531.1" x2="539.3" y2="508.3"/><line x1="507.4" y1="532.1" x2="540" y2="509.3"/><line x1="508.1" y1="533.1" x2="540.7" y2="510.3"/><line x1="508.9" y1="534.1" x2="541.4" y2="511.3"/><line x1="509.6" y1="535.2" x2="542.1" y2="512.4"/><line x1="510.3" y1="536.2" x2="542.9" y2="513.4"/><line x1="511" y1="537.2" x2="543.6" y2="514.4"/><line x1="511.7" y1="538.2" x2="544.3" y2="515.4"/><line x1="512.4" y1="539.3" x2="545" y2="516.5"/><line x1="513.2" y1="540.3" x2="545.7" y2="517.5"/><line x1="513.9" y1="541.3" x2="546.4" y2="518.5"/><line x1="514.6" y1="542.3" x2="547.2" y2="519.5"/><line x1="515.3" y1="543.4" x2="547.9" y2="520.6"/><line x1="516" y1="544.4" x2="548.6" y2="521.6"/><line x1="516.8" y1="545.4" x2="549.3" y2="522.6"/><line x1="517.5" y1="546.4" x2="550" y2="523.6"/><line x1="518.2" y1="547.5" x2="550.7" y2="524.7"/><line x1="518.9" y1="548.5" x2="551.5" y2="525.7"/><line x1="519.6" y1="549.5" x2="552.2" y2="526.7"/><line x1="520.3" y1="550.5" x2="552.9" y2="527.7"/><line x1="521.1" y1="551.5" x2="553.6" y2="528.8"/><line x1="521.8" y1="552.6" x2="554.3" y2="529.8"/><line x1="522.5" y1="553.6" x2="555" y2="530.8"/><line x1="523.2" y1="554.6" x2="555.8" y2="531.8"/><line x1="523.9" y1="555.6" x2="556.5" y2="532.8"/></g>
<polygon points="517,523.3 518.9,525.5 520.8,527.8 522.5,530.2 524.2,532.6 525.8,535.1 527.3,537.7 528.7,540.3 530,543 541.8,537.5 540.3,534.4 538.6,531.4 536.9,528.4 535.1,525.5 533.1,522.6 531,519.9 528.9,517.2 526.6,514.6" stroke="#444" stroke-width="0.7" fill="none"/>
<clipPath id="c1028"><polygon points="531.3,548.5 532.1,550.9 532.9,553.4 533.7,555.9 534.3,558.4 534.9,560.9 535.4,563.4 535.8,566 536.1,568.5 548,567.3 547.6,564.3 547.2,561.4 546.6,558.5 546,555.6 545.2,552.7 544.4,549.8 543.5,547 542.5,544.2"/></clipPath><g clip-path="url(#c1028)" stroke="#333" stroke-width="0.55"><line x1="545.4" y1="534.8" x2="561.2" y2="562.1"/><line x1="544.3" y1="535.4" x2="560.1" y2="562.8"/><line x1="543.2" y1="536.1" x2="559" y2="563.4"/><line x1="542.2" y1="536.7" x2="557.9" y2="564"/><line x1="541.1" y1="537.3" x2="556.9" y2="564.6"/><line x1="540" y1="537.9" x2="555.8" y2="565.3"/><line x1="538.9" y1="538.6" x2="554.7" y2="565.9"/><line x1="537.8" y1="539.2" x2="553.6" y2="566.5"/><line x1="536.7" y1="539.8" x2="552.5" y2="567.1"/><line x1="535.7" y1="540.4" x2="551.4" y2="567.8"/><line x1="534.6" y1="541.1" x2="550.4" y2="568.4"/><line x1="533.5" y1="541.7" x2="549.3" y2="569"/><line x1="532.4" y1="542.3" x2="548.2" y2="569.6"/><line x1="531.3" y1="542.9" x2="547.1" y2="570.3"/><line x1="530.2" y1="543.6" x2="546" y2="570.9"/><line x1="529.2" y1="544.2" x2="544.9" y2="571.5"/><line x1="528.1" y1="544.8" x2="543.9" y2="572.1"/><line x1="527" y1="545.4" x2="542.8" y2="572.8"/><line x1="525.9" y1="546.1" x2="541.7" y2="573.4"/><line x1="524.8" y1="546.7" x2="540.6" y2="574"/><line x1="523.8" y1="547.3" x2="539.5" y2="574.6"/><line x1="522.7" y1="547.9" x2="538.4" y2="575.3"/><line x1="521.6" y1="548.6" x2="537.4" y2="575.9"/><line x1="520.5" y1="549.2" x2="536.3" y2="576.5"/><line x1="519.4" y1="549.8" x2="535.2" y2="577.1"/><line x1="518.3" y1="550.4" x2="534.1" y2="577.8"/></g>
<polygon points="531.3,548.5 532.1,550.9 532.9,553.4 533.7,555.9 534.3,558.4 534.9,560.9 535.4,563.4 535.8,566 536.1,568.5 548,567.3 547.6,564.3 547.2,561.4 546.6,558.5 546,555.6 545.2,552.7 544.4,549.8 543.5,547 542.5,544.2" stroke="#444" stroke-width="0.7" fill="none"/>
<clipPath id="c1030"><polygon points="536.1,585.1 535.8,587.6 535.4,590.2 534.9,592.7 534.3,595.2 533.7,597.7 532.9,600.2 532.1,602.7 531.3,605.1 542.5,609.4 543.5,606.6 544.4,603.8 545.2,600.9 546,598 546.6,595.1 547.2,592.2 547.6,589.3 548,586.3"/></clipPath><g clip-path="url(#c1030)" stroke="#333" stroke-width="0.55"><line x1="518.1" y1="603" x2="533.9" y2="575.7"/><line x1="519.2" y1="603.6" x2="534.9" y2="576.3"/><line x1="520.2" y1="604.3" x2="536" y2="576.9"/><line x1="521.3" y1="604.9" x2="537.1" y2="577.6"/><line x1="522.4" y1="605.5" x2="538.2" y2="578.2"/><line x1="523.5" y1="606.1" x2="539.3" y2="578.8"/><line x1="524.6" y1="606.8" x2="540.3" y2="579.4"/><line x1="525.7" y1="607.4" x2="541.4" y2="580.1"/><line x1="526.7" y1="608" x2="542.5" y2="580.7"/><line x1="527.8" y1="608.6" x2="543.6" y2="581.3"/><line x1="528.9" y1="609.3" x2="544.7" y2="581.9"/><line x1="530" y1="609.9" x2="545.8" y2="582.6"/><line x1="531.1" y1="610.5" x2="546.8" y2="583.2"/><line x1="532.1" y1="611.1" x2="547.9" y2="583.8"/><line x1="533.2" y1="611.8" x2="549" y2="584.4"/><line x1="534.3" y1="612.4" x2="550.1" y2="585.1"/><line x1="535.4" y1="613" x2="551.2" y2="585.7"/><line x1="536.5" y1="613.6" x2="552.3" y2="586.3"/><line x1="537.6" y1="614.3" x2="553.3" y2="586.9"/><line x1="538.6" y1="614.9" x2="554.4" y2="587.6"/><line x1="539.7" y1="615.5" x2="555.5" y2="588.2"/><line x1="540.8" y1="616.1" x2="556.6" y2="588.8"/><line x1="541.9" y1="616.8" x2="557.7" y2="589.4"/><line x1="543" y1="617.4" x2="558.8" y2="590.1"/><line x1="544.1" y1="618" x2="559.8" y2="590.7"/><line x1="545.1" y1="618.6" x2="560.9" y2="591.3"/></g>
<polygon points="536.1,585.1 535.8,587.6 535.4,590.2 534.9,592.7 534.3,595.2 533.7,597.7 532.9,600.2 532.1,602.7 531.3,605.1 542.5,609.4 543.5,606.6 544.4,603.8 545.2,600.9 546,598 546.6,595.1 547.2,592.2 547.6,589.3 548,586.3" stroke="#444" stroke-width="0.7" fill="none"/>
<clipPath id="c1032"><polygon points="528.1,614.4 526.9,616.6 525.5,618.9 524.1,621.1 522.6,623.3 521.1,625.4 519.5,627.4 517.8,629.4 516,631.4 526.2,640.9 528.3,638.6 530.3,636.3 532.2,633.9 534,631.4 535.8,628.9 537.4,626.3 539,623.6 540.5,620.9"/></clipPath><g clip-path="url(#c1032)" stroke="#333" stroke-width="0.55"><line x1="523.6" y1="601.1" x2="554.8" y2="623"/><line x1="522.9" y1="602.1" x2="554.1" y2="624"/><line x1="522.1" y1="603.1" x2="553.4" y2="625"/><line x1="521.4" y1="604.2" x2="552.6" y2="626"/><line x1="520.7" y1="605.2" x2="551.9" y2="627"/><line x1="520" y1="606.2" x2="551.2" y2="628.1"/><line x1="519.3" y1="607.2" x2="550.5" y2="629.1"/><line x1="518.6" y1="608.3" x2="549.8" y2="630.1"/><line x1="517.8" y1="609.3" x2="549.1" y2="631.1"/><line x1="517.1" y1="610.3" x2="548.3" y2="632.2"/><line x1="516.4" y1="611.3" x2="547.6" y2="633.2"/><line x1="515.7" y1="612.4" x2="546.9" y2="634.2"/><line x1="515" y1="613.4" x2="546.2" y2="635.2"/><line x1="514.3" y1="614.4" x2="545.5" y2="636.3"/><line x1="513.5" y1="615.4" x2="544.8" y2="637.3"/><line x1="512.8" y1="616.4" x2="544" y2="638.3"/><line x1="512.1" y1="617.5" x2="543.3" y2="639.3"/><line x1="511.4" y1="618.5" x2="542.6" y2="640.4"/><line x1="510.7" y1="619.5" x2="541.9" y2="641.4"/><line x1="509.9" y1="620.5" x2="541.2" y2="642.4"/><line x1="509.2" y1="621.6" x2="540.5" y2="643.4"/><line x1="508.5" y1="622.6" x2="539.7" y2="644.5"/><line x1="507.8" y1="623.6" x2="539" y2="645.5"/><line x1="507.1" y1="624.6" x2="538.3" y2="646.5"/><line x1="506.4" y1="625.7" x2="537.6" y2="647.5"/><line x1="505.6" y1="626.7" x2="536.9" y2="648.6"/><line x1="504.9" y1="627.7" x2="536.2" y2="649.6"/><line x1="504.2" y1="628.7" x2="535.4" y2="650.6"/><line x1="503.5" y1="629.8" x2="534.7" y2="651.6"/><line x1="502.8" y1="630.8" x2="534" y2="652.6"/><line x1="502.1" y1="631.8" x2="533.3" y2="653.7"/></g>
<polygon points="528.1,614.4 526.9,616.6 525.5,618.9 524.1,621.1 522.6,623.3 521.1,625.4 519.5,627.4 517.8,629.4 516,631.4 526.2,640.9 528.3,638.6 530.3,636.3 532.2,633.9 534,631.4 535.8,628.9 537.4,626.3 539,623.6 540.5,620.9" stroke="#444" stroke-width="0.7" fill="none"/>
<clipPath id="c1034"><polygon points="517.2,634.5 515.4,636.3 513.6,638 511.7,639.7 509.7,641.3 507.7,642.9 505.7,644.4 503.6,645.8 501.5,647.2 508.4,658.2 510.8,656.6 513.2,655 515.6,653.2 517.9,651.4 520.2,649.5 522.4,647.6 524.5,645.6 526.6,643.5"/></clipPath><g clip-path="url(#c1034)" stroke="#333" stroke-width="0.55"><line x1="516.3" y1="620.6" x2="539.8" y2="648.6"/><line x1="515.3" y1="621.4" x2="538.8" y2="649.4"/><line x1="514.4" y1="622.2" x2="537.8" y2="650.2"/><line x1="513.4" y1="623" x2="536.9" y2="651"/><line x1="512.4" y1="623.8" x2="535.9" y2="651.8"/><line x1="511.5" y1="624.6" x2="535" y2="652.6"/><line x1="510.5" y1="625.4" x2="534" y2="653.4"/><line x1="509.6" y1="626.2" x2="533.1" y2="654.2"/><line x1="508.6" y1="627" x2="532.1" y2="655"/><line x1="507.7" y1="627.8" x2="531.1" y2="655.8"/><line x1="506.7" y1="628.6" x2="530.2" y2="656.6"/><line x1="505.7" y1="629.4" x2="529.2" y2="657.4"/><line x1="504.8" y1="630.2" x2="528.3" y2="658.2"/><line x1="503.8" y1="631" x2="527.3" y2="659"/><line x1="502.9" y1="631.8" x2="526.4" y2="659.8"/><line x1="501.9" y1="632.6" x2="525.4" y2="660.6"/><line x1="501" y1="633.5" x2="524.4" y2="661.4"/><line x1="500" y1="634.3" x2="523.5" y2="662.2"/><line x1="499" y1="635.1" x2="522.5" y2="663"/><line x1="498.1" y1="635.9" x2="521.6" y2="663.9"/><line x1="497.1" y1="636.7" x2="520.6" y2="664.7"/><line x1="496.2" y1="637.5" x2="519.7" y2="665.5"/><line x1="495.2" y1="638.3" x2="518.7" y2="666.3"/><line x1="494.2" y1="639.1" x2="517.7" y2="667.1"/><line x1="493.3" y1="639.9" x2="516.8" y2="667.9"/><line x1="492.3" y1="640.7" x2="515.8" y2="668.7"/><line x1="491.4" y1="641.5" x2="514.9" y2="669.5"/><line x1="490.4" y1="642.3" x2="513.9" y2="670.3"/><line x1="489.5" y1="643.1" x2="512.9" y2="671.1"/><line x1="488.5" y1="643.9" x2="512" y2="671.9"/></g>
<polygon points="517.2,634.5 515.4,636.3 513.6,638 511.7,639.7 509.7,641.3 507.7,642.9 505.7,644.4 503.6,645.8 501.5,647.2 508.4,658.2 510.8,656.6 513.2,655 515.6,653.2 517.9,651.4 520.2,649.5 522.4,647.6 524.5,645.6 526.6,643.5" stroke="#444" stroke-width="0.7" fill="none"/>
<polyline points="549,567.2 549.3,570.4 549.4,573.6 549.5,576.8 549.4,580 549.3,583.2 549,586.4" stroke="#444" stroke-width="0.7" fill="none"/>
<polyline points="536.1,568.5 536.3,571.3 536.5,574 536.5,576.8 536.5,579.6 536.3,582.3 536.1,585.1" stroke="#777" stroke-width="0.6" fill="none"/>
<line x1="528" y1="577" x2="540" y2="577" stroke="#444" stroke-width="0.7" fill="none"/>
<circle cx="528.7" cy="547.2" r="3.6" stroke="#111" stroke-width="1.2" fill="none"/>
<circle cx="528.7" cy="606.2" r="3.6" stroke="#111" stroke-width="1.2" fill="none"/>
<circle cx="528.7" cy="547.2" r="1.6" stroke="#444" stroke-width="0.7" fill="none"/>
<circle cx="528.7" cy="606.2" r="1.6" stroke="#444" stroke-width="0.7" fill="none"/>
<polyline points="503,640 507,646 505,648 509,652 507,654 511,658" stroke="#777" stroke-width="0.6" fill="none"/>
<polyline points="486.8,659.8 489,670 497,675 500,683" stroke="#777" stroke-width="0.6" fill="none"/>
<polygon points="506.1,502.2 520.1,492.5 533,505.4 519,512.9" stroke="#444" stroke-width="0.7" fill="none"/>
<line x1="503" y1="497" x2="518" y2="510" stroke="#777" stroke-width="0.6" fill="none"/>
<rect x="510.4" y="518.2" width="7.6" height="7.6" stroke="#444" stroke-width="0.7" fill="none"/>
<circle cx="514.2" cy="520.5" r="0.8" fill="#000"/>
<circle cx="514.2" cy="523.5" r="0.8" fill="#000"/>
<line x1="570.9" y1="475.5" x2="570.9" y2="665" stroke="#111" stroke-width="1.2" fill="none"/>
<polyline points="519.8,509.9 519.8,475.5 570.9,475.5" stroke="#444" stroke-width="0.7" fill="none"/>
<line x1="540" y1="509.9" x2="570.9" y2="509.9" stroke="#444" stroke-width="0.7" fill="none"/>
<line x1="558" y1="544.8" x2="570.9" y2="544.8" stroke="#444" stroke-width="0.7" fill="none"/>
<line x1="558" y1="576" x2="570.9" y2="576" stroke="#444" stroke-width="0.7" fill="none"/>
<line x1="558" y1="609.6" x2="570.9" y2="609.6" stroke="#444" stroke-width="0.7" fill="none"/>
<line x1="558" y1="643.3" x2="570.9" y2="643.3" stroke="#444" stroke-width="0.7" fill="none"/>
<line x1="528.5" y1="643.3" x2="528.5" y2="659.5" stroke="#777" stroke-width="0.6" fill="none"/>
<polyline points="528,655 532,659.5 570.9,659.5" stroke="#444" stroke-width="0.7" fill="none"/>
<rect x="563" y="538" width="7.9" height="7" stroke="#333" stroke-width="1.2" fill="none"/>
<rect x="518.6" y="474.3" width="2.4" height="2.4" fill="#000"/>
<rect x="543.8" y="474.3" width="2.4" height="2.4" fill="#000"/>
<rect x="518.6" y="508.7" width="2.4" height="2.4" fill="#000"/>
<rect x="548.8" y="508.7" width="2.4" height="2.4" fill="#000"/>
<rect x="569.7" y="508.7" width="2.4" height="2.4" fill="#000"/>
<rect x="562.8" y="574.8" width="2.4" height="2.4" fill="#000"/>
<rect x="562.8" y="642.1" width="2.4" height="2.4" fill="#000"/>
<rect x="546.8" y="642.1" width="2.4" height="2.4" fill="#000"/>
<text transform="translate(545,490) scale(0.7,1)" font-size="6.5" text-anchor="middle" fill="#1a1a1a" font-family="Liberation Mono">53</text>
<text transform="translate(548,497) scale(0.7,1)" font-size="6.5" text-anchor="middle" fill="#1a1a1a" font-family="Liberation Mono">99.6m²</text>
<text transform="translate(517,506) scale(0.7,1)" font-size="5.6" text-anchor="middle" fill="#1a1a1a" font-family="Liberation Mono">新春</text>
<text transform="translate(516,511) scale(0.7,1)" font-size="5" text-anchor="middle" fill="#1a1a1a" font-family="Liberation Mono">25m²</text>
<text transform="translate(565,556) scale(0.7,1)" font-size="6.5" text-anchor="middle" fill="#1a1a1a" font-family="Liberation Mono">49</text>
<text transform="translate(567,562) scale(0.7,1)" font-size="5.6" text-anchor="middle" fill="#1a1a1a" font-family="Liberation Mono">18.9m²</text>
<text transform="translate(566,598) scale(0.7,1)" font-size="6.5" text-anchor="middle" fill="#1a1a1a" font-family="Liberation Mono">48</text>
<text transform="translate(567,604) scale(0.7,1)" font-size="5.3" text-anchor="middle" fill="#1a1a1a" font-family="Liberation Mono">22.7m²</text>
<text transform="translate(563,627) scale(0.7,1)" font-size="6.5" text-anchor="middle" fill="#1a1a1a" font-family="Liberation Mono">47E</text>
<text transform="translate(566,633) scale(0.7,1)" font-size="6.5" text-anchor="middle" fill="#1a1a1a" font-family="Liberation Mono">44.9m²</text>
<text transform="translate(562,648) scale(0.7,1)" font-size="6.5" text-anchor="middle" fill="#1a1a1a" font-family="Liberation Mono">47B</text>
<text transform="translate(565,654) scale(0.7,1)" font-size="6.5" text-anchor="middle" fill="#1a1a1a" font-family="Liberation Mono">38.2m²</text>
<rect x="453.7" y="475.5" width="33.7" height="33.9" stroke="#444" stroke-width="0.7" fill="none"/>
<polyline points="440,509.4 453.7,509.4 487.4,509.4" stroke="#444" stroke-width="0.7" fill="none"/>
<line x1="440" y1="576.4" x2="453.9" y2="576.4" stroke="#444" stroke-width="0.7" fill="none"/>
<rect x="452.5" y="474.3" width="2.4" height="2.4" fill="#000"/>
<rect x="486.2" y="474.3" width="2.4" height="2.4" fill="#000"/>
<rect x="452.5" y="508.2" width="2.4" height="2.4" fill="#000"/>
<rect x="486.2" y="508.2" width="2.4" height="2.4" fill="#000"/>
<rect x="452.8" y="542.3" width="2.4" height="2.4" fill="#000"/>
<rect x="464.8" y="542.3" width="2.4" height="2.4" fill="#000"/>
<rect x="463.8" y="607.8" width="2.4" height="2.4" fill="#000"/>
<rect x="450" y="580" width="5" height="8" stroke="#444" stroke-width="0.7" fill="none"/>
<rect x="453" y="606" width="8" height="8" stroke="#444" stroke-width="0.7" fill="none"/>
<line x1="453" y1="606" x2="461" y2="614" stroke="#777" stroke-width="0.6" fill="none"/>
<line x1="461" y1="606" x2="453" y2="614" stroke="#777" stroke-width="0.6" fill="none"/>
<rect x="445" y="643.3" width="26" height="16.2" stroke="#444" stroke-width="0.7" fill="none"/>
<clipPath id="c1095"><polygon points="450,645 468,645 468,658 450,658"/></clipPath><g clip-path="url(#c1095)" stroke="#555" stroke-width="0.5"><line x1="446.9" y1="639.4" x2="471.1" y2="639.4"/><line x1="446.9" y1="640.6" x2="471.1" y2="640.6"/><line x1="446.9" y1="641.8" x2="471.1" y2="641.8"/><line x1="446.9" y1="643" x2="471.1" y2="643"/><line x1="446.9" y1="644.2" x2="471.1" y2="644.2"/><line x1="446.9" y1="645.4" x2="471.1" y2="645.4"/><line x1="446.9" y1="646.6" x2="471.1" y2="646.6"/><line x1="446.9" y1="647.8" x2="471.1" y2="647.8"/><line x1="446.9" y1="649" x2="471.1" y2="649"/><line x1="446.9" y1="650.2" x2="471.1" y2="650.2"/><line x1="446.9" y1="651.4" x2="471.1" y2="651.4"/><line x1="446.9" y1="652.6" x2="471.1" y2="652.6"/><line x1="446.9" y1="653.8" x2="471.1" y2="653.8"/><line x1="446.9" y1="655" x2="471.1" y2="655"/><line x1="446.9" y1="656.2" x2="471.1" y2="656.2"/><line x1="446.9" y1="657.4" x2="471.1" y2="657.4"/><line x1="446.9" y1="658.6" x2="471.1" y2="658.6"/><line x1="446.9" y1="659.8" x2="471.1" y2="659.8"/><line x1="446.9" y1="661" x2="471.1" y2="661"/><line x1="446.9" y1="662.2" x2="471.1" y2="662.2"/><line x1="446.9" y1="663.4" x2="471.1" y2="663.4"/></g>
<polyline points="487.6,660 489,672 500,675" stroke="#444" stroke-width="0.7" fill="none"/>
<rect x="482" y="662" width="12" height="5" stroke="#444" stroke-width="0.7" fill="none"/>
<rect x="443.8" y="642.1" width="2.4" height="2.4" fill="#000"/>
<rect x="443.8" y="658.3" width="2.4" height="2.4" fill="#000"/>
<rect x="486.4" y="658.8" width="2.4" height="2.4" fill="#000"/>
<rect x="265.5" y="586.9" width="74.8" height="56.6" stroke="#666" stroke-width="1.5" fill="none"/>
<rect x="264.3" y="585.7" width="2.4" height="2.4" fill="#000"/>
<rect x="339.1" y="585.7" width="2.4" height="2.4" fill="#000"/>
<rect x="264.3" y="642.3" width="2.4" height="2.4" fill="#000"/>
<rect x="339.1" y="642.3" width="2.4" height="2.4" fill="#000"/>
<rect x="301.7" y="585.7" width="2.4" height="2.4" fill="#000"/>
<rect x="301.7" y="642.3" width="2.4" height="2.4" fill="#000"/>
<rect x="264.3" y="614" width="2.4" height="2.4" fill="#000"/>
<rect x="339.1" y="614" width="2.4" height="2.4" fill="#000"/>
<rect x="265.5" y="643.5" width="63.4" height="44.7" stroke="#666" stroke-width="1.5" fill="none"/>
<rect x="264.3" y="642.3" width="2.4" height="2.4" fill="#000"/>
<rect x="327.7" y="642.3" width="2.4" height="2.4" fill="#000"/>
<rect x="264.3" y="687" width="2.4" height="2.4" fill="#000"/>
<rect x="327.7" y="687" width="2.4" height="2.4" fill="#000"/>
<rect x="296" y="642.3" width="2.4" height="2.4" fill="#000"/>
<rect x="296" y="687" width="2.4" height="2.4" fill="#000"/>
<rect x="264.3" y="664.6" width="2.4" height="2.4" fill="#000"/>
<rect x="327.7" y="664.6" width="2.4" height="2.4" fill="#000"/>
<rect x="265.5" y="698.3" width="63.4" height="43.9" stroke="#666" stroke-width="1.5" fill="none"/>
<rect x="264.3" y="697.1" width="2.4" height="2.4" fill="#000"/>
<rect x="327.7" y="697.1" width="2.4" height="2.4" fill="#000"/>
<rect x="264.3" y="741" width="2.4" height="2.4" fill="#000"/>
<rect x="327.7" y="741" width="2.4" height="2.4" fill="#000"/>
<rect x="296" y="697.1" width="2.4" height="2.4" fill="#000"/>
<rect x="296" y="741" width="2.4" height="2.4" fill="#000"/>
<rect x="264.3" y="719" width="2.4" height="2.4" fill="#000"/>
<rect x="327.7" y="719" width="2.4" height="2.4" fill="#000"/>
<rect x="357.1" y="586.9" width="53.6" height="72.8" stroke="#666" stroke-width="1.5" fill="none"/>
<rect x="355.9" y="585.7" width="2.4" height="2.4" fill="#000"/>
<rect x="409.5" y="585.7" width="2.4" height="2.4" fill="#000"/>
<rect x="355.9" y="658.5" width="2.4" height="2.4" fill="#000"/>
<rect x="409.5" y="658.5" width="2.4" height="2.4" fill="#000"/>
<rect x="382.7" y="585.7" width="2.4" height="2.4" fill="#000"/>
<rect x="382.7" y="658.5" width="2.4" height="2.4" fill="#000"/>
<rect x="355.9" y="622.1" width="2.4" height="2.4" fill="#000"/>
<rect x="409.5" y="622.1" width="2.4" height="2.4" fill="#000"/>
<rect x="341.6" y="677.4" width="46.1" height="64.8" stroke="#666" stroke-width="1.5" fill="none"/>
<rect x="340.4" y="676.2" width="2.4" height="2.4" fill="#000"/>
<rect x="386.5" y="676.2" width="2.4" height="2.4" fill="#000"/>
<rect x="340.4" y="741" width="2.4" height="2.4" fill="#000"/>
<rect x="386.5" y="741" width="2.4" height="2.4" fill="#000"/>
<rect x="363.4" y="676.2" width="2.4" height="2.4" fill="#000"/>
<rect x="363.4" y="741" width="2.4" height="2.4" fill="#000"/>
<rect x="340.4" y="708.6" width="2.4" height="2.4" fill="#000"/>
<rect x="386.5" y="708.6" width="2.4" height="2.4" fill="#000"/>
<rect x="265.4" y="752.3" width="77.1" height="46.1" stroke="#666" stroke-width="1.5" fill="none"/>
<rect x="264.2" y="751.1" width="2.4" height="2.4" fill="#000"/>
<rect x="341.3" y="751.1" width="2.4" height="2.4" fill="#000"/>
<rect x="264.2" y="797.2" width="2.4" height="2.4" fill="#000"/>
<rect x="341.3" y="797.2" width="2.4" height="2.4" fill="#000"/>
<rect x="302.8" y="751.1" width="2.4" height="2.4" fill="#000"/>
<rect x="302.8" y="797.2" width="2.4" height="2.4" fill="#000"/>
<rect x="264.2" y="774.1" width="2.4" height="2.4" fill="#000"/>
<rect x="341.3" y="774.1" width="2.4" height="2.4" fill="#000"/>
<rect x="398.2" y="677.4" width="89.2" height="65.3" stroke="#666" stroke-width="1.5" fill="none"/>
<rect x="397" y="676.2" width="2.4" height="2.4" fill="#000"/>
<rect x="423.8" y="676.2" width="2.4" height="2.4" fill="#000"/>
<rect x="453.8" y="676.2" width="2.4" height="2.4" fill="#000"/>
<rect x="486.2" y="676.2" width="2.4" height="2.4" fill="#000"/>
<rect x="397" y="698.8" width="2.4" height="2.4" fill="#000"/>
<rect x="397" y="718.8" width="2.4" height="2.4" fill="#000"/>
<rect x="486.2" y="698.8" width="2.4" height="2.4" fill="#000"/>
<rect x="486.2" y="718.8" width="2.4" height="2.4" fill="#000"/>
<rect x="423.8" y="741.5" width="2.4" height="2.4" fill="#000"/>
<rect x="453.8" y="741.5" width="2.4" height="2.4" fill="#000"/>
<rect x="486.2" y="741.5" width="2.4" height="2.4" fill="#000"/>
<rect x="411.9" y="599.8" width="15" height="43.7" stroke="#444" stroke-width="0.7" fill="none"/>
<clipPath id="c1168"><polygon points="412,600 427,600 427,643.5 412,643.5"/></clipPath><g clip-path="url(#c1168)" stroke="#555" stroke-width="0.5"><line x1="395.5" y1="597.7" x2="443.5" y2="597.7"/><line x1="395.5" y1="599.1" x2="443.5" y2="599.1"/><line x1="395.5" y1="600.5" x2="443.5" y2="600.5"/><line x1="395.5" y1="601.9" x2="443.5" y2="601.9"/><line x1="395.5" y1="603.3" x2="443.5" y2="603.3"/><line x1="395.5" y1="604.7" x2="443.5" y2="604.7"/><line x1="395.5" y1="606.1" x2="443.5" y2="606.1"/><line x1="395.5" y1="607.5" x2="443.5" y2="607.5"/><line x1="395.5" y1="608.9" x2="443.5" y2="608.9"/><line x1="395.5" y1="610.3" x2="443.5" y2="610.3"/><line x1="395.5" y1="611.7" x2="443.5" y2="611.7"/><line x1="395.5" y1="613.1" x2="443.5" y2="613.1"/><line x1="395.5" y1="614.5" x2="443.5" y2="614.5"/><line x1="395.5" y1="615.9" x2="443.5" y2="615.9"/><line x1="395.5" y1="617.3" x2="443.5" y2="617.3"/><line x1="395.5" y1="618.7" x2="443.5" y2="618.7"/><line x1="395.5" y1="620.1" x2="443.5" y2="620.1"/><line x1="395.5" y1="621.5" x2="443.5" y2="621.5"/><line x1="395.5" y1="622.9" x2="443.5" y2="622.9"/><line x1="395.5" y1="624.3" x2="443.5" y2="624.3"/><line x1="395.5" y1="625.7" x2="443.5" y2="625.7"/><line x1="395.5" y1="627.1" x2="443.5" y2="627.1"/><line x1="395.5" y1="628.5" x2="443.5" y2="628.5"/><line x1="395.5" y1="629.9" x2="443.5" y2="629.9"/><line x1="395.5" y1="631.3" x2="443.5" y2="631.3"/><line x1="395.5" y1="632.7" x2="443.5" y2="632.7"/><line x1="395.5" y1="634.1" x2="443.5" y2="634.1"/><line x1="395.5" y1="635.5" x2="443.5" y2="635.5"/><line x1="395.5" y1="636.9" x2="443.5" y2="636.9"/><line x1="395.5" y1="638.3" x2="443.5" y2="638.3"/><line x1="395.5" y1="639.7" x2="443.5" y2="639.7"/><line x1="395.5" y1="641.1" x2="443.5" y2="641.1"/><line x1="395.5" y1="642.5" x2="443.5" y2="642.5"/><line x1="395.5" y1="643.9" x2="443.5" y2="643.9"/><line x1="395.5" y1="645.3" x2="443.5" y2="645.3"/></g>
<line x1="416" y1="600" x2="416" y2="643.5" stroke="#444" stroke-width="0.7" fill="none"/>
<line x1="422" y1="600" x2="422" y2="643.5" stroke="#444" stroke-width="0.7" fill="none"/>
<rect x="453" y="643.5" width="16.3" height="17.4" stroke="#444" stroke-width="0.7" fill="none"/>
<rect x="341" y="591" width="16" height="20" stroke="#444" stroke-width="0.7" fill="none"/>
<rect x="343" y="593" width="12" height="16" fill="#ccc"/>
<clipPath id="c1174"><polygon points="343,593 355,593 355,609 343,609"/></clipPath><g clip-path="url(#c1174)" stroke="#555" stroke-width="0.5"><line x1="338" y1="590" x2="360" y2="590"/><line x1="338" y1="591.2" x2="360" y2="591.2"/><line x1="338" y1="592.4" x2="360" y2="592.4"/><line x1="338" y1="593.6" x2="360" y2="593.6"/><line x1="338" y1="594.8" x2="360" y2="594.8"/><line x1="338" y1="596" x2="360" y2="596"/><line x1="338" y1="597.2" x2="360" y2="597.2"/><line x1="338" y1="598.4" x2="360" y2="598.4"/><line x1="338" y1="599.6" x2="360" y2="599.6"/><line x1="338" y1="600.8" x2="360" y2="600.8"/><line x1="338" y1="602" x2="360" y2="602"/><line x1="338" y1="603.2" x2="360" y2="603.2"/><line x1="338" y1="604.4" x2="360" y2="604.4"/><line x1="338" y1="605.6" x2="360" y2="605.6"/><line x1="338" y1="606.8" x2="360" y2="606.8"/><line x1="338" y1="608" x2="360" y2="608"/><line x1="338" y1="609.2" x2="360" y2="609.2"/><line x1="338" y1="610.4" x2="360" y2="610.4"/><line x1="338" y1="611.6" x2="360" y2="611.6"/></g>
<line x1="349" y1="593" x2="349" y2="609" stroke="#444" stroke-width="0.7" fill="none"/>
<rect x="388" y="722" width="10" height="20" stroke="#888" stroke-width="0.5" fill="#c4c4c4"/>
<clipPath id="c1177"><polygon points="388,722 398,722 398,742 388,742"/></clipPath><g clip-path="url(#c1177)" stroke="#555" stroke-width="0.5"><line x1="380.8" y1="719.8" x2="405.2" y2="719.8"/><line x1="380.8" y1="721.1" x2="405.2" y2="721.1"/><line x1="380.8" y1="722.4" x2="405.2" y2="722.4"/><line x1="380.8" y1="723.7" x2="405.2" y2="723.7"/><line x1="380.8" y1="725" x2="405.2" y2="725"/><line x1="380.8" y1="726.3" x2="405.2" y2="726.3"/><line x1="380.8" y1="727.6" x2="405.2" y2="727.6"/><line x1="380.8" y1="728.9" x2="405.2" y2="728.9"/><line x1="380.8" y1="730.2" x2="405.2" y2="730.2"/><line x1="380.8" y1="731.5" x2="405.2" y2="731.5"/><line x1="380.8" y1="732.8" x2="405.2" y2="732.8"/><line x1="380.8" y1="734.1" x2="405.2" y2="734.1"/><line x1="380.8" y1="735.4" x2="405.2" y2="735.4"/><line x1="380.8" y1="736.7" x2="405.2" y2="736.7"/><line x1="380.8" y1="738" x2="405.2" y2="738"/><line x1="380.8" y1="739.3" x2="405.2" y2="739.3"/><line x1="380.8" y1="740.6" x2="405.2" y2="740.6"/><line x1="380.8" y1="741.9" x2="405.2" y2="741.9"/><line x1="380.8" y1="743.2" x2="405.2" y2="743.2"/></g>
<line x1="340.3" y1="586.9" x2="357.1" y2="586.9" stroke="#777" stroke-width="0.6" fill="none"/>
<polyline points="234.2,799.3 397.3,799.3 397.3,743 566,743" stroke="#000" stroke-width="1.6" fill="none"/>
<rect x="387.7" y="799.3" width="10.5" height="3.4" stroke="#111" stroke-width="1.2" fill="none"/>
<rect x="233.7" y="751.4" width="30.5" height="47.9" stroke="#444" stroke-width="0.7" fill="none"/>
<line x1="233.7" y1="751.4" x2="264.2" y2="751.4" stroke="#000" stroke-width="1.6" fill="none"/>
<rect x="243" y="779" width="11" height="18" stroke="#444" stroke-width="0.7" fill="none"/>
<clipPath id="c1184"><polygon points="243,781 254,781 254,797 243,797"/></clipPath><g clip-path="url(#c1184)" stroke="#555" stroke-width="0.5"><line x1="237.8" y1="778.3" x2="259.2" y2="778.3"/><line x1="237.8" y1="779.6" x2="259.2" y2="779.6"/><line x1="237.8" y1="780.9" x2="259.2" y2="780.9"/><line x1="237.8" y1="782.2" x2="259.2" y2="782.2"/><line x1="237.8" y1="783.5" x2="259.2" y2="783.5"/><line x1="237.8" y1="784.8" x2="259.2" y2="784.8"/><line x1="237.8" y1="786.1" x2="259.2" y2="786.1"/><line x1="237.8" y1="787.4" x2="259.2" y2="787.4"/><line x1="237.8" y1="788.7" x2="259.2" y2="788.7"/><line x1="237.8" y1="790" x2="259.2" y2="790"/><line x1="237.8" y1="791.3" x2="259.2" y2="791.3"/><line x1="237.8" y1="792.6" x2="259.2" y2="792.6"/><line x1="237.8" y1="793.9" x2="259.2" y2="793.9"/><line x1="237.8" y1="795.2" x2="259.2" y2="795.2"/><line x1="237.8" y1="796.5" x2="259.2" y2="796.5"/><line x1="237.8" y1="797.8" x2="259.2" y2="797.8"/><line x1="237.8" y1="799.1" x2="259.2" y2="799.1"/></g>
<rect x="236" y="777" width="5" height="7" stroke="#444" stroke-width="0.7" fill="none"/>
<line x1="254.5" y1="752" x2="254.5" y2="778" stroke="#444" stroke-width="0.7" fill="none"/>
<rect x="355.5" y="761.8" width="32.2" height="20" stroke="#888" stroke-width="0.6" fill="#bbb"/>
<line x1="355.5" y1="761.8" x2="355.5" y2="781.8" stroke="#777" stroke-width="0.6" fill="none"/>
<line x1="356" y1="779" x2="363" y2="771" stroke="#333" stroke-width="0.6"/>
<line x1="363.5" y1="761.8" x2="363.5" y2="781.8" stroke="#777" stroke-width="0.6" fill="none"/>
<line x1="364" y1="779" x2="371" y2="771" stroke="#333" stroke-width="0.6"/>
<line x1="371.5" y1="761.8" x2="371.5" y2="781.8" stroke="#777" stroke-width="0.6" fill="none"/>
<line x1="372" y1="779" x2="379" y2="771" stroke="#333" stroke-width="0.6"/>
<line x1="379.5" y1="761.8" x2="379.5" y2="781.8" stroke="#777" stroke-width="0.6" fill="none"/>
<line x1="380" y1="779" x2="387" y2="771" stroke="#333" stroke-width="0.6"/>
<line x1="355.5" y1="743" x2="355.5" y2="799.3" stroke="#444" stroke-width="0.7" fill="none"/>
<line x1="398.2" y1="743" x2="398.2" y2="799.3" stroke="#444" stroke-width="0.7" fill="none"/>
<rect x="354.4" y="753.9" width="2.2" height="2.2" fill="#000"/>
<rect x="385.9" y="753.9" width="2.2" height="2.2" fill="#000"/>
<rect x="354.4" y="786.9" width="2.2" height="2.2" fill="#000"/>
<rect x="385.9" y="786.9" width="2.2" height="2.2" fill="#000"/>
<rect x="397.1" y="773.9" width="2.2" height="2.2" fill="#000"/>
<polyline points="497.7,709.5 497.7,687.6 520.9,676 586.5,676" stroke="#444" stroke-width="0.7" fill="none"/>
<line x1="520.9" y1="676" x2="520.9" y2="742.5" stroke="#444" stroke-width="0.7" fill="none"/>
<line x1="554.4" y1="676" x2="554.4" y2="709.5" stroke="#444" stroke-width="0.7" fill="none"/>
<line x1="488.7" y1="709.5" x2="578" y2="709.5" stroke="#444" stroke-width="0.7" fill="none"/>
<line x1="487.4" y1="677.4" x2="497.7" y2="677.4" stroke="#777" stroke-width="0.6" fill="none"/>
<rect x="519.7" y="674.8" width="2.4" height="2.4" fill="#000"/>
<rect x="553.2" y="674.8" width="2.4" height="2.4" fill="#000"/>
<rect x="585.3" y="674.8" width="2.4" height="2.4" fill="#000"/>
<rect x="519.7" y="708.3" width="2.4" height="2.4" fill="#000"/>
<rect x="553.2" y="708.3" width="2.4" height="2.4" fill="#000"/>
<rect x="486.2" y="708.3" width="2.4" height="2.4" fill="#000"/>
<rect x="576.8" y="741.3" width="2.4" height="2.4" fill="#000"/>
<rect x="519.7" y="741.3" width="2.4" height="2.4" fill="#000"/>
<rect x="533" y="743" width="10" height="5" stroke="#444" stroke-width="0.7" fill="none"/>
<text transform="translate(512,691) scale(0.7,1)" font-size="6.2" text-anchor="middle" fill="#1a1a1a" font-family="Liberation Mono">45C</text>
<text transform="translate(510,697) scale(0.7,1)" font-size="6.2" text-anchor="middle" fill="#1a1a1a" font-family="Liberation Mono">41.1m²</text>
<text transform="translate(539,691) scale(0.7,1)" font-size="6.2" text-anchor="middle" fill="#1a1a1a" font-family="Liberation Mono">45B</text>
<text transform="translate(541,697) scale(0.7,1)" font-size="6.2" text-anchor="middle" fill="#1a1a1a" font-family="Liberation Mono">73.3m²</text>
<text transform="translate(570,691) scale(0.7,1)" font-size="6.2" text-anchor="middle" fill="#1a1a1a" font-family="Liberation Mono">45A</text>
<text transform="translate(571,697) scale(0.7,1)" font-size="6.2" text-anchor="middle" fill="#1a1a1a" font-family="Liberation Mono">61.3m²</text>
<text transform="translate(549,722) scale(0.7,1)" font-size="6.2" text-anchor="middle" fill="#1a1a1a" font-family="Liberation Mono">46</text>
<text transform="translate(549,728) scale(0.7,1)" font-size="6.2" text-anchor="middle" fill="#1a1a1a" font-family="Liberation Mono">108.3m²</text>
<path d="M760,414 L759.9,414.2 L759.8,414.4 L759.6,414.6 L759.5,414.9 L759.3,415.1 L759.1,415.5 L758.9,415.9 L758.7,416.4 L758.3,417.1 L758,417.9 L757.5,418.8 L757,420 L756.4,421.4 L755.7,423 L755,424.9 L754.2,426.9 L753.3,429.1 L752.4,431.3 L751.5,433.6 L750.5,435.9 L749.5,438.1 L748.6,440.3 L747.6,442.4 L746.7,444.3 L745.8,446.1 L744.8,447.7 L743.8,449.3 L742.7,450.9 L741.7,452.4 L740.6,453.9 L739.6,455.4 L738.6,456.9 L737.6,458.5 L736.7,460.2 L735.8,462 L735,464 L734.2,466.1 L733.5,468.3 L732.9,470.7 L732.2,473.1 L731.6,475.7 L731.1,478.2 L730.5,480.8 L730,483.3 L729.5,485.9 L729,488.3 L728.5,490.7 L728,493 L727.5,495.2 L727.1,497.3 L726.7,499.4 L726.3,501.5 L725.9,503.5 L725.5,505.5 L725.1,507.5 L724.8,509.4 L724.4,511.4 L723.9,513.4 L723.5,515.4 L723,517.4 L722.5,519.4 L722,521.5 L721.4,523.5 L720.9,525.5 L720.3,527.5 L719.8,529.6 L719.2,531.6 L718.6,533.6 L717.9,535.6 L717.2,537.7 L716.5,539.7 L715.8,541.7 L715,543.7 L714.2,545.7 L713.4,547.8 L712.6,549.8 L711.7,551.8 L710.8,553.8 L709.9,555.9 L708.9,557.9 L707.9,559.9 L706.9,561.9 L705.9,564 L704.8,566 L703.7,568 L702.6,570.1 L701.4,572.1 L700.2,574.1 L699,576.2 L697.7,578.2 L696.4,580.2 L695.1,582.3 L693.8,584.3 L692.4,586.3 L691,588.4 L689.6,590.4 L688.2,592.4 L686.7,594.5 L685.2,596.6 L683.6,598.7 L682.1,600.7 L680.5,602.8 L678.9,604.9 L677.2,606.9 L675.6,608.9 L674,610.9 L672.3,612.8 L670.7,614.7 L669.1,616.5 L667.4,618.4 L665.7,620.2 L664.1,622 L662.4,623.7 L660.7,625.4 L659,627.1 L657.3,628.8 L655.6,630.4 L653.9,632 L652.2,633.5 L650.5,635 L648.8,636.4 L647.1,637.8 L645.4,639.2 L643.7,640.5 L642,641.7 L640.3,642.9 L638.6,644.1 L636.9,645.3 L635.2,646.5 L633.4,647.7 L631.7,649 L630,650.2 L628.2,651.5 L626.4,652.7 L624.6,654 L622.8,655.2 L620.9,656.5 L619.1,657.7 L617.2,659 L615.5,660.2 L613.7,661.4 L612.1,662.7 L610.5,663.9 L609,665.2 L607.6,666.5 L606.3,667.7 L605,669 L603.8,670.2 L602.6,671.5 L601.5,672.7 L600.4,674 L599.4,675.3 L598.4,676.5 L597.4,677.8 L596.4,679 L595.5,680.3 L594.6,681.6 L593.7,682.8 L592.9,684.1 L592.1,685.3 L591.3,686.6 L590.5,687.8 L589.8,689.1 L589.1,690.4 L588.4,691.6 L587.7,692.9 L587.1,694.1 L586.4,695.4 L585.7,696.7 L585.1,697.9 L584.5,699.2 L583.9,700.4 L583.3,701.7 L582.7,703 L582.2,704.2 L581.6,705.5 L581.1,706.7 L580.6,708 L580.1,709.2 L579.6,710.5 L579.1,711.7 L578.7,713 L578.2,714.2 L577.8,715.5 L577.3,716.7 L576.9,717.9 L576.5,719.1 L576.2,720.4 L575.8,721.6 L575.4,722.9 L575,724.2 L574.7,725.5 L574.4,726.9 L574,728.4 L573.7,729.9 L573.3,731.5 L573,733.1 L572.7,734.7 L572.4,736.2 L572.1,737.7 L571.9,739 L571.7,740.2 L571.5,741.2 L571.3,742" stroke="#777" stroke-width="9.5" stroke-dasharray="0.6 0.9" fill="none"/>
<polyline points="755.8,411.8 755.7,411.9 755.7,412 755.6,412.2 755.4,412.4 755.2,412.8 755,413.2 754.7,413.7 754.4,414.3 754.1,415 753.6,415.9 753.2,416.9 752.6,418.1 752,419.6 751.3,421.2 750.6,423.1 749.8,425.1 748.9,427.3 748,429.5 747.1,431.8 746.1,434 745.2,436.2 744.2,438.4 743.3,440.4 742.5,442.2 741.6,443.8 740.7,445.3 739.8,446.7 738.8,448.2 737.8,449.6 736.7,451.2 735.7,452.7 734.6,454.4 733.5,456.2 732.5,458.1 731.5,460.1 730.6,462.3 729.7,464.6 729,467 728.3,469.5 727.6,472 727,474.6 726.4,477.2 725.9,479.8 725.4,482.4 724.8,484.9 724.3,487.4 723.9,489.7 723.4,492 722.9,494.2 722.4,496.4 722,498.5 721.6,500.6 721.2,502.6 720.8,504.6 720.5,506.6 720.1,508.5 719.7,510.5 719.3,512.4 718.9,514.3 718.4,516.3 717.9,518.3 717.4,520.3 716.9,522.3 716.3,524.3 715.8,526.3 715.2,528.2 714.6,530.2 714,532.2 713.4,534.2 712.7,536.1 712.1,538.1 711.3,540 710.6,542 709.8,544 709,546 708.2,547.9 707.3,549.9 706.5,551.9 705.6,553.9 704.6,555.8 703.7,557.8 702.7,559.8 701.7,561.8 700.6,563.7 699.5,565.7 698.4,567.7 697.3,569.7 696.1,571.7 694.9,573.7 693.7,575.7 692.4,577.7 691.1,579.7 689.8,581.7 688.5,583.7 687.1,585.7 685.7,587.7 684.3,589.7 682.8,591.7 681.3,593.8 679.8,595.8 678.3,597.9 676.7,599.9 675.1,601.9 673.5,603.9 671.9,605.9 670.3,607.8 668.7,609.7 667.1,611.6 665.5,613.4 663.9,615.2 662.3,616.9 660.6,618.7 659,620.4 657.3,622.1 655.7,623.7 654,625.3 652.3,626.9 650.7,628.5 649,630 647.4,631.4 645.8,632.8 644.1,634.1 642.5,635.4 640.9,636.6 639.2,637.9 637.5,639.1 635.9,640.3 634.2,641.4 632.4,642.6 630.7,643.9 629,645.1 627.2,646.3 625.5,647.6 623.7,648.8 621.9,650 620.1,651.3 618.2,652.5 616.4,653.8 614.5,655 612.7,656.3 610.9,657.6 609.2,658.9 607.5,660.3 605.9,661.6 604.4,663 603,664.3 601.6,665.6 600.3,667 599.1,668.3 597.9,669.6 596.8,671 595.7,672.3 594.7,673.6 593.6,674.9 592.7,676.2 591.7,677.5 590.7,678.8 589.8,680.1 588.9,681.5 588,682.8 587.2,684.1 586.4,685.4 585.7,686.8 584.9,688.1 584.2,689.4 583.5,690.6 582.9,691.9 582.2,693.2 581.5,694.5 580.9,695.8 580.2,697.1 579.6,698.4 579,699.7 578.4,701 577.8,702.3 577.3,703.6 576.7,704.9 576.2,706.2 575.7,707.5 575.2,708.8 574.7,710.1 574.2,711.3 573.7,712.6 573.3,713.9 572.8,715.2 572.4,716.4 572,717.7 571.6,719 571.2,720.3 570.8,721.6 570.5,722.9 570.1,724.3 569.7,725.8 569.4,727.3 569,728.9 568.7,730.5 568.3,732.2 568,733.8 567.7,735.3 567.5,736.8 567.2,738.1 567,739.3 566.8,740.3 566.6,741.1" stroke="#444" stroke-width="0.7" fill="none"/>
<polyline points="764.2,416.2 764,416.5 763.8,416.9 763.7,417.1 763.6,417.3 763.4,417.5 763.3,417.8 763.1,418.1 762.9,418.5 762.6,419.1 762.3,419.9 761.8,420.8 761.4,421.9 760.8,423.2 760.1,424.8 759.4,426.7 758.6,428.7 757.7,430.8 756.8,433.1 755.9,435.4 754.9,437.7 753.9,440 752.9,442.3 751.9,444.4 750.9,446.4 749.9,448.4 748.8,450.2 747.7,451.9 746.6,453.5 745.6,455.1 744.6,456.6 743.6,458 742.6,459.4 741.7,460.9 740.9,462.4 740.1,464 739.4,465.7 738.7,467.6 738.1,469.7 737.5,471.9 736.9,474.3 736.3,476.7 735.7,479.2 735.2,481.7 734.7,484.3 734.2,486.8 733.6,489.3 733.1,491.7 732.6,494 732.2,496.2 731.7,498.3 731.3,500.3 730.9,502.4 730.6,504.4 730.2,506.4 729.8,508.4 729.4,510.4 729,512.4 728.6,514.4 728.1,516.5 727.6,518.5 727.1,520.6 726.6,522.6 726,524.7 725.5,526.7 724.9,528.8 724.3,530.9 723.7,532.9 723.1,535 722.4,537.1 721.7,539.2 721,541.3 720.3,543.4 719.5,545.4 718.6,547.5 717.8,549.6 716.9,551.7 716.1,553.7 715.1,555.8 714.2,557.9 713.2,559.9 712.2,562 711.2,564.1 710.1,566.2 709,568.3 707.8,570.3 706.7,572.4 705.5,574.5 704.3,576.6 703,578.6 701.7,580.7 700.4,582.8 699.1,584.9 697.7,586.9 696.3,589 694.9,591.1 693.5,593.1 692,595.2 690.5,597.3 689,599.4 687.4,601.5 685.8,603.6 684.2,605.7 682.6,607.8 680.9,609.9 679.3,611.9 677.6,613.9 675.9,615.9 674.3,617.8 672.6,619.7 670.9,621.6 669.2,623.4 667.5,625.2 665.8,627 664.1,628.8 662.3,630.5 660.6,632.2 658.9,633.8 657.1,635.5 655.4,637 653.6,638.6 651.8,640.1 650.1,641.5 648.3,642.9 646.5,644.3 644.8,645.5 643.1,646.8 641.3,648 639.6,649.2 637.9,650.4 636.2,651.6 634.5,652.8 632.8,654.1 631,655.3 629.1,656.6 627.3,657.9 625.4,659.1 623.6,660.4 621.7,661.6 619.9,662.9 618.2,664.1 616.6,665.3 615,666.5 613.5,667.6 612.1,668.8 610.8,670 609.6,671.1 608.4,672.3 607.2,673.5 606.1,674.7 605.1,675.9 604.1,677.1 603.1,678.3 602.1,679.5 601.2,680.7 600.2,681.9 599.3,683.1 598.4,684.3 597.6,685.5 596.8,686.7 596.1,687.9 595.3,689.1 594.6,690.3 593.9,691.5 593.3,692.7 592.6,693.9 591.9,695.1 591.3,696.4 590.6,697.6 590,698.8 589.4,700 588.8,701.2 588.2,702.5 587.6,703.7 587.1,704.9 586.5,706.1 586,707.3 585.5,708.6 585,709.8 584.5,711 584,712.2 583.6,713.4 583.1,714.6 582.7,715.8 582.3,717 581.8,718.2 581.5,719.4 581.1,720.6 580.7,721.8 580.3,723 580,724.2 579.6,725.5 579.3,726.7 579,728 578.6,729.4 578.3,730.9 578,732.5 577.7,734 577.4,735.6 577.1,737.1 576.8,738.5 576.5,739.9 576.3,741.1 576.1,742.1 576,742.9" stroke="#444" stroke-width="0.7" fill="none"/>
<path d="M556.5,123.6 C561.8,124.5 577.4,127.2 588,129 C598.6,130.8 610,133.3 620,134.5 C630,135.7 634.7,133.9 648,136 C661.3,138.1 679,142.5 700,147 C721,151.5 754.3,158.9 773.7,163.1 C793.1,167.3 809.3,170.8 816.4,172.4" stroke="#000" stroke-width="2.2" fill="none" stroke-dasharray="9 4.5"/>
<path d="M816.4,172.4 C820.5,173.3 834.7,175.2 840.9,177.7 C847.1,180.1 849.9,183.1 853.4,187.1 C856.9,191.1 860,197.6 861.8,201.8 C863.6,206 863.8,208.2 864.3,212.2 C864.8,216.2 864.5,223.7 864.5,226" stroke="#000" stroke-width="2.2" fill="none"/>
<path d="M864.5,226 C864.4,226.8 864.2,225.3 863.8,231 C863.3,236.7 862.5,251.1 861.8,260.2 C861.1,269.2 860.6,276.9 859.7,285.3 C858.8,293.7 857.5,301.3 856.5,310.3 C855.5,319.3 855.1,327.8 853.4,339.5 C851.7,351.2 848.2,369.8 846.1,380.4 C844,391 842.8,395.4 840.9,403 C839,410.6 837,417.6 834.8,425.7 C832.6,433.8 830.4,442.7 827.8,451.7 C825.2,460.7 822.6,469.9 819.1,479.9 C815.6,489.9 810.9,501.4 806.7,511.9 C802.6,522.4 798.1,533.8 794.2,542.6 C790.3,551.4 787.3,557.4 783.1,564.8 C778.9,572.2 774,578.7 769.1,587.1 C764.2,595.5 758.6,606 753.8,615 C748.9,624 744.6,633 740,641 C735.4,649 732.6,653.9 726,663.2 C719.4,672.5 708.9,686 700.3,696.7 C691.7,707.4 683.1,716.9 674.5,727.6 C665.9,738.3 657.4,750.7 648.8,761 C640.2,771.3 631.6,780.4 623,789.4 C614.4,798.4 605.9,807.8 597.3,815.1 C588.7,822.4 579.2,828 571.5,833.1 C563.8,838.2 554.3,843.9 550.9,846" stroke="#000" stroke-width="2.2" fill="none" stroke-dasharray="9 4.5"/>
<path d="M877.4,289.4 C876.7,296.2 874.6,318.9 873,330 C871.4,341.1 870.1,345.7 867.8,356.1 C865.5,366.5 862,381 859.1,392.6 C856.2,404.2 853.3,414.4 850.4,425.7 C847.5,437 844.4,450.5 841.7,460.4 C839,470.3 837.3,476.4 834,485 C830.7,493.6 826.3,502 822,512 C817.7,522 813.1,534 808,545 C802.9,556 797.4,566.3 791.4,578 C785.4,589.7 777.6,603.8 771.9,615 C766.2,626.2 762.5,633.5 757,645 C751.5,656.5 746.2,671.8 738.9,683.8 C731.6,695.8 722.1,706.6 713.1,717.3 C704.1,728 694.7,737.9 684.8,748.2 C674.9,758.5 664.2,769.7 653.9,779.1 C643.6,788.5 632.4,797.1 623,804.8 C613.6,812.5 605,818.3 597.3,825.4 C589.6,832.5 580.1,843.6 576.7,847.3" stroke="#444" stroke-width="0.7" fill="none"/>
<polyline points="789.1,576.8 788.1,578.6 786.9,580.9 785.5,583.6 783.9,586.6 782.1,589.9 780.3,593.4 778.4,597 776.5,600.6 774.6,604.2 772.8,607.6 771.1,610.8 769.6,613.8 768.2,616.5 766.9,619.1 765.6,621.6 764.4,624 763.2,626.4 762,628.7 760.9,631.1 759.7,633.5 758.5,635.9 757.3,638.4 756,641.1 754.6,643.9 753.3,646.9 751.9,650 750.5,653.2 749.1,656.5 747.7,659.8 746.2,663.1 744.8,666.5 743.3,669.8 741.7,673.1 740.1,676.3 738.4,679.5 736.7,682.5 734.8,685.4 732.9,688.3 730.9,691.1 728.9,693.9 726.8,696.7 724.6,699.4 722.4,702.2 720.2,704.9 717.9,707.6 715.6,710.3 713.4,712.9 711.1,715.6 708.9,718.3 706.6,720.9 704.3,723.5 702,726.1 699.7,728.6 697.4,731.1 695,733.7 692.6,736.2 690.2,738.7 687.8,741.3 685.4,743.8 682.9,746.4 680.4,749 677.9,751.6 675.4,754.2 672.8,756.9 670.3,759.5 667.7,762.1 665.1,764.8 662.5,767.3 659.9,769.9 657.3,772.4 654.7,774.8 652.1,777.2 649.6,779.5 647,781.8 644.4,784 641.7,786.2 639.1,788.4 636.5,790.6 633.9,792.7 631.3,794.8 628.7,796.8 626.2,798.8 623.8,800.8 621.4,802.8 619,804.7 616.8,806.5 614.5,808.2 612.3,809.9 610.1,811.6 607.9,813.3 605.8,814.9 603.7,816.6 601.6,818.3 599.6,820 597.5,821.7 595.5,823.5 593.5,825.4 591.5,827.4 589.4,829.5 587.4,831.6 585.4,833.8 583.5,835.9 581.6,837.9 579.9,839.8 578.3,841.6 576.9,843.2 575.8,844.5 574.8,845.5" stroke="#777" stroke-width="0.6" fill="none"/>
<path d="M847,380.4 C842.6,385.3 828.7,399.6 820.9,410 C813.1,420.4 806,433.8 800,443 C794,452.2 789.8,457.2 785,465 C780.2,472.8 775.5,480.8 771,490 C766.5,499.2 761.7,510.3 758,520 C754.3,529.7 751.3,539.3 749,548 C746.7,556.7 745.2,565 744,572 C742.8,579 742.3,587 742,590" stroke="#777" stroke-width="0.6" fill="none"/>
<polygon points="816.5,449.6 836,455.1 799.8,552.5 779,549.7" stroke="#444" stroke-width="0.7" fill="none"/>
<polygon points="821,453 831,455.5 796,549 784,548" stroke="#777" stroke-width="0.6" fill="none"/>
<line x1="812" y1="462" x2="832" y2="467" stroke="#777" stroke-width="0.6" fill="none"/>
<line x1="795" y1="505" x2="815" y2="510" stroke="#777" stroke-width="0.6" fill="none"/>
<polygon points="748.3,542.8 791.5,563.6 784.5,580.3 745.6,569.2" stroke="#444" stroke-width="0.7" fill="none"/>
<clipPath id="c1239"><polygon points="750,548 766,555 762,570 747,566"/></clipPath><g clip-path="url(#c1239)" stroke="#555" stroke-width="0.5"><line x1="756.5" y1="537" x2="778.5" y2="559"/><line x1="755.5" y1="538" x2="777.5" y2="560"/><line x1="754.5" y1="539" x2="776.5" y2="561"/><line x1="753.5" y1="540" x2="775.5" y2="562"/><line x1="752.5" y1="541" x2="774.5" y2="563"/><line x1="751.6" y1="542" x2="773.5" y2="563.9"/><line x1="750.6" y1="543" x2="772.5" y2="564.9"/><line x1="749.6" y1="544" x2="771.5" y2="565.9"/><line x1="748.6" y1="545" x2="770.5" y2="566.9"/><line x1="747.6" y1="545.9" x2="769.6" y2="567.9"/><line x1="746.6" y1="546.9" x2="768.6" y2="568.9"/><line x1="745.6" y1="547.9" x2="767.6" y2="569.9"/><line x1="744.6" y1="548.9" x2="766.6" y2="570.9"/><line x1="743.6" y1="549.9" x2="765.6" y2="571.9"/><line x1="742.6" y1="550.9" x2="764.6" y2="572.9"/><line x1="741.7" y1="551.9" x2="763.6" y2="573.8"/><line x1="740.7" y1="552.9" x2="762.6" y2="574.8"/><line x1="739.7" y1="553.9" x2="761.6" y2="575.8"/><line x1="738.7" y1="554.9" x2="760.6" y2="576.8"/><line x1="737.7" y1="555.8" x2="759.7" y2="577.8"/><line x1="736.7" y1="556.8" x2="758.7" y2="578.8"/><line x1="735.7" y1="557.8" x2="757.7" y2="579.8"/><line x1="734.7" y1="558.8" x2="756.7" y2="580.8"/></g>
<clipPath id="c1240"><polygon points="772,558 789,566 784,578 768,573"/></clipPath><g clip-path="url(#c1240)" stroke="#555" stroke-width="0.5"><line x1="778.5" y1="546.1" x2="800.4" y2="568"/><line x1="777.5" y1="547.1" x2="799.4" y2="569"/><line x1="776.5" y1="548.1" x2="798.4" y2="570"/><line x1="775.5" y1="549" x2="797.5" y2="571"/><line x1="774.5" y1="550" x2="796.5" y2="572"/><line x1="773.6" y1="551" x2="795.5" y2="572.9"/><line x1="772.6" y1="552" x2="794.5" y2="573.9"/><line x1="771.6" y1="553" x2="793.5" y2="574.9"/><line x1="770.6" y1="554" x2="792.5" y2="575.9"/><line x1="769.6" y1="555" x2="791.5" y2="576.9"/><line x1="768.6" y1="556" x2="790.5" y2="577.9"/><line x1="767.6" y1="557" x2="789.5" y2="578.9"/><line x1="766.6" y1="558" x2="788.5" y2="579.9"/><line x1="765.6" y1="558.9" x2="787.6" y2="580.9"/><line x1="764.6" y1="559.9" x2="786.6" y2="581.9"/><line x1="763.7" y1="560.9" x2="785.6" y2="582.8"/><line x1="762.7" y1="561.9" x2="784.6" y2="583.8"/><line x1="761.7" y1="562.9" x2="783.6" y2="584.8"/><line x1="760.7" y1="563.9" x2="782.6" y2="585.8"/><line x1="759.7" y1="564.9" x2="781.6" y2="586.8"/><line x1="758.7" y1="565.9" x2="780.6" y2="587.8"/><line x1="757.7" y1="566.9" x2="779.6" y2="588.8"/><line x1="756.7" y1="567.9" x2="778.6" y2="589.8"/></g>
<polygon points="752,545 789,563 783,578 748,568" stroke="#777" stroke-width="0.6" fill="none"/>
<line x1="698.8" y1="582.8" x2="789.9" y2="582.8" stroke="#444" stroke-width="0.7" fill="none"/>
<line x1="698.8" y1="591.5" x2="789.9" y2="591.5" stroke="#444" stroke-width="0.7" fill="none"/>
<line x1="690" y1="586.5" x2="698.8" y2="586.5" stroke="#777" stroke-width="0.6" fill="none"/>
<text transform="translate(748,584.5) scale(0.7,1)" font-size="3.1" text-anchor="middle" fill="#555" font-family="Liberation Mono">━━━━━━</text>
<text transform="translate(749,589) scale(0.7,1)" font-size="3.1" text-anchor="middle" fill="#555" font-family="Liberation Mono">━━━━━</text>
<circle cx="706.5" cy="632" r="12.3" stroke="#444" stroke-width="0.7" fill="none"/>
<circle cx="700" cy="620" r="0.9" fill="#000"/>
<circle cx="712" cy="644" r="0.9" fill="#000"/>
<circle cx="699" cy="641" r="0.9" fill="#000"/>
<path d="M608.8,660.6 C612.3,659.3 623.3,654.5 630,653 C636.7,651.5 641.4,650.8 648.8,651.6 C656.2,652.4 667.6,653.9 674.5,658 C681.4,662.1 686.1,671.9 690,676 C693.9,680.1 696.4,681.4 697.7,682.5" stroke="#777" stroke-width="0.6" fill="none"/>
<defs><pattern id="dp" width="6" height="6" patternUnits="userSpaceOnUse"><circle cx="1" cy="1" r="0.6" fill="#222"/><circle cx="4" cy="4" r="0.6" fill="#222"/></pattern></defs>
<path d="M550.9,846 C558.6,843.4 563.8,838.2 571.5,833.1 C579.2,828 588.7,822.4 597.3,815.1 C605.9,807.8 617.4,795.2 623,789.4 C628.6,783.5 629.7,783.4 631,780 C632.3,776.6 632,772.4 630.7,768.8 C629.4,765.2 626.9,760.6 623,758.5 C619.1,756.4 611.9,755.9 607.6,755.9 C603.3,755.9 601.9,755.3 597.3,758.5 C592.7,761.7 586.2,768.1 580,775 C573.8,781.9 566.7,791.7 560,800 C553.3,808.3 545.8,816.9 540,825 C534.2,833.1 523.4,845.1 525.2,848.6 C527,852.1 543.2,848.6 550.9,846Z" fill="url(#dp)" stroke="#555" stroke-width="0.6"/>
<path d="M630.7,719.8 C635.9,715.9 653,710.6 664.2,704.4 C675.4,698.2 691.7,683.8 697.7,682.5 C703.7,681.2 704.2,689.2 700.3,696.7 C696.4,704.2 683.1,716.9 674.5,727.6 C665.9,738.3 654.4,754.6 648.8,761 C643.2,767.4 642.8,768.9 641,766.2 C639.2,763.5 639.3,751.4 638,745 C636.7,738.6 634.2,732.2 633,728 C631.8,723.8 625.5,723.7 630.7,719.8Z" fill="url(#dp)" stroke="#555" stroke-width="0.6"/>
<path d="M631,717.5 C636.5,714.9 653,708.2 664,702 C675,695.8 691.5,683.7 697,680" stroke="#777" stroke-width="0.6" fill="none"/>
<polygon points="617.9,753.3 635.9,735.3 641,743 623,758.5" stroke="#777" stroke-width="0.6" fill="none"/>
<clipPath id="c1257"><polygon points="617.9,753.3 635.9,735.3 641,743 623,758.5"/></clipPath><g clip-path="url(#c1257)" stroke="#555" stroke-width="0.5"><line x1="604.9" y1="746.9" x2="629.5" y2="722.3"/><line x1="605.7" y1="747.7" x2="630.2" y2="723.1"/><line x1="606.4" y1="748.5" x2="631" y2="723.9"/><line x1="607.2" y1="749.2" x2="631.8" y2="724.7"/><line x1="608" y1="750" x2="632.6" y2="725.4"/><line x1="608.8" y1="750.8" x2="633.3" y2="726.2"/><line x1="609.6" y1="751.6" x2="634.1" y2="727"/><line x1="610.3" y1="752.3" x2="634.9" y2="727.8"/><line x1="611.1" y1="753.1" x2="635.7" y2="728.6"/><line x1="611.9" y1="753.9" x2="636.5" y2="729.3"/><line x1="612.7" y1="754.7" x2="637.2" y2="730.1"/><line x1="613.4" y1="755.5" x2="638" y2="730.9"/><line x1="614.2" y1="756.2" x2="638.8" y2="731.7"/><line x1="615" y1="757" x2="639.6" y2="732.4"/><line x1="615.8" y1="757.8" x2="640.3" y2="733.2"/><line x1="616.6" y1="758.6" x2="641.1" y2="734"/><line x1="617.3" y1="759.3" x2="641.9" y2="734.8"/><line x1="618.1" y1="760.1" x2="642.7" y2="735.6"/><line x1="618.9" y1="760.9" x2="643.5" y2="736.3"/><line x1="619.7" y1="761.7" x2="644.2" y2="737.1"/><line x1="620.4" y1="762.5" x2="645" y2="737.9"/><line x1="621.2" y1="763.2" x2="645.8" y2="738.7"/><line x1="622" y1="764" x2="646.6" y2="739.4"/><line x1="622.8" y1="764.8" x2="647.3" y2="740.2"/><line x1="623.6" y1="765.6" x2="648.1" y2="741"/><line x1="624.3" y1="766.3" x2="648.9" y2="741.8"/><line x1="625.1" y1="767.1" x2="649.7" y2="742.6"/><line x1="625.9" y1="767.9" x2="650.5" y2="743.3"/><line x1="626.7" y1="768.7" x2="651.2" y2="744.1"/><line x1="627.4" y1="769.5" x2="652" y2="744.9"/><line x1="628.2" y1="770.2" x2="652.8" y2="745.7"/><line x1="629" y1="771" x2="653.6" y2="746.4"/></g>
<rect x="696" y="558" width="2" height="2" fill="#000"/>
<rect x="724" y="566" width="2" height="2" fill="#000"/>
<rect x="749" y="577" width="2" height="2" fill="#000"/>
<rect x="679" y="561" width="2" height="2" fill="#000"/>
<g transform="translate(813.6,542.5) rotate(15.7)"><line x1="-2" y1="0" x2="196" y2="0" stroke="#444" stroke-width="0.7" fill="none"/><line x1="-2" y1="2.2" x2="196" y2="2.2" stroke="#444" stroke-width="0.7" fill="none"/><line x1="-2.4" y1="23.9" x2="196" y2="23.9" stroke="#444" stroke-width="0.7" fill="none"/><line x1="-2" y1="0" x2="-2.4" y2="23.9" stroke="#444" stroke-width="0.7" fill="none"/><line x1="21.2" y1="2.2" x2="18.2" y2="23.9" stroke="#444" stroke-width="0.7" fill="none"/><line x1="33" y1="2.2" x2="30" y2="23.9" stroke="#444" stroke-width="0.7" fill="none"/><line x1="45" y1="2.2" x2="42" y2="23.9" stroke="#444" stroke-width="0.7" fill="none"/><line x1="69" y1="2.2" x2="66" y2="23.9" stroke="#444" stroke-width="0.7" fill="none"/><line x1="93" y1="2.2" x2="90" y2="23.9" stroke="#444" stroke-width="0.7" fill="none"/><line x1="106" y1="2.2" x2="103" y2="23.9" stroke="#444" stroke-width="0.7" fill="none"/><line x1="117" y1="2.2" x2="114" y2="23.9" stroke="#444" stroke-width="0.7" fill="none"/><line x1="141" y1="2.2" x2="138" y2="23.9" stroke="#444" stroke-width="0.7" fill="none"/><line x1="165" y1="2.2" x2="162" y2="23.9" stroke="#444" stroke-width="0.7" fill="none"/><line x1="189" y1="2.2" x2="186" y2="23.9" stroke="#444" stroke-width="0.7" fill="none"/><circle cx="18.2" cy="23.9" r="1.4" fill="#000"/><circle cx="42" cy="23.9" r="1.4" fill="#000"/><circle cx="66" cy="23.9" r="1.4" fill="#000"/><circle cx="90" cy="23.9" r="1.4" fill="#000"/><circle cx="114" cy="23.9" r="1.4" fill="#000"/><circle cx="138" cy="23.9" r="1.4" fill="#000"/><circle cx="162" cy="23.9" r="1.4" fill="#000"/><circle cx="186" cy="23.9" r="1.4" fill="#000"/><line x1="67" y1="16" x2="91" y2="16" stroke="#777" stroke-width="0.6" fill="none"/><line x1="115" y1="16" x2="139" y2="16" stroke="#777" stroke-width="0.6" fill="none"/><line x1="163" y1="16" x2="187" y2="16" stroke="#777" stroke-width="0.6" fill="none"/><line x1="-8.6" y1="47.7" x2="200" y2="47.7" stroke="#444" stroke-width="0.7" fill="none"/><line x1="-8.6" y1="73.2" x2="200" y2="73.2" stroke="#444" stroke-width="0.7" fill="none"/><line x1="-8.6" y1="75.4" x2="200" y2="75.4" stroke="#444" stroke-width="0.7" fill="none"/><line x1="-8.6" y1="47.7" x2="-8.6" y2="75.4" stroke="#444" stroke-width="0.7" fill="none"/><line x1="11" y1="47.7" x2="8" y2="73.2" stroke="#444" stroke-width="0.7" fill="none"/><line x1="33" y1="47.7" x2="30" y2="73.2" stroke="#444" stroke-width="0.7" fill="none"/><line x1="57" y1="47.7" x2="54" y2="73.2" stroke="#444" stroke-width="0.7" fill="none"/><line x1="81" y1="47.7" x2="78" y2="73.2" stroke="#444" stroke-width="0.7" fill="none"/><line x1="105" y1="47.7" x2="102" y2="73.2" stroke="#444" stroke-width="0.7" fill="none"/><line x1="129" y1="47.7" x2="126" y2="73.2" stroke="#444" stroke-width="0.7" fill="none"/><line x1="141" y1="47.7" x2="138" y2="73.2" stroke="#444" stroke-width="0.7" fill="none"/><line x1="153" y1="47.7" x2="150" y2="73.2" stroke="#444" stroke-width="0.7" fill="none"/><line x1="177" y1="47.7" x2="174" y2="73.2" stroke="#444" stroke-width="0.7" fill="none"/><line x1="199" y1="47.7" x2="196" y2="73.2" stroke="#444" stroke-width="0.7" fill="none"/><circle cx="18.6" cy="47.7" r="1.4" fill="#000"/><circle cx="42.6" cy="47.7" r="1.4" fill="#000"/><circle cx="66.6" cy="47.7" r="1.4" fill="#000"/><circle cx="90.6" cy="47.7" r="1.4" fill="#000"/><circle cx="114.6" cy="47.7" r="1.4" fill="#000"/><circle cx="138.6" cy="47.7" r="1.4" fill="#000"/><circle cx="162.6" cy="47.7" r="1.4" fill="#000"/><circle cx="186.6" cy="47.7" r="1.4" fill="#000"/><line x1="55" y1="58" x2="79" y2="58" stroke="#777" stroke-width="0.6" fill="none"/><line x1="103" y1="58" x2="127" y2="58" stroke="#777" stroke-width="0.6" fill="none"/></g>
<text transform="translate(823,557) scale(0.7,1)" font-size="4" text-anchor="middle" fill="#666" font-family="Liberation Mono">S1</text>
<text transform="translate(823,560) scale(0.7,1)" font-size="3.7" text-anchor="middle" fill="#666" font-family="Liberation Mono">20m²</text>
<text transform="translate(838,563) scale(0.7,1)" font-size="4" text-anchor="middle" fill="#666" font-family="Liberation Mono">S2</text>
<text transform="translate(838,566) scale(0.7,1)" font-size="3.7" text-anchor="middle" fill="#666" font-family="Liberation Mono">20m²</text>
<text transform="translate(850,565) scale(0.7,1)" font-size="4" text-anchor="middle" fill="#666" font-family="Liberation Mono">S3</text>
<text transform="translate(850,568) scale(0.7,1)" font-size="3.7" text-anchor="middle" fill="#666" font-family="Liberation Mono">20m²</text>
<text transform="translate(868,573) scale(0.7,1)" font-size="4" text-anchor="middle" fill="#666" font-family="Liberation Mono">S4</text>
<text transform="translate(868,576) scale(0.7,1)" font-size="3.7" text-anchor="middle" fill="#666" font-family="Liberation Mono">20m²</text>
<text transform="translate(892,579) scale(0.7,1)" font-size="4" text-anchor="middle" fill="#666" font-family="Liberation Mono">S5</text>
<text transform="translate(892,582) scale(0.7,1)" font-size="3.7" text-anchor="middle" fill="#666" font-family="Liberation Mono">20m²</text>
<text transform="translate(912,587) scale(0.7,1)" font-size="4" text-anchor="middle" fill="#666" font-family="Liberation Mono">S6</text>
<text transform="translate(912,590) scale(0.7,1)" font-size="3.7" text-anchor="middle" fill="#666" font-family="Liberation Mono">20m²</text>
<text transform="translate(930,591) scale(0.7,1)" font-size="4" text-anchor="middle" fill="#666" font-family="Liberation Mono">S7</text>
<text transform="translate(930,594) scale(0.7,1)" font-size="3.7" text-anchor="middle" fill="#666" font-family="Liberation Mono">20m²</text>
<text transform="translate(944,596) scale(0.7,1)" font-size="4" text-anchor="middle" fill="#666" font-family="Liberation Mono">S8</text>
<text transform="translate(944,599) scale(0.7,1)" font-size="3.7" text-anchor="middle" fill="#666" font-family="Liberation Mono">20m²</text>
<text transform="translate(962,602) scale(0.7,1)" font-size="4" text-anchor="middle" fill="#666" font-family="Liberation Mono">S9</text>
<text transform="translate(962,605) scale(0.7,1)" font-size="3.7" text-anchor="middle" fill="#666" font-family="Liberation Mono">20m²</text>
<text transform="translate(985,607) scale(0.7,1)" font-size="4" text-anchor="middle" fill="#666" font-family="Liberation Mono">S10</text>
<text transform="translate(985,610) scale(0.7,1)" font-size="3.7" text-anchor="middle" fill="#666" font-family="Liberation Mono">20m²</text>
<text transform="translate(830,604) scale(0.7,1)" font-size="4" text-anchor="middle" fill="#666" font-family="Liberation Mono">S11</text>
<text transform="translate(830,607) scale(0.7,1)" font-size="3.7" text-anchor="middle" fill="#666" font-family="Liberation Mono">20m²</text>
<text transform="translate(850,611) scale(0.7,1)" font-size="4" text-anchor="middle" fill="#666" font-family="Liberation Mono">S12</text>
<text transform="translate(850,614) scale(0.7,1)" font-size="3.7" text-anchor="middle" fill="#666" font-family="Liberation Mono">20m²</text>
<text transform="translate(872,616) scale(0.7,1)" font-size="4" text-anchor="middle" fill="#666" font-family="Liberation Mono">S13</text>
<text transform="translate(872,619) scale(0.7,1)" font-size="3.7" text-anchor="middle" fill="#666" font-family="Liberation Mono">20m²</text>
<text transform="translate(896,623) scale(0.7,1)" font-size="4" text-anchor="middle" fill="#666" font-family="Liberation Mono">S14</text>
<text transform="translate(896,626) scale(0.7,1)" font-size="3.7" text-anchor="middle" fill="#666" font-family="Liberation Mono">20m²</text>
<text transform="translate(918,629) scale(0.7,1)" font-size="4" text-anchor="middle" fill="#666" font-family="Liberation Mono">S15</text>
<text transform="translate(918,632) scale(0.7,1)" font-size="3.7" text-anchor="middle" fill="#666" font-family="Liberation Mono">20m²</text>
<text transform="translate(936,634) scale(0.7,1)" font-size="4" text-anchor="middle" fill="#666" font-family="Liberation Mono">S16</text>
<text transform="translate(936,637) scale(0.7,1)" font-size="3.7" text-anchor="middle" fill="#666" font-family="Liberation Mono">20m²</text>
<text transform="translate(952,637) scale(0.7,1)" font-size="4" text-anchor="middle" fill="#666" font-family="Liberation Mono">S17</text>
<text transform="translate(952,640) scale(0.7,1)" font-size="3.7" text-anchor="middle" fill="#666" font-family="Liberation Mono">20m²</text>
<text transform="translate(970,642) scale(0.7,1)" font-size="4" text-anchor="middle" fill="#666" font-family="Liberation Mono">S18</text>
<text transform="translate(970,645) scale(0.7,1)" font-size="3.7" text-anchor="middle" fill="#666" font-family="Liberation Mono">20m²</text>
<text transform="translate(990,646) scale(0.7,1)" font-size="4" text-anchor="middle" fill="#666" font-family="Liberation Mono">S19</text>
<text transform="translate(990,649) scale(0.7,1)" font-size="3.7" text-anchor="middle" fill="#666" font-family="Liberation Mono">20m²</text>
<polyline points="1010.5,548.8 1030.9,552 1016.8,644.4 993.3,644.4 999.6,620.9 1010.5,548.8" stroke="#444" stroke-width="0.7" fill="none"/>
<polyline points="1012,553 1027,555.5 1014,640" stroke="#777" stroke-width="0.6" fill="none"/>
<line x1="1020.5" y1="555" x2="1010" y2="640" stroke="#777" stroke-width="0.6" fill="none"/>
<polygon points="1010.1,558 1024.1,559 1019.2,577 1006.2,577" stroke="#444" stroke-width="0.7" fill="none"/>
<clipPath id="c1305"><polygon points="1010.1,558 1024.1,559 1019.2,577 1006.2,577"/></clipPath><g clip-path="url(#c1305)" stroke="#666" stroke-width="0.6"><line x1="995.6" y1="570.9" x2="1011.7" y2="547.9"/><line x1="996.8" y1="571.8" x2="1013" y2="548.8"/><line x1="998.1" y1="572.7" x2="1014.2" y2="549.7"/><line x1="999.3" y1="573.5" x2="1015.4" y2="550.5"/><line x1="1000.5" y1="574.4" x2="1016.6" y2="551.4"/><line x1="1001.8" y1="575.3" x2="1017.9" y2="552.2"/><line x1="1003" y1="576.1" x2="1019.1" y2="553.1"/><line x1="1004.2" y1="577" x2="1020.3" y2="554"/><line x1="1005.4" y1="577.8" x2="1021.6" y2="554.8"/><line x1="1006.7" y1="578.7" x2="1022.8" y2="555.7"/><line x1="1007.9" y1="579.6" x2="1024" y2="556.5"/><line x1="1009.1" y1="580.4" x2="1025.2" y2="557.4"/><line x1="1010.4" y1="581.3" x2="1026.5" y2="558.3"/><line x1="1011.6" y1="582.1" x2="1027.7" y2="559.1"/><line x1="1012.8" y1="583" x2="1028.9" y2="560"/><line x1="1014" y1="583.9" x2="1030.2" y2="560.8"/><line x1="1015.3" y1="584.7" x2="1031.4" y2="561.7"/><line x1="1016.5" y1="585.6" x2="1032.6" y2="562.6"/><line x1="1017.7" y1="586.4" x2="1033.8" y2="563.4"/></g>
<polygon points="1006.5,582 1020.5,583 1016.2,597 1003.2,597" stroke="#444" stroke-width="0.7" fill="none"/>
<clipPath id="c1307"><polygon points="1006.5,582 1020.5,583 1016.2,597 1003.2,597"/></clipPath><g clip-path="url(#c1307)" stroke="#666" stroke-width="0.6"><line x1="994.5" y1="592.6" x2="1008.8" y2="572.2"/><line x1="995.8" y1="593.4" x2="1010" y2="573"/><line x1="997" y1="594.3" x2="1011.3" y2="573.9"/><line x1="998.2" y1="595.1" x2="1012.5" y2="574.8"/><line x1="999.4" y1="596" x2="1013.7" y2="575.6"/><line x1="1000.7" y1="596.9" x2="1014.9" y2="576.5"/><line x1="1001.9" y1="597.7" x2="1016.2" y2="577.3"/><line x1="1003.1" y1="598.6" x2="1017.4" y2="578.2"/><line x1="1004.4" y1="599.4" x2="1018.6" y2="579.1"/><line x1="1005.6" y1="600.3" x2="1019.9" y2="579.9"/><line x1="1006.8" y1="601.2" x2="1021.1" y2="580.8"/><line x1="1008" y1="602" x2="1022.3" y2="581.6"/><line x1="1009.3" y1="602.9" x2="1023.5" y2="582.5"/><line x1="1010.5" y1="603.7" x2="1024.8" y2="583.4"/><line x1="1011.7" y1="604.6" x2="1026" y2="584.2"/><line x1="1013" y1="605.5" x2="1027.2" y2="585.1"/><line x1="1014.2" y1="606.3" x2="1028.5" y2="585.9"/></g>
<polygon points="1003,605 1017,606 1012.6,621 999.6,621" stroke="#444" stroke-width="0.7" fill="none"/>
<clipPath id="c1309"><polygon points="1003,605 1017,606 1012.6,621 999.6,621"/></clipPath><g clip-path="url(#c1309)" stroke="#666" stroke-width="0.6"><line x1="990.4" y1="616.1" x2="1005.1" y2="595.1"/><line x1="991.7" y1="617" x2="1006.4" y2="596"/><line x1="992.9" y1="617.9" x2="1007.6" y2="596.9"/><line x1="994.1" y1="618.7" x2="1008.8" y2="597.7"/><line x1="995.3" y1="619.6" x2="1010.1" y2="598.6"/><line x1="996.6" y1="620.5" x2="1011.3" y2="599.4"/><line x1="997.8" y1="621.3" x2="1012.5" y2="600.3"/><line x1="999" y1="622.2" x2="1013.7" y2="601.2"/><line x1="1000.3" y1="623" x2="1015" y2="602"/><line x1="1001.5" y1="623.9" x2="1016.2" y2="602.9"/><line x1="1002.7" y1="624.8" x2="1017.4" y2="603.7"/><line x1="1003.9" y1="625.6" x2="1018.7" y2="604.6"/><line x1="1005.2" y1="626.5" x2="1019.9" y2="605.5"/><line x1="1006.4" y1="627.3" x2="1021.1" y2="606.3"/><line x1="1007.6" y1="628.2" x2="1022.3" y2="607.2"/><line x1="1008.9" y1="629.1" x2="1023.6" y2="608"/><line x1="1010.1" y1="629.9" x2="1024.8" y2="608.9"/><line x1="1011.3" y1="630.8" x2="1026" y2="609.8"/></g>
<path d="M993.3,644.4 C993.6,647 994.2,650.9 995,660 C995.8,669.1 995.8,686.8 998,699.3 C1000.2,711.8 1003.8,724.3 1008,735 C1012.2,745.7 1020.5,758.8 1023,763.5" stroke="#444" stroke-width="0.7" fill="none"/>
<path d="M1013.7,646 C1013.8,649.2 1013.8,656.7 1014,665 C1014.2,673.3 1013.4,686 1015.2,696 C1017,706 1020.8,715.8 1025,725 C1029.2,734.2 1037.8,746.7 1040.3,751" stroke="#444" stroke-width="0.7" fill="none"/>
<path d="M1003.5,645 C1003.7,647.8 1004,653.2 1004.5,662 C1005,670.8 1004.6,686.7 1006.6,698 C1008.6,709.3 1012.3,720.2 1016.5,730 C1020.7,739.8 1029.2,752.5 1031.7,757" stroke="#777" stroke-width="0.6" fill="none"/>
<path d="M1000,645 C1000.2,647.8 1000.5,653.2 1001,662 C1001.5,670.8 1001,686.3 1003,698 C1005,709.7 1009,721.7 1013,732 C1017,742.3 1024.7,755.3 1027,760" stroke="#777" stroke-width="0.6" fill="none"/>
<path d="M1008,645 C1008.1,647.8 1008.1,653.3 1008.5,662 C1008.9,670.7 1008.5,686 1010.5,697 C1012.5,708 1016.3,718.5 1020.5,728 C1024.7,737.5 1033,749.7 1035.5,754" stroke="#777" stroke-width="0.6" fill="none"/>
<line x1="1023" y1="763.5" x2="1040.3" y2="751" stroke="#444" stroke-width="0.7" fill="none"/>
<line x1="996" y1="680" x2="1014.5" y2="680" stroke="#777" stroke-width="0.6" fill="none"/>
<line x1="998" y1="700" x2="1015.5" y2="700" stroke="#777" stroke-width="0.6" fill="none"/>
<polygon points="929.3,34.7 960,34.7 960,38.7 1009.4,38.7 1009.4,22.7 1034.7,22.7 1069.4,29.3 1082.8,32 1138.8,32 1138.8,60 1149.5,60 1149.5,102.7 1141.5,112 1133.4,119.3 1127,135.8 1119,154.5 1104.9,168.6 1092.4,178.2 1086.2,189.2 1083,201.7 1037.4,202.8 1037.4,218.8 984,218.8 984,145.4 978.7,145.4 978.7,88 968,88 968,84 929.3,84" stroke="#444" stroke-width="0.7" fill="none"/>
<polyline points="989.4,92 1069.4,92" stroke="#777" stroke-width="0.6" fill="none"/>
<polyline points="1069.4,62.7 1069.4,92" stroke="#777" stroke-width="0.6" fill="none"/>
<polyline points="1069.4,73.4 1138.8,73.4" stroke="#777" stroke-width="0.6" fill="none"/>
<polyline points="1099.3,73.4 1099.3,132.1" stroke="#777" stroke-width="0.6" fill="none"/>
<polyline points="1058.7,132.1 1122.8,132.1" stroke="#777" stroke-width="0.6" fill="none"/>
<polyline points="1018.7,92 1018.7,132.1" stroke="#777" stroke-width="0.6" fill="none"/>
<polyline points="978.7,132.1 1018.7,132.1" stroke="#777" stroke-width="0.6" fill="none"/>
<polyline points="984,137.4 994.7,137.4 994.7,145.4" stroke="#777" stroke-width="0.6" fill="none"/>
<polyline points="1029.4,153.4 1050.7,150.7 1058.7,132.1" stroke="#777" stroke-width="0.6" fill="none"/>
<polyline points="1050.7,150.7 1058.7,177.4" stroke="#777" stroke-width="0.6" fill="none"/>
<polyline points="1058.7,177.4 1058.7,202.8" stroke="#777" stroke-width="0.6" fill="none"/>
<polyline points="992,154.7 1037.4,154.7" stroke="#777" stroke-width="0.6" fill="none"/>
<polyline points="992,154.7 992,218.8" stroke="#777" stroke-width="0.6" fill="none"/>
<polyline points="992,185.4 1013.4,185.4" stroke="#777" stroke-width="0.6" fill="none"/>
<polyline points="1013.4,172.1 1013.4,218.8" stroke="#777" stroke-width="0.6" fill="none"/>
<polyline points="1014.7,174.7 1037.4,174.7 1037.4,180.1 1058.7,180.1" stroke="#777" stroke-width="0.6" fill="none"/>
<polyline points="992,204.1 1013.4,204.1" stroke="#777" stroke-width="0.6" fill="none"/>
<polyline points="960,38.7 960,84" stroke="#777" stroke-width="0.6" fill="none"/>
<polyline points="989.4,52 989.4,92" stroke="#777" stroke-width="0.6" fill="none"/>
<polyline points="1009.4,38.7 1026.7,54.7 1058.7,68 1069.4,62.7" stroke="#777" stroke-width="0.6" fill="none"/>
<polyline points="1058.7,54.7 1069.4,29.3" stroke="#777" stroke-width="0.6" fill="none"/>
<polyline points="1026.7,54.7 1032.1,38.7" stroke="#777" stroke-width="0.6" fill="none"/>
<polyline points="1122.8,33.3 1122.8,60" stroke="#777" stroke-width="0.6" fill="none"/>
<polyline points="1106.8,54.7 1138.8,54.7" stroke="#777" stroke-width="0.6" fill="none"/>
<polyline points="993.4,188.1 1012,188.1" stroke="#777" stroke-width="0.6" fill="none"/>
<polyline points="1010.7,180.1 1036.1,180.1" stroke="#777" stroke-width="0.6" fill="none"/>
<path d="M1059.5,127.5 C1061.3,126.3 1063.8,130.6 1066,131 C1068.2,131.4 1070.8,128.5 1073,130 C1075.2,131.5 1077.6,136.4 1079,140 C1080.4,143.6 1081.5,147.4 1081.5,151.4 C1081.5,155.4 1080.6,160.1 1079,164 C1077.4,167.9 1074.3,173.3 1072,175 C1069.7,176.7 1067.3,174.2 1065,174 C1062.7,173.8 1059.8,175.5 1058,173.5 C1056.2,171.5 1055.3,165.7 1054,162 C1052.7,158.3 1049.8,155.4 1050,151.4 C1050.2,147.4 1053.4,142 1055,138 C1056.6,134 1057.7,128.7 1059.5,127.5Z" stroke="#777" stroke-width="0.6" fill="none"/>
<path d="M944,44 C943.1,45.8 939.6,50.7 938.7,54.7 C937.8,58.7 937.8,64.9 938.7,68 C939.6,71.1 943.1,72.5 944,73.4" stroke="#777" stroke-width="0.6" fill="none"/>
<rect x="938.7" y="53.4" width="21.3" height="20" fill="#1a1a1a"/>
<rect x="960" y="73.4" width="9.3" height="10.7" fill="#6a6a6a"/>
<rect x="980" y="92" width="9.3" height="10.7" fill="#6a6a6a"/>
<rect x="980" y="112" width="9.3" height="10.7" fill="#6a6a6a"/>
<rect x="1009.4" y="137.4" width="20" height="14.7" fill="#1a1a1a"/>
<rect x="1020.1" y="201.4" width="13.3" height="17.3" fill="#6a6a6a"/>
<rect x="1082.8" y="32" width="24" height="7.2" fill="#1a1a1a"/>
<rect x="1109.4" y="62.7" width="24" height="10.7" fill="#1a1a1a"/>
<rect x="1138.8" y="73.4" width="10.7" height="10.7" fill="#1a1a1a"/>
<rect x="1056.1" y="92" width="16" height="9.3" fill="#6a6a6a"/>
<rect x="1045.4" y="172.1" width="13.3" height="5.3" fill="#6a6a6a"/>
<rect x="994.7" y="137.4" width="10.7" height="5.3" fill="#333"/>
<rect x="1138.8" y="92" width="10.7" height="9.3" fill="#6a6a6a"/>
<rect x="1109.4" y="56" width="9.3" height="6.7" fill="#333"/>
<rect x="984" y="213.4" width="8" height="5.3" fill="#6a6a6a"/>
<rect x="948" y="42.7" width="12" height="5.3" fill="#888"/>
<rect x="990.7" y="60" width="8" height="3.2" fill="#888"/>
<rect x="990.7" y="69.4" width="8" height="3.2" fill="#888"/>
<rect x="1058.7" y="86.7" width="8" height="4" fill="#888"/>
<rect x="994.7" y="137.4" width="10.7" height="4" fill="#222"/>
<rect x="1016.1" y="153.4" width="4" height="10.7" fill="#6a6a6a"/>
<rect x="949.3" y="57.4" width="3.2" height="1.8" stroke="none" fill="#ddd"/>
<rect x="953.4" y="69.4" width="3.2" height="1.8" stroke="none" fill="#ddd"/>
<rect x="1013.4" y="142.7" width="3.2" height="1.8" stroke="none" fill="#ddd"/>
<rect x="1024.1" y="142.7" width="3.2" height="1.8" stroke="none" fill="#ddd"/>
<rect x="1090.8" y="34.7" width="3.2" height="1.8" stroke="none" fill="#ddd"/>
<rect x="1114.8" y="68" width="3.2" height="1.8" stroke="none" fill="#ddd"/>
<rect x="1141.5" y="77.4" width="3.2" height="1.8" stroke="none" fill="#ddd"/>
<rect x="1064.1" y="96" width="3.2" height="1.8" stroke="none" fill="#ddd"/>
<rect x="982.7" y="97.4" width="3.2" height="1.8" stroke="none" fill="#ddd"/>
<rect x="982.7" y="116.6" width="3.2" height="1.8" stroke="none" fill="#ddd"/>
<rect x="1025.4" y="209.4" width="3.2" height="1.8" stroke="none" fill="#ddd"/>
<rect x="1030.7" y="40.3" width="10.7" height="8.5" fill="#555" transform="rotate(-25 1036.1 44.5)"/>
<rect x="1052.1" y="40.8" width="8" height="10.1" fill="#1a1a1a" transform="rotate(-25 1056.1 45.9)"/>
<rect x="1059.4" y="50.9" width="12" height="10.1" fill="#6a6a6a" transform="rotate(-25 1065.4 56)"/>
<rect x="1107.4" y="39.3" width="12" height="14.7" fill="#6a6a6a" transform="rotate(12 1113.4 46.7)"/>
<rect x="1090.8" y="32.5" width="10.7" height="5.9" fill="#2a2a2a" transform="rotate(10 1096.1 35.5)"/>
<polygon points="1009.4,53.4 1016.1,48 1024.1,53.4" stroke="none" fill="#111"/>
<circle cx="977.4" cy="57.4" r="1.6" stroke="#777" stroke-width="0.6" fill="none"/>
<circle cx="1026.7" cy="68.6" r="1.6" stroke="#777" stroke-width="0.6" fill="none"/>
<circle cx="1040.1" cy="113.9" r="1.6" stroke="#777" stroke-width="0.6" fill="none"/>
<circle cx="1004" cy="113.4" r="1.6" stroke="#777" stroke-width="0.6" fill="none"/>
<circle cx="1041.4" cy="169.4" r="1.6" stroke="#777" stroke-width="0.6" fill="none"/>
<circle cx="1088.1" cy="149.4" r="1.6" stroke="#777" stroke-width="0.6" fill="none"/>
<circle cx="1121.4" cy="94.7" r="1.6" stroke="#777" stroke-width="0.6" fill="none"/>
<circle cx="1088.1" cy="93.4" r="1.6" stroke="#777" stroke-width="0.6" fill="none"/>
<circle cx="1086.8" cy="45.3" r="1.6" stroke="#777" stroke-width="0.6" fill="none"/>
<circle cx="1129.4" cy="42.7" r="1.6" stroke="#777" stroke-width="0.6" fill="none"/>
<circle cx="1042.7" cy="40" r="1.6" stroke="#777" stroke-width="0.6" fill="none"/>
<circle cx="1018.7" cy="33.3" r="1.6" stroke="#777" stroke-width="0.6" fill="none"/>
<circle cx="1133.4" cy="96" r="1.6" stroke="#777" stroke-width="0.6" fill="none"/>
<circle cx="993.4" cy="132.1" r="0.9" fill="#000"/>
<circle cx="1019.3" cy="92.6" r="0.9" fill="#000"/>
<circle cx="1054.7" cy="92" r="0.9" fill="#000"/>
<circle cx="1086.8" cy="74.7" r="0.9" fill="#000"/>
<circle cx="1101.4" cy="92.8" r="0.9" fill="#000"/>
<circle cx="990.2" cy="57.4" r="0.9" fill="#000"/>
<circle cx="1038.7" cy="152.6" r="0.9" fill="#000"/>
<line x1="966.7" y1="44.5" x2="1006.7" y2="44.5" stroke="#888" stroke-width="0.55"/>
<line x1="966.7" y1="46.7" x2="1004" y2="46.7" stroke="#888" stroke-width="0.55"/>
<line x1="966.7" y1="48.8" x2="998.7" y2="48.8" stroke="#888" stroke-width="0.55"/>
<line x1="1014.7" y1="74.7" x2="1049.4" y2="74.7" stroke="#888" stroke-width="0.55"/>
<line x1="1014.7" y1="76.8" x2="1046.7" y2="76.8" stroke="#888" stroke-width="0.55"/>
<line x1="1014.7" y1="79" x2="1044.1" y2="79" stroke="#888" stroke-width="0.55"/>
<line x1="985.4" y1="104.8" x2="1017.4" y2="104.8" stroke="#888" stroke-width="0.55"/>
<line x1="985.4" y1="107" x2="1014.7" y2="107" stroke="#888" stroke-width="0.55"/>
<line x1="985.4" y1="109.1" x2="1012" y2="109.1" stroke="#888" stroke-width="0.55"/>
<line x1="1018.7" y1="118.7" x2="1053.4" y2="118.7" stroke="#888" stroke-width="0.55"/>
<line x1="1018.7" y1="120.9" x2="1050.7" y2="120.9" stroke="#888" stroke-width="0.55"/>
<line x1="1018.7" y1="123" x2="1048.1" y2="123" stroke="#888" stroke-width="0.55"/>
<line x1="1069.4" y1="65.9" x2="1104.1" y2="65.9" stroke="#888" stroke-width="0.55"/>
<line x1="1069.4" y1="68" x2="1101.4" y2="68" stroke="#888" stroke-width="0.55"/>
<line x1="1069.4" y1="70.2" x2="1098.8" y2="70.2" stroke="#888" stroke-width="0.55"/>
<line x1="1072.1" y1="108" x2="1104.1" y2="108" stroke="#888" stroke-width="0.55"/>
<line x1="1072.1" y1="110.2" x2="1101.4" y2="110.2" stroke="#888" stroke-width="0.55"/>
<line x1="1072.1" y1="112.3" x2="1098.8" y2="112.3" stroke="#888" stroke-width="0.55"/>
<line x1="1097.4" y1="101.4" x2="1132.1" y2="101.4" stroke="#888" stroke-width="0.55"/>
<line x1="1097.4" y1="103.5" x2="1129.4" y2="103.5" stroke="#888" stroke-width="0.55"/>
<line x1="1097.4" y1="105.6" x2="1126.8" y2="105.6" stroke="#888" stroke-width="0.55"/>
<line x1="1077.4" y1="154.7" x2="1104.1" y2="154.7" stroke="#888" stroke-width="0.55"/>
<line x1="1077.4" y1="156.9" x2="1104.1" y2="156.9" stroke="#888" stroke-width="0.55"/>
<line x1="1077.4" y1="159" x2="1101.4" y2="159" stroke="#888" stroke-width="0.55"/>
<line x1="1013.4" y1="178.8" x2="1037.4" y2="178.8" stroke="#888" stroke-width="0.55"/>
<line x1="1013.4" y1="180.9" x2="1034.7" y2="180.9" stroke="#888" stroke-width="0.55"/>
<line x1="1120.1" y1="50.7" x2="1138.8" y2="50.7" stroke="#888" stroke-width="0.55"/>
<line x1="1030.7" y1="53.4" x2="1046.7" y2="53.4" stroke="#888" stroke-width="0.55"/>
<line x1="1050.7" y1="54.7" x2="1061.4" y2="54.7" stroke="#888" stroke-width="0.55"/>
<line x1="1080.1" y1="77.4" x2="1090.8" y2="77.4" stroke="#888" stroke-width="0.55"/>
<line x1="1101.4" y1="77.4" x2="1112.1" y2="77.4" stroke="#888" stroke-width="0.55"/>
<line x1="984" y1="61.4" x2="989.4" y2="61.4" stroke="#888" stroke-width="0.55"/>
<line x1="984" y1="68.8" x2="989.4" y2="68.8" stroke="#888" stroke-width="0.55"/>
<line x1="992" y1="93.4" x2="997.4" y2="93.4" stroke="#888" stroke-width="0.55"/>
<line x1="992" y1="100" x2="997.4" y2="100" stroke="#888" stroke-width="0.55"/>
<line x1="992" y1="120.9" x2="997.4" y2="120.9" stroke="#888" stroke-width="0.55"/>
<line x1="1050.7" y1="169.4" x2="1056.1" y2="169.4" stroke="#888" stroke-width="0.55"/>
<line x1="1058.7" y1="126.7" x2="1064.1" y2="126.7" stroke="#888" stroke-width="0.55"/>
<line x1="1128.1" y1="114.7" x2="1133.4" y2="114.7" stroke="#888" stroke-width="0.55"/>
<line x1="1126.8" y1="126.7" x2="1132.1" y2="126.7" stroke="#888" stroke-width="0.55"/>
<line x1="1122.8" y1="134.7" x2="1128.1" y2="134.7" stroke="#888" stroke-width="0.55"/>
<line x1="1120.1" y1="141.4" x2="1125.4" y2="141.4" stroke="#888" stroke-width="0.55"/>
<line x1="1117.4" y1="149.4" x2="1122.8" y2="149.4" stroke="#888" stroke-width="0.55"/>
<line x1="1112.1" y1="158.7" x2="1117.4" y2="158.7" stroke="#888" stroke-width="0.55"/>
<line x1="1101.4" y1="166.7" x2="1106.8" y2="166.7" stroke="#888" stroke-width="0.55"/>
<line x1="1090.8" y1="174.7" x2="1096.1" y2="174.7" stroke="#888" stroke-width="0.55"/>
<line x1="1082.8" y1="185.4" x2="1088.1" y2="185.4" stroke="#888" stroke-width="0.55"/>
<line x1="1036.1" y1="204.1" x2="1041.4" y2="204.1" stroke="#888" stroke-width="0.55"/>
<line x1="1036.1" y1="216.1" x2="1041.4" y2="216.1" stroke="#888" stroke-width="0.55"/>
<line x1="988" y1="204.1" x2="993.4" y2="204.1" stroke="#888" stroke-width="0.55"/>
<text x="1040" y="236.6" font-size="5.2" text-anchor="middle" fill="#222" font-family="Liberation Serif">4X.10标高层防火分区示意图</text>
<line x1="1005.5" y1="240.1" x2="1073.5" y2="240.1" stroke="#000" stroke-width="1.1"/></svg>
</body></html>
